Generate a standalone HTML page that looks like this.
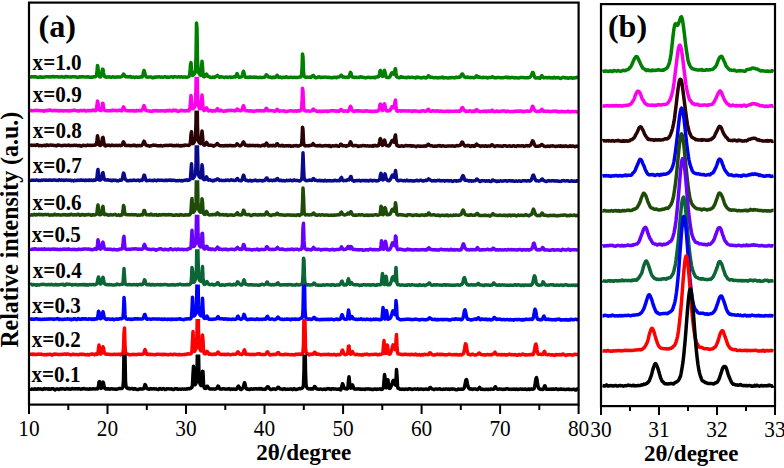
<!DOCTYPE html><html><head><meta charset="utf-8"><style>html,body{margin:0;padding:0;background:#fff;}svg{display:block;}text{font-family:"Liberation Serif",serif;}</style></head><body>
<svg width="784" height="468" viewBox="0 0 784 468">
<rect width="784" height="468" fill="#fff"/>
<defs>
<clipPath id="ca0"><rect x="29.0" y="2.6" width="549.6" height="402.0"/></clipPath>
<clipPath id="ca1"><rect x="29.0" y="76.8" width="549.6" height="327.8"/></clipPath>
<clipPath id="ca2"><rect x="29.0" y="110.5" width="549.6" height="294.1"/></clipPath>
<clipPath id="ca3"><rect x="29.0" y="145.3" width="549.6" height="259.2"/></clipPath>
<clipPath id="ca4"><rect x="29.0" y="180.2" width="549.6" height="224.4"/></clipPath>
<clipPath id="ca5"><rect x="29.0" y="214.7" width="549.6" height="189.9"/></clipPath>
<clipPath id="ca6"><rect x="29.0" y="249.2" width="549.6" height="155.4"/></clipPath>
<clipPath id="ca7"><rect x="29.0" y="284.6" width="549.6" height="120.0"/></clipPath>
<clipPath id="ca8"><rect x="29.0" y="319.1" width="549.6" height="85.5"/></clipPath>
<clipPath id="ca9"><rect x="29.0" y="354.4" width="549.6" height="50.2"/></clipPath>
<clipPath id="cb"><rect x="601.0" y="4.1" width="174.0" height="402.0"/></clipPath>
</defs>
<path clip-path="url(#ca0)" d="M30.0 77.0L30.5 77.1L31.0 77.0L31.5 76.7L32.0 76.7L32.5 76.8L33.0 76.9L33.5 76.8L34.0 76.7L34.5 76.9L35.0 76.9L35.5 76.8L36.0 76.9L36.5 77.0L37.0 77.3L37.5 77.3L38.0 77.5L38.5 77.3L39.0 77.3L39.5 77.0L40.0 76.9L40.5 76.8L41.0 77.2L41.5 77.3L42.0 77.2L42.5 76.9L43.0 77.0L43.5 77.1L44.0 77.2L44.5 77.1L45.0 76.9L45.5 76.9L46.0 76.8L46.5 76.8L47.0 76.8L47.5 76.8L48.0 76.9L48.5 76.8L49.0 77.0L49.5 77.0L50.0 76.8L50.5 76.9L51.0 76.7L51.5 76.9L52.0 76.8L52.5 76.6L53.0 76.6L53.5 76.6L54.0 76.9L54.5 76.9L55.0 76.8L55.5 76.7L56.0 76.8L56.5 76.7L57.0 76.6L57.5 76.7L58.0 76.7L58.5 77.0L59.0 76.9L59.5 77.1L60.0 77.1L60.5 77.1L61.0 76.8L61.5 76.6L62.0 76.8L62.5 77.0L63.0 77.1L63.5 77.1L64.0 77.1L64.5 77.2L65.0 76.8L65.5 76.6L66.0 76.6L66.5 76.9L67.0 77.0L67.5 76.7L68.0 76.8L68.5 76.8L69.0 76.9L69.5 76.9L70.0 76.9L70.5 77.1L71.0 77.0L71.5 77.1L72.0 76.8L72.5 76.7L73.0 76.6L73.5 76.7L74.0 76.8L74.5 76.7L75.0 76.8L75.5 76.7L76.0 77.0L76.5 76.9L77.0 77.2L77.5 77.3L78.0 77.4L78.5 77.3L79.0 77.0L79.5 76.7L80.0 76.7L80.5 76.8L81.0 77.1L81.5 76.9L82.0 76.8L82.5 76.9L83.0 76.8L83.5 76.8L84.0 76.9L84.5 77.0L85.0 77.0L85.5 77.0L86.0 77.0L86.5 77.1L87.0 76.8L87.5 76.9L88.0 76.7L88.5 76.9L89.0 77.0L89.5 77.3L90.0 77.3L90.5 77.3L91.0 77.3L91.5 77.0L92.0 77.3L92.5 76.9L93.0 77.1L93.5 76.8L94.0 76.8L94.5 76.9L95.0 76.8L95.5 76.6L96.0 76.2L96.5 75.2L97.0 70.9L97.5 65.4L98.0 67.6L98.5 73.7L99.0 76.1L99.5 76.8L100.0 76.9L100.5 77.0L101.0 76.3L101.5 74.8L102.0 71.7L102.5 69.2L103.0 69.4L103.5 72.5L104.0 75.2L104.5 76.4L105.0 76.8L105.5 76.9L106.0 77.1L106.5 77.2L107.0 77.0L107.5 76.9L108.0 76.9L108.5 77.1L109.0 76.8L109.5 76.9L110.0 77.0L110.5 77.2L111.0 77.3L111.5 77.2L112.0 77.1L112.5 76.8L113.0 77.0L113.5 77.0L114.0 77.1L114.5 77.0L115.0 77.2L115.5 77.3L116.0 77.1L116.5 77.0L117.0 76.8L117.5 77.0L118.0 77.0L118.5 77.1L119.0 77.0L119.5 77.0L120.0 76.9L120.5 77.0L121.0 76.8L121.5 76.6L122.0 76.3L122.5 75.8L123.0 74.9L123.5 74.1L124.0 74.5L124.5 75.5L125.0 76.3L125.5 76.7L126.0 76.6L126.5 76.6L127.0 76.8L127.5 76.7L128.0 77.0L128.5 76.8L129.0 76.9L129.5 76.7L130.0 76.5L130.5 76.4L131.0 76.7L131.5 77.2L132.0 77.2L132.5 77.2L133.0 77.0L133.5 77.0L134.0 77.1L134.5 77.4L135.0 77.4L135.5 77.2L136.0 77.0L136.5 77.0L137.0 77.1L137.5 77.3L138.0 77.3L138.5 77.3L139.0 77.3L139.5 77.2L140.0 77.1L140.5 76.8L141.0 77.0L141.5 77.0L142.0 77.1L142.5 76.5L143.0 74.7L143.5 72.2L144.0 70.5L144.5 71.8L145.0 73.9L145.5 75.9L146.0 76.5L146.5 77.0L147.0 76.8L147.5 77.2L148.0 77.2L148.5 77.1L149.0 77.0L149.5 76.9L150.0 77.0L150.5 76.9L151.0 76.9L151.5 77.1L152.0 77.4L152.5 77.7L153.0 77.8L153.5 77.8L154.0 77.3L154.5 76.9L155.0 77.0L155.5 77.3L156.0 77.1L156.5 77.0L157.0 76.8L157.5 77.0L158.0 77.0L158.5 76.9L159.0 76.8L159.5 76.8L160.0 77.1L160.5 77.1L161.0 77.2L161.5 76.9L162.0 77.1L162.5 77.1L163.0 77.2L163.5 77.2L164.0 77.0L164.5 76.8L165.0 76.7L165.5 76.8L166.0 76.9L166.5 77.2L167.0 77.3L167.5 77.4L168.0 77.0L168.5 77.2L169.0 77.2L169.5 77.2L170.0 76.9L170.5 76.9L171.0 76.8L171.5 76.8L172.0 76.9L172.5 77.0L173.0 77.4L173.5 77.1L174.0 76.9L174.5 76.6L175.0 76.7L175.5 76.8L176.0 76.9L176.5 77.0L177.0 77.1L177.5 77.1L178.0 76.9L178.5 76.8L179.0 76.8L179.5 77.0L180.0 77.2L180.5 77.0L181.0 76.8L181.5 76.7L182.0 77.0L182.5 77.2L183.0 77.2L183.5 77.0L184.0 76.9L184.5 77.0L185.0 77.1L185.5 77.0L186.0 77.2L186.5 77.2L187.0 77.3L187.5 76.9L188.0 76.9L188.5 76.7L189.0 76.5L189.5 75.6L190.0 72.0L190.5 64.4L191.0 62.6L191.5 69.9L192.0 74.7L192.5 75.4L193.0 75.1L193.5 74.7L194.0 74.5L194.5 73.6L195.0 72.6L195.5 70.0L196.0 56.7L196.5 22.9L197.0 28.4L197.5 60.3L198.0 70.1L198.5 72.3L199.0 73.2L199.5 74.1L200.0 74.8L200.5 75.4L201.0 73.8L201.5 67.4L202.0 61.2L202.5 66.1L203.0 73.6L203.5 76.5L204.0 76.8L204.5 76.7L205.0 76.3L205.5 75.6L206.0 74.4L206.5 74.0L207.0 74.8L207.5 75.9L208.0 76.6L208.5 76.6L209.0 76.6L209.5 76.7L210.0 77.2L210.5 77.2L211.0 77.5L211.5 77.5L212.0 77.4L212.5 77.0L213.0 76.9L213.5 77.2L214.0 77.4L214.5 77.4L215.0 77.1L215.5 76.7L216.0 76.4L216.5 76.0L217.0 75.7L217.5 75.4L218.0 75.8L218.5 76.6L219.0 77.0L219.5 77.3L220.0 77.1L220.5 77.0L221.0 76.7L221.5 76.9L222.0 77.0L222.5 77.1L223.0 77.1L223.5 77.2L224.0 77.4L224.5 77.5L225.0 77.4L225.5 77.2L226.0 77.0L226.5 77.0L227.0 77.2L227.5 77.3L228.0 77.5L228.5 77.2L229.0 77.1L229.5 77.0L230.0 77.0L230.5 77.1L231.0 77.4L231.5 77.3L232.0 77.1L232.5 77.2L233.0 77.1L233.5 77.1L234.0 76.7L234.5 76.9L235.0 77.0L235.5 77.0L236.0 75.9L236.5 74.8L237.0 73.6L237.5 74.6L238.0 75.7L238.5 76.9L239.0 77.2L239.5 77.2L240.0 77.2L240.5 77.0L241.0 77.0L241.5 76.8L242.0 76.3L242.5 74.7L243.0 72.3L243.5 71.3L244.0 73.0L244.5 75.3L245.0 76.8L245.5 77.3L246.0 77.4L246.5 77.2L247.0 77.2L247.5 77.2L248.0 77.4L248.5 77.4L249.0 77.3L249.5 77.3L250.0 76.9L250.5 77.2L251.0 77.0L251.5 77.3L252.0 77.3L252.5 77.2L253.0 77.2L253.5 77.1L254.0 77.1L254.5 77.3L255.0 77.4L255.5 77.3L256.0 77.1L256.5 77.2L257.0 77.2L257.5 77.6L258.0 77.4L258.5 77.5L259.0 77.5L259.5 77.6L260.0 77.3L260.5 77.3L261.0 77.4L261.5 77.6L262.0 77.6L262.5 77.4L263.0 77.4L263.5 77.3L264.0 77.3L264.5 77.2L265.0 76.8L265.5 76.2L266.0 75.1L266.5 74.8L267.0 75.0L267.5 76.1L268.0 76.6L268.5 77.1L269.0 77.1L269.5 77.2L270.0 76.9L270.5 77.1L271.0 77.3L271.5 77.7L272.0 77.7L272.5 77.4L273.0 77.2L273.5 77.1L274.0 77.4L274.5 77.6L275.0 77.2L275.5 77.3L276.0 76.7L276.5 76.3L277.0 75.2L277.5 75.7L278.0 76.3L278.5 77.3L279.0 77.5L279.5 77.3L280.0 77.1L280.5 77.0L281.0 77.3L281.5 77.7L282.0 77.7L282.5 77.6L283.0 77.3L283.5 77.3L284.0 77.4L284.5 77.4L285.0 77.4L285.5 77.1L286.0 76.8L286.5 76.9L287.0 77.1L287.5 77.4L288.0 77.4L288.5 77.4L289.0 77.4L289.5 77.5L290.0 77.3L290.5 77.3L291.0 77.2L291.5 77.3L292.0 77.3L292.5 77.5L293.0 77.5L293.5 77.5L294.0 77.3L294.5 77.3L295.0 77.4L295.5 77.4L296.0 77.6L296.5 77.5L297.0 77.5L297.5 77.6L298.0 77.5L298.5 77.4L299.0 77.1L299.5 77.1L300.0 77.1L300.5 77.1L301.0 76.7L301.5 75.7L302.0 69.5L302.5 54.0L303.0 56.9L303.5 71.6L304.0 75.8L304.5 76.7L305.0 76.9L305.5 77.2L306.0 77.2L306.5 77.3L307.0 77.0L307.5 77.1L308.0 77.2L308.5 77.3L309.0 77.3L309.5 77.1L310.0 77.1L310.5 77.4L311.0 77.3L311.5 77.1L312.0 76.4L312.5 75.7L313.0 75.4L313.5 75.5L314.0 76.3L314.5 77.1L315.0 77.5L315.5 77.7L316.0 77.6L316.5 77.7L317.0 77.4L317.5 77.3L318.0 77.1L318.5 77.1L319.0 76.8L319.5 76.9L320.0 77.1L320.5 77.5L321.0 77.6L321.5 77.5L322.0 77.3L322.5 77.2L323.0 77.1L323.5 77.3L324.0 77.3L324.5 77.3L325.0 77.2L325.5 77.0L326.0 77.1L326.5 77.2L327.0 77.3L327.5 77.5L328.0 77.6L328.5 77.6L329.0 77.5L329.5 77.2L330.0 77.5L330.5 77.6L331.0 77.7L331.5 77.6L332.0 77.8L332.5 77.8L333.0 77.6L333.5 77.2L334.0 77.3L334.5 77.4L335.0 77.3L335.5 77.6L336.0 77.6L336.5 77.7L337.0 77.2L337.5 76.9L338.0 76.9L338.5 76.9L339.0 77.0L339.5 76.9L340.0 76.6L340.5 75.9L341.0 75.3L341.5 75.3L342.0 76.1L342.5 76.8L343.0 77.2L343.5 77.1L344.0 77.1L344.5 77.0L345.0 77.3L345.5 77.3L346.0 77.5L346.5 77.3L347.0 77.1L347.5 77.3L348.0 77.5L348.5 77.4L349.0 76.9L349.5 75.7L350.0 73.7L350.5 72.4L351.0 73.1L351.5 75.3L352.0 76.5L352.5 77.1L353.0 77.0L353.5 77.3L354.0 77.4L354.5 77.6L355.0 77.5L355.5 77.3L356.0 77.3L356.5 77.4L357.0 77.5L357.5 77.5L358.0 77.3L358.5 77.4L359.0 77.4L359.5 77.4L360.0 77.0L360.5 76.7L361.0 76.8L361.5 77.1L362.0 77.2L362.5 77.2L363.0 77.3L363.5 77.5L364.0 77.5L364.5 77.4L365.0 77.7L365.5 77.9L366.0 77.7L366.5 77.6L367.0 77.4L367.5 77.5L368.0 77.3L368.5 77.3L369.0 77.3L369.5 77.5L370.0 77.5L370.5 77.7L371.0 77.4L371.5 77.4L372.0 77.4L372.5 77.5L373.0 77.6L373.5 77.4L374.0 77.5L374.5 77.6L375.0 77.8L375.5 77.2L376.0 77.0L376.5 76.9L377.0 77.1L377.5 77.0L378.0 76.9L378.5 76.8L379.0 75.9L379.5 73.6L380.0 70.9L380.5 70.4L381.0 72.4L381.5 74.8L382.0 76.0L382.5 76.4L383.0 76.3L383.5 74.3L384.0 71.7L384.5 70.3L385.0 72.1L385.5 74.8L386.0 76.7L386.5 77.3L387.0 77.5L387.5 77.4L388.0 77.5L388.5 77.4L389.0 77.6L389.5 77.1L390.0 76.6L390.5 75.4L391.0 74.4L391.5 73.3L392.0 72.8L392.5 72.7L393.0 73.2L393.5 73.8L394.0 74.4L394.5 73.4L395.0 69.5L395.5 68.7L396.0 73.0L396.5 76.4L397.0 77.1L397.5 77.3L398.0 77.5L398.5 77.5L399.0 77.8L399.5 77.7L400.0 77.4L400.5 76.9L401.0 76.7L401.5 76.9L402.0 77.3L402.5 77.2L403.0 77.4L403.5 77.3L404.0 77.5L404.5 77.5L405.0 77.5L405.5 77.5L406.0 77.7L406.5 77.7L407.0 77.4L407.5 77.2L408.0 77.2L408.5 77.4L409.0 77.3L409.5 77.5L410.0 77.6L410.5 77.5L411.0 77.4L411.5 77.3L412.0 77.2L412.5 77.4L413.0 77.4L413.5 77.6L414.0 77.4L414.5 77.6L415.0 77.6L415.5 77.9L416.0 77.6L416.5 77.4L417.0 77.1L417.5 77.4L418.0 77.4L418.5 77.6L419.0 77.5L419.5 77.6L420.0 77.6L420.5 77.8L421.0 78.0L421.5 78.0L422.0 77.8L422.5 77.7L423.0 77.5L423.5 77.2L424.0 77.3L424.5 77.5L425.0 77.8L425.5 77.9L426.0 77.9L426.5 77.6L427.0 77.4L427.5 76.9L428.0 76.1L428.5 75.7L429.0 76.0L429.5 76.8L430.0 77.2L430.5 77.4L431.0 77.2L431.5 77.3L432.0 77.2L432.5 77.4L433.0 77.6L433.5 77.7L434.0 77.8L434.5 77.6L435.0 77.7L435.5 77.5L436.0 77.5L436.5 77.5L437.0 77.9L437.5 78.0L438.0 77.8L438.5 77.7L439.0 77.6L439.5 77.7L440.0 77.5L440.5 77.7L441.0 77.6L441.5 77.5L442.0 77.1L442.5 77.2L443.0 77.4L443.5 77.9L444.0 77.6L444.5 77.7L445.0 77.7L445.5 77.8L446.0 77.8L446.5 77.8L447.0 77.9L447.5 78.0L448.0 78.1L448.5 78.1L449.0 77.8L449.5 77.6L450.0 77.8L450.5 77.9L451.0 77.8L451.5 77.4L452.0 77.4L452.5 77.6L453.0 77.6L453.5 77.7L454.0 77.7L454.5 77.9L455.0 77.6L455.5 77.4L456.0 77.2L456.5 77.4L457.0 77.3L457.5 77.6L458.0 77.5L458.5 77.3L459.0 77.1L459.5 77.1L460.0 77.2L460.5 76.8L461.0 75.7L461.5 74.6L462.0 73.9L462.5 74.0L463.0 74.7L463.5 75.6L464.0 76.4L464.5 76.9L465.0 77.1L465.5 77.5L466.0 77.5L466.5 77.3L467.0 77.1L467.5 77.1L468.0 77.4L468.5 77.3L469.0 77.4L469.5 77.5L470.0 77.7L470.5 77.4L471.0 77.5L471.5 77.5L472.0 77.6L472.5 77.6L473.0 77.6L473.5 77.7L474.0 77.7L474.5 77.6L475.0 77.4L475.5 76.9L476.0 76.2L476.5 75.7L477.0 76.0L477.5 77.0L478.0 77.3L478.5 77.2L479.0 76.8L479.5 77.0L480.0 77.3L480.5 77.5L481.0 77.5L481.5 77.4L482.0 77.6L482.5 77.4L483.0 77.7L483.5 77.3L484.0 77.4L484.5 77.5L485.0 77.6L485.5 77.6L486.0 77.5L486.5 77.5L487.0 77.6L487.5 77.9L488.0 77.9L488.5 77.7L489.0 77.4L489.5 77.5L490.0 77.4L490.5 77.5L491.0 77.4L491.5 77.2L492.0 76.7L492.5 76.8L493.0 76.9L493.5 77.5L494.0 77.6L494.5 77.7L495.0 77.6L495.5 77.7L496.0 77.9L496.5 77.7L497.0 77.4L497.5 77.4L498.0 77.5L498.5 77.6L499.0 77.6L499.5 77.6L500.0 77.7L500.5 77.7L501.0 77.8L501.5 77.8L502.0 77.7L502.5 77.7L503.0 77.8L503.5 77.6L504.0 77.5L504.5 77.4L505.0 77.4L505.5 77.3L506.0 77.1L506.5 77.4L507.0 77.4L507.5 77.7L508.0 77.4L508.5 77.2L509.0 77.5L509.5 77.8L510.0 78.0L510.5 77.6L511.0 77.4L511.5 77.5L512.0 77.5L512.5 77.5L513.0 77.5L513.5 77.5L514.0 77.9L514.5 77.8L515.0 78.0L515.5 77.6L516.0 77.7L516.5 77.7L517.0 77.8L517.5 77.9L518.0 77.9L518.5 78.1L519.0 78.0L519.5 77.8L520.0 77.5L520.5 77.5L521.0 77.4L521.5 77.6L522.0 77.6L522.5 77.6L523.0 77.5L523.5 77.5L524.0 77.6L524.5 77.8L525.0 77.7L525.5 77.8L526.0 77.7L526.5 77.7L527.0 77.5L527.5 77.8L528.0 77.7L528.5 77.7L529.0 77.6L529.5 77.3L530.0 77.2L530.5 76.6L531.0 76.0L531.5 74.9L532.0 73.6L532.5 72.5L533.0 72.4L533.5 73.5L534.0 75.2L534.5 76.7L535.0 77.5L535.5 78.0L536.0 77.9L536.5 78.0L537.0 77.8L537.5 77.9L538.0 77.8L538.5 77.9L539.0 78.1L539.5 78.2L540.0 78.2L540.5 77.7L541.0 76.6L541.5 75.9L542.0 75.7L542.5 76.9L543.0 77.3L543.5 77.8L544.0 77.7L544.5 77.7L545.0 77.4L545.5 77.4L546.0 77.4L546.5 77.8L547.0 77.8L547.5 77.8L548.0 77.6L548.5 77.7L549.0 77.4L549.5 77.8L550.0 77.8L550.5 77.9L551.0 77.7L551.5 77.8L552.0 77.9L552.5 78.1L553.0 78.0L553.5 77.6L554.0 77.3L554.5 77.4L555.0 77.9L555.5 78.1L556.0 77.8L556.5 77.8L557.0 77.8L557.5 77.8L558.0 77.6L558.5 77.6L559.0 77.8L559.5 78.2L560.0 78.2L560.5 78.4L561.0 78.1L561.5 78.0L562.0 77.7L562.5 77.5L563.0 77.3L563.5 77.5L564.0 77.7L564.5 77.7L565.0 77.6L565.5 77.8L566.0 78.0L566.5 78.1L567.0 77.8L567.5 78.1L568.0 78.1L568.5 78.3L569.0 78.0L569.5 77.8L570.0 77.8L570.5 77.8L571.0 77.6L571.5 77.9L572.0 77.9L572.5 78.2L573.0 77.9L573.5 77.8L574.0 77.9L574.5 78.0L575.0 77.9L575.5 77.7L576.0 77.7L576.5 77.6L577.0 77.3L577.5 77.4L578.0 77.6" fill="none" stroke="#008000" stroke-width="3.5" stroke-linejoin="round"/>
<path clip-path="url(#ca1)" d="M30.0 110.7L30.5 110.6L31.0 110.6L31.5 110.6L32.0 110.8L32.5 110.8L33.0 110.8L33.5 110.7L34.0 110.6L34.5 110.4L35.0 110.3L35.5 110.4L36.0 110.4L36.5 110.5L37.0 110.6L37.5 110.5L38.0 110.6L38.5 110.4L39.0 110.5L39.5 110.5L40.0 110.7L40.5 110.8L41.0 110.7L41.5 110.7L42.0 110.5L42.5 110.6L43.0 110.8L43.5 111.1L44.0 111.2L44.5 110.9L45.0 110.7L45.5 110.4L46.0 110.5L46.5 110.8L47.0 110.6L47.5 110.4L48.0 110.3L48.5 110.4L49.0 110.1L49.5 109.9L50.0 110.1L50.5 110.3L51.0 110.4L51.5 110.5L52.0 110.7L52.5 110.8L53.0 110.8L53.5 110.7L54.0 110.7L54.5 110.3L55.0 110.4L55.5 110.4L56.0 110.7L56.5 110.6L57.0 110.4L57.5 110.5L58.0 110.6L58.5 111.0L59.0 111.1L59.5 110.9L60.0 110.6L60.5 110.7L61.0 110.8L61.5 110.8L62.0 110.6L62.5 110.6L63.0 110.7L63.5 111.0L64.0 111.0L64.5 110.8L65.0 110.8L65.5 110.7L66.0 110.9L66.5 110.7L67.0 110.7L67.5 110.8L68.0 110.7L68.5 110.6L69.0 110.9L69.5 110.9L70.0 111.0L70.5 110.8L71.0 110.8L71.5 110.6L72.0 110.4L72.5 110.5L73.0 110.4L73.5 110.4L74.0 110.2L74.5 110.1L75.0 110.3L75.5 110.5L76.0 110.6L76.5 110.7L77.0 110.7L77.5 110.9L78.0 110.7L78.5 111.0L79.0 111.0L79.5 111.0L80.0 110.6L80.5 110.4L81.0 110.4L81.5 110.5L82.0 110.8L82.5 110.7L83.0 110.7L83.5 110.5L84.0 110.4L84.5 110.3L85.0 110.6L85.5 111.0L86.0 111.1L86.5 111.1L87.0 110.8L87.5 110.6L88.0 110.6L88.5 110.7L89.0 110.6L89.5 110.4L90.0 110.6L90.5 110.8L91.0 110.7L91.5 110.6L92.0 110.4L92.5 110.2L93.0 110.1L93.5 110.1L94.0 110.2L94.5 110.5L95.0 110.7L95.5 110.7L96.0 110.4L96.5 109.2L97.0 105.6L97.5 101.0L98.0 102.9L98.5 107.8L99.0 109.8L99.5 110.2L100.0 110.2L100.5 110.2L101.0 110.6L101.5 110.2L102.0 107.7L102.5 103.2L103.0 103.4L103.5 107.6L104.0 109.9L104.5 110.5L105.0 110.5L105.5 110.5L106.0 110.6L106.5 110.8L107.0 110.7L107.5 110.7L108.0 110.6L108.5 110.7L109.0 110.7L109.5 110.8L110.0 110.7L110.5 110.6L111.0 110.6L111.5 110.7L112.0 110.3L112.5 110.4L113.0 110.2L113.5 110.6L114.0 110.5L114.5 110.6L115.0 110.5L115.5 110.3L116.0 110.4L116.5 110.6L117.0 110.8L117.5 110.8L118.0 110.6L118.5 110.3L119.0 110.4L119.5 110.3L120.0 110.3L120.5 110.3L121.0 110.6L121.5 110.9L122.0 110.8L122.5 109.5L123.0 108.1L123.5 106.9L124.0 107.7L124.5 108.8L125.0 109.7L125.5 110.2L126.0 110.5L126.5 110.7L127.0 110.7L127.5 110.7L128.0 110.7L128.5 110.6L129.0 110.7L129.5 110.7L130.0 111.0L130.5 110.8L131.0 110.7L131.5 110.6L132.0 110.5L132.5 110.8L133.0 110.7L133.5 110.9L134.0 110.6L134.5 110.7L135.0 111.0L135.5 111.1L136.0 111.1L136.5 110.6L137.0 110.4L137.5 110.4L138.0 110.8L138.5 110.7L139.0 110.5L139.5 110.3L140.0 110.5L140.5 110.9L141.0 110.8L141.5 110.4L142.0 110.0L142.5 109.4L143.0 108.5L143.5 106.8L144.0 105.6L144.5 106.8L145.0 108.7L145.5 110.1L146.0 110.4L146.5 110.4L147.0 110.5L147.5 110.7L148.0 110.9L148.5 111.0L149.0 111.0L149.5 111.0L150.0 111.2L150.5 111.1L151.0 111.2L151.5 111.2L152.0 111.4L152.5 111.1L153.0 110.9L153.5 110.4L154.0 110.6L154.5 110.8L155.0 110.9L155.5 110.7L156.0 110.7L156.5 110.6L157.0 110.6L157.5 110.7L158.0 111.1L158.5 111.0L159.0 110.8L159.5 110.9L160.0 111.0L160.5 111.0L161.0 110.7L161.5 110.7L162.0 110.7L162.5 110.7L163.0 110.8L163.5 111.0L164.0 111.0L164.5 110.8L165.0 111.1L165.5 111.2L166.0 111.0L166.5 110.5L167.0 110.7L167.5 110.5L168.0 110.9L168.5 110.4L169.0 110.6L169.5 110.3L170.0 110.5L170.5 110.8L171.0 110.8L171.5 110.9L172.0 111.1L172.5 110.8L173.0 110.6L173.5 110.1L174.0 110.6L174.5 110.5L175.0 110.5L175.5 110.2L176.0 110.3L176.5 110.7L177.0 111.0L177.5 111.2L178.0 111.3L178.5 111.3L179.0 111.1L179.5 110.9L180.0 110.9L180.5 110.5L181.0 110.3L181.5 110.3L182.0 110.4L182.5 110.7L183.0 110.7L183.5 110.8L184.0 110.8L184.5 110.8L185.0 111.1L185.5 110.9L186.0 110.6L186.5 110.5L187.0 110.5L187.5 110.8L188.0 110.8L188.5 111.0L189.0 110.5L189.5 109.7L190.0 107.6L190.5 101.5L191.0 95.4L191.5 99.7L192.0 106.4L192.5 108.8L193.0 108.8L193.5 108.3L194.0 107.8L194.5 107.0L195.0 106.0L195.5 103.0L196.0 87.0L196.5 45.4L197.0 52.5L197.5 91.5L198.0 103.6L198.5 106.1L199.0 107.4L199.5 108.4L200.0 108.7L200.5 108.6L201.0 106.8L201.5 100.8L202.0 95.0L202.5 100.1L203.0 107.0L203.5 110.0L204.0 110.6L204.5 110.5L205.0 109.9L205.5 108.9L206.0 108.1L206.5 107.8L207.0 108.5L207.5 109.9L208.0 110.6L208.5 110.9L209.0 110.7L209.5 110.5L210.0 110.5L210.5 110.3L211.0 110.5L211.5 110.5L212.0 111.1L212.5 111.2L213.0 111.0L213.5 110.9L214.0 110.7L214.5 110.9L215.0 110.9L215.5 110.9L216.0 110.7L216.5 110.1L217.0 109.2L217.5 108.7L218.0 109.3L218.5 110.2L219.0 110.8L219.5 110.9L220.0 110.6L220.5 110.3L221.0 110.2L221.5 110.4L222.0 110.8L222.5 111.0L223.0 111.1L223.5 111.2L224.0 111.2L224.5 111.1L225.0 110.9L225.5 110.9L226.0 110.8L226.5 111.1L227.0 110.8L227.5 110.7L228.0 110.3L228.5 110.5L229.0 110.3L229.5 110.6L230.0 110.6L230.5 110.4L231.0 110.6L231.5 110.5L232.0 110.6L232.5 110.4L233.0 110.5L233.5 110.5L234.0 110.7L234.5 110.7L235.0 111.0L235.5 110.8L236.0 110.5L236.5 109.6L237.0 109.0L237.5 109.2L238.0 110.1L238.5 110.4L239.0 110.5L239.5 110.3L240.0 110.6L240.5 110.8L241.0 110.8L241.5 110.5L242.0 110.1L242.5 108.7L243.0 106.4L243.5 105.7L244.0 107.0L244.5 109.2L245.0 110.1L245.5 110.5L246.0 110.8L246.5 110.8L247.0 110.8L247.5 110.7L248.0 110.8L248.5 111.0L249.0 111.0L249.5 110.7L250.0 110.9L250.5 110.7L251.0 111.1L251.5 110.9L252.0 111.0L252.5 111.2L253.0 111.3L253.5 111.4L254.0 111.1L254.5 110.9L255.0 110.9L255.5 111.0L256.0 111.0L256.5 110.9L257.0 110.5L257.5 110.7L258.0 110.8L258.5 111.0L259.0 110.9L259.5 110.6L260.0 110.6L260.5 110.8L261.0 110.9L261.5 111.0L262.0 110.8L262.5 110.7L263.0 110.8L263.5 111.1L264.0 111.0L264.5 110.7L265.0 110.4L265.5 109.8L266.0 108.7L266.5 108.3L267.0 109.0L267.5 110.0L268.0 110.6L268.5 110.7L269.0 110.7L269.5 110.6L270.0 110.7L270.5 110.5L271.0 110.5L271.5 110.6L272.0 110.8L272.5 110.8L273.0 110.9L273.5 111.0L274.0 111.1L274.5 111.2L275.0 111.2L275.5 111.1L276.0 110.4L276.5 109.9L277.0 109.3L277.5 109.5L278.0 110.0L278.5 110.7L279.0 110.9L279.5 111.2L280.0 111.1L280.5 111.0L281.0 110.9L281.5 110.9L282.0 111.0L282.5 110.9L283.0 110.9L283.5 111.0L284.0 110.8L284.5 111.1L285.0 111.2L285.5 111.5L286.0 111.4L286.5 111.4L287.0 111.4L287.5 111.2L288.0 111.2L288.5 111.0L289.0 111.0L289.5 111.0L290.0 111.0L290.5 110.8L291.0 110.7L291.5 110.8L292.0 111.0L292.5 111.2L293.0 111.1L293.5 110.9L294.0 110.9L294.5 111.0L295.0 110.9L295.5 110.9L296.0 110.8L296.5 111.1L297.0 111.2L297.5 111.2L298.0 110.8L298.5 110.7L299.0 110.7L299.5 111.0L300.0 110.9L300.5 110.6L301.0 110.2L301.5 108.9L302.0 103.2L302.5 88.3L303.0 91.4L303.5 105.2L304.0 109.7L304.5 110.5L305.0 110.8L305.5 110.8L306.0 111.1L306.5 111.1L307.0 111.1L307.5 110.9L308.0 111.1L308.5 111.1L309.0 111.0L309.5 111.1L310.0 111.2L310.5 111.2L311.0 111.0L311.5 110.8L312.0 110.6L312.5 110.0L313.0 109.3L313.5 109.1L314.0 109.9L314.5 110.3L315.0 110.7L315.5 110.7L316.0 110.8L316.5 111.2L317.0 111.3L317.5 111.6L318.0 111.5L318.5 111.3L319.0 111.2L319.5 111.1L320.0 111.4L320.5 111.2L321.0 111.4L321.5 111.2L322.0 111.4L322.5 111.3L323.0 111.4L323.5 111.5L324.0 111.4L324.5 111.1L325.0 110.9L325.5 111.0L326.0 111.2L326.5 111.4L327.0 111.2L327.5 111.4L328.0 111.1L328.5 111.2L329.0 111.1L329.5 111.2L330.0 111.0L330.5 110.8L331.0 110.7L331.5 110.8L332.0 110.7L332.5 110.7L333.0 110.7L333.5 110.7L334.0 110.9L334.5 110.8L335.0 111.1L335.5 111.2L336.0 111.1L336.5 111.2L337.0 111.0L337.5 111.1L338.0 110.9L338.5 111.2L339.0 111.3L339.5 111.1L340.0 110.4L340.5 109.6L341.0 109.5L341.5 109.6L342.0 110.4L342.5 110.6L343.0 111.2L343.5 111.1L344.0 111.2L344.5 110.9L345.0 111.1L345.5 111.1L346.0 111.0L346.5 110.9L347.0 110.9L347.5 111.3L348.0 111.3L348.5 110.9L349.0 110.1L349.5 108.8L350.0 107.3L350.5 106.3L351.0 107.0L351.5 108.6L352.0 109.9L352.5 110.7L353.0 111.0L353.5 111.4L354.0 111.4L354.5 111.3L355.0 111.2L355.5 110.7L356.0 110.9L356.5 110.9L357.0 111.1L357.5 110.8L358.0 110.7L358.5 110.9L359.0 111.1L359.5 111.0L360.0 110.9L360.5 111.1L361.0 111.1L361.5 111.0L362.0 111.1L362.5 111.3L363.0 111.4L363.5 111.2L364.0 111.2L364.5 110.9L365.0 110.8L365.5 111.1L366.0 111.2L366.5 111.1L367.0 110.9L367.5 110.8L368.0 111.0L368.5 111.2L369.0 111.2L369.5 111.3L370.0 111.4L370.5 111.4L371.0 111.4L371.5 111.1L372.0 111.4L372.5 111.5L373.0 111.6L373.5 111.5L374.0 111.3L374.5 111.4L375.0 111.2L375.5 111.4L376.0 111.3L376.5 111.3L377.0 111.1L377.5 111.1L378.0 110.9L378.5 110.7L379.0 109.5L379.5 107.6L380.0 104.6L380.5 104.1L381.0 106.1L381.5 108.9L382.0 110.1L382.5 110.6L383.0 109.9L383.5 107.8L384.0 105.0L384.5 103.8L385.0 105.6L385.5 108.2L386.0 110.0L386.5 110.8L387.0 111.1L387.5 110.9L388.0 110.8L388.5 110.7L389.0 110.8L389.5 110.8L390.0 110.2L390.5 109.6L391.0 108.6L391.5 107.7L392.0 106.7L392.5 106.5L393.0 106.5L393.5 107.2L394.0 107.9L394.5 106.3L395.0 101.5L395.5 100.1L396.0 106.0L396.5 110.2L397.0 111.1L397.5 111.2L398.0 111.1L398.5 111.0L399.0 110.8L399.5 110.6L400.0 110.8L400.5 111.1L401.0 111.2L401.5 111.1L402.0 110.8L402.5 111.0L403.0 110.8L403.5 110.9L404.0 110.8L404.5 110.9L405.0 110.9L405.5 111.0L406.0 111.1L406.5 111.0L407.0 111.1L407.5 110.9L408.0 111.0L408.5 110.8L409.0 111.1L409.5 111.1L410.0 111.0L410.5 111.0L411.0 111.1L411.5 111.5L412.0 111.5L412.5 111.0L413.0 110.9L413.5 110.8L414.0 111.2L414.5 111.2L415.0 111.2L415.5 110.8L416.0 111.0L416.5 111.0L417.0 111.2L417.5 111.2L418.0 111.3L418.5 111.4L419.0 111.5L419.5 111.5L420.0 111.4L420.5 111.1L421.0 111.4L421.5 111.2L422.0 111.1L422.5 110.8L423.0 110.8L423.5 110.9L424.0 111.0L424.5 111.2L425.0 111.1L425.5 111.2L426.0 111.2L426.5 111.0L427.0 110.7L427.5 110.1L428.0 109.6L428.5 109.3L429.0 109.9L429.5 110.7L430.0 111.2L430.5 111.3L431.0 111.3L431.5 111.4L432.0 111.0L432.5 110.9L433.0 110.7L433.5 111.0L434.0 110.9L434.5 110.9L435.0 110.9L435.5 111.2L436.0 111.2L436.5 111.0L437.0 111.0L437.5 110.8L438.0 111.1L438.5 111.0L439.0 111.4L439.5 111.0L440.0 111.2L440.5 111.1L441.0 111.2L441.5 111.0L442.0 111.1L442.5 111.3L443.0 111.6L443.5 111.5L444.0 111.4L444.5 111.3L445.0 111.4L445.5 111.4L446.0 111.5L446.5 111.3L447.0 111.1L447.5 111.2L448.0 111.3L448.5 111.6L449.0 111.3L449.5 111.4L450.0 111.3L450.5 111.5L451.0 111.3L451.5 111.3L452.0 111.2L452.5 111.2L453.0 111.3L453.5 111.4L454.0 111.4L454.5 111.3L455.0 111.2L455.5 111.1L456.0 111.0L456.5 111.1L457.0 111.3L457.5 111.3L458.0 110.9L458.5 110.9L459.0 111.3L459.5 111.5L460.0 111.2L460.5 110.8L461.0 109.9L461.5 108.8L462.0 107.8L462.5 107.6L463.0 108.3L463.5 109.3L464.0 110.3L464.5 110.6L465.0 110.9L465.5 111.1L466.0 111.4L466.5 111.1L467.0 111.0L467.5 111.1L468.0 111.3L468.5 111.3L469.0 111.1L469.5 110.9L470.0 110.8L470.5 110.9L471.0 111.2L471.5 111.5L472.0 111.4L472.5 111.4L473.0 110.9L473.5 110.9L474.0 111.2L474.5 111.6L475.0 111.4L475.5 110.8L476.0 110.0L476.5 109.6L477.0 109.8L477.5 110.5L478.0 111.1L478.5 111.2L479.0 111.4L479.5 111.3L480.0 111.6L480.5 111.7L481.0 111.5L481.5 111.5L482.0 111.4L482.5 111.4L483.0 111.3L483.5 111.2L484.0 111.5L484.5 111.3L485.0 111.1L485.5 111.0L486.0 111.4L486.5 111.7L487.0 111.6L487.5 111.1L488.0 110.9L488.5 110.9L489.0 111.2L489.5 111.3L490.0 111.4L490.5 111.2L491.0 111.2L491.5 110.7L492.0 110.3L492.5 110.2L493.0 110.9L493.5 111.4L494.0 111.5L494.5 111.7L495.0 111.6L495.5 111.5L496.0 111.3L496.5 111.1L497.0 111.1L497.5 111.1L498.0 111.4L498.5 111.6L499.0 111.6L499.5 111.5L500.0 111.5L500.5 111.4L501.0 111.3L501.5 111.1L502.0 110.9L502.5 111.1L503.0 111.1L503.5 111.0L504.0 111.1L504.5 110.9L505.0 111.2L505.5 111.3L506.0 111.7L506.5 111.6L507.0 111.5L507.5 111.1L508.0 111.2L508.5 111.3L509.0 111.5L509.5 111.5L510.0 111.7L510.5 111.6L511.0 111.7L511.5 111.6L512.0 111.6L512.5 111.4L513.0 111.6L513.5 111.8L514.0 111.4L514.5 111.5L515.0 111.1L515.5 111.3L516.0 111.1L516.5 111.5L517.0 111.4L517.5 111.2L518.0 111.1L518.5 111.3L519.0 111.4L519.5 111.2L520.0 110.9L520.5 111.1L521.0 111.1L521.5 111.5L522.0 111.2L522.5 111.4L523.0 111.5L523.5 111.8L524.0 111.7L524.5 111.2L525.0 111.2L525.5 111.2L526.0 111.3L526.5 111.1L527.0 111.1L527.5 111.0L528.0 111.1L528.5 111.2L529.0 111.3L529.5 111.3L530.0 111.3L530.5 110.9L531.0 110.4L531.5 109.0L532.0 107.6L532.5 106.3L533.0 106.6L533.5 107.8L534.0 109.2L534.5 110.1L535.0 110.7L535.5 110.9L536.0 111.2L536.5 111.2L537.0 111.6L537.5 111.4L538.0 111.4L538.5 111.3L539.0 111.2L539.5 111.1L540.0 111.3L540.5 111.1L541.0 110.7L541.5 109.5L542.0 109.3L542.5 109.9L543.0 110.7L543.5 111.4L544.0 111.3L544.5 111.3L545.0 111.1L545.5 111.3L546.0 111.2L546.5 111.5L547.0 111.3L547.5 111.3L548.0 111.1L548.5 111.3L549.0 111.5L549.5 111.7L550.0 111.6L550.5 111.3L551.0 111.5L551.5 111.4L552.0 111.5L552.5 111.2L553.0 111.2L553.5 111.1L554.0 111.1L554.5 111.1L555.0 111.2L555.5 111.0L556.0 111.4L556.5 111.3L557.0 111.6L557.5 111.3L558.0 111.6L558.5 111.9L559.0 111.9L559.5 111.8L560.0 111.5L560.5 111.7L561.0 111.4L561.5 111.4L562.0 111.3L562.5 111.5L563.0 111.7L563.5 111.8L564.0 111.8L564.5 111.7L565.0 111.6L565.5 111.7L566.0 111.7L566.5 111.8L567.0 111.6L567.5 111.3L568.0 111.1L568.5 111.2L569.0 111.6L569.5 111.9L570.0 112.1L570.5 111.8L571.0 111.7L571.5 111.5L572.0 111.6L572.5 111.5L573.0 111.4L573.5 111.4L574.0 111.4L574.5 111.7L575.0 111.5L575.5 111.6L576.0 111.6L576.5 111.9L577.0 112.0L577.5 111.8L578.0 111.3" fill="none" stroke="#ff00ee" stroke-width="3.5" stroke-linejoin="round"/>
<path clip-path="url(#ca2)" d="M30.0 145.5L30.5 145.2L31.0 145.4L31.5 145.3L32.0 145.5L32.5 145.3L33.0 145.4L33.5 145.3L34.0 145.2L34.5 145.2L35.0 145.2L35.5 145.5L36.0 145.3L36.5 145.1L37.0 144.7L37.5 144.8L38.0 145.3L38.5 145.4L39.0 145.7L39.5 145.6L40.0 145.4L40.5 145.4L41.0 145.4L41.5 145.7L42.0 145.7L42.5 145.6L43.0 145.5L43.5 145.5L44.0 145.3L44.5 145.4L45.0 145.4L45.5 145.8L46.0 145.5L46.5 145.0L47.0 144.9L47.5 145.1L48.0 145.5L48.5 145.4L49.0 145.4L49.5 145.2L50.0 145.1L50.5 145.0L51.0 145.1L51.5 145.2L52.0 145.0L52.5 145.2L53.0 145.2L53.5 145.4L54.0 145.4L54.5 145.5L55.0 145.5L55.5 145.5L56.0 145.8L56.5 145.9L57.0 145.5L57.5 145.1L58.0 144.9L58.5 144.9L59.0 145.2L59.5 145.3L60.0 145.4L60.5 145.5L61.0 145.6L61.5 145.7L62.0 145.6L62.5 145.6L63.0 145.5L63.5 145.5L64.0 145.2L64.5 145.3L65.0 145.3L65.5 145.4L66.0 145.5L66.5 145.5L67.0 145.6L67.5 145.5L68.0 145.3L68.5 145.1L69.0 145.4L69.5 145.5L70.0 145.7L70.5 145.5L71.0 145.5L71.5 145.5L72.0 145.4L72.5 145.4L73.0 145.4L73.5 145.4L74.0 145.3L74.5 145.2L75.0 145.3L75.5 145.5L76.0 145.3L76.5 145.4L77.0 145.4L77.5 145.6L78.0 145.7L78.5 145.5L79.0 145.5L79.5 145.4L80.0 145.5L80.5 146.0L81.0 146.0L81.5 146.2L82.0 145.6L82.5 145.5L83.0 145.2L83.5 145.3L84.0 145.5L84.5 145.5L85.0 145.5L85.5 145.6L86.0 145.7L86.5 145.5L87.0 145.4L87.5 145.1L88.0 145.3L88.5 145.3L89.0 145.5L89.5 145.4L90.0 145.3L90.5 145.2L91.0 145.4L91.5 145.6L92.0 145.4L92.5 145.3L93.0 145.3L93.5 145.3L94.0 145.1L94.5 145.0L95.0 145.2L95.5 145.0L96.0 144.8L96.5 143.7L97.0 140.3L97.5 135.8L98.0 138.1L98.5 143.0L99.0 144.9L99.5 145.1L100.0 145.4L100.5 145.5L101.0 145.1L101.5 143.8L102.0 140.7L102.5 137.7L103.0 137.4L103.5 140.2L104.0 143.2L104.5 144.9L105.0 145.9L105.5 146.0L106.0 145.9L106.5 145.4L107.0 145.2L107.5 145.1L108.0 145.2L108.5 145.2L109.0 145.1L109.5 145.3L110.0 145.5L110.5 145.8L111.0 145.5L111.5 145.3L112.0 145.0L112.5 145.3L113.0 145.5L113.5 145.6L114.0 145.5L114.5 145.5L115.0 145.4L115.5 145.5L116.0 145.3L116.5 145.4L117.0 145.4L117.5 145.5L118.0 145.6L118.5 145.4L119.0 145.4L119.5 145.3L120.0 145.5L120.5 145.7L121.0 145.5L121.5 145.5L122.0 144.9L122.5 144.0L123.0 142.5L123.5 141.8L124.0 142.7L124.5 144.1L125.0 145.2L125.5 145.5L126.0 145.5L126.5 145.3L127.0 145.5L127.5 145.4L128.0 145.6L128.5 145.5L129.0 145.5L129.5 145.4L130.0 145.5L130.5 145.7L131.0 145.7L131.5 145.6L132.0 145.5L132.5 145.6L133.0 145.6L133.5 145.2L134.0 145.1L134.5 145.2L135.0 145.4L135.5 145.7L136.0 145.8L136.5 145.9L137.0 145.4L137.5 145.4L138.0 145.5L138.5 145.7L139.0 145.6L139.5 145.6L140.0 145.5L140.5 145.7L141.0 145.7L141.5 145.6L142.0 145.0L142.5 144.5L143.0 143.6L143.5 142.2L144.0 141.2L144.5 141.8L145.0 143.4L145.5 144.6L146.0 145.2L146.5 145.4L147.0 145.4L147.5 145.4L148.0 145.5L148.5 145.9L149.0 146.0L149.5 146.2L150.0 145.9L150.5 145.8L151.0 145.7L151.5 145.7L152.0 145.5L152.5 145.3L153.0 145.2L153.5 145.0L154.0 145.2L154.5 145.3L155.0 145.5L155.5 145.3L156.0 145.3L156.5 145.5L157.0 145.6L157.5 145.8L158.0 145.8L158.5 145.8L159.0 145.8L159.5 145.9L160.0 145.8L160.5 145.6L161.0 145.4L161.5 145.8L162.0 145.9L162.5 146.0L163.0 145.7L163.5 145.7L164.0 145.5L164.5 145.5L165.0 145.4L165.5 145.6L166.0 145.5L166.5 145.5L167.0 145.4L167.5 145.4L168.0 145.3L168.5 145.5L169.0 145.5L169.5 145.3L170.0 145.2L170.5 145.2L171.0 145.3L171.5 145.4L172.0 145.3L172.5 145.4L173.0 145.7L173.5 145.7L174.0 145.6L174.5 145.5L175.0 145.7L175.5 145.8L176.0 145.4L176.5 145.3L177.0 145.4L177.5 145.6L178.0 145.7L178.5 145.3L179.0 145.5L179.5 145.7L180.0 146.0L180.5 145.9L181.0 145.6L181.5 145.9L182.0 145.8L182.5 145.5L183.0 145.5L183.5 145.4L184.0 145.7L184.5 145.1L185.0 145.2L185.5 145.1L186.0 145.3L186.5 145.3L187.0 145.3L187.5 145.3L188.0 145.4L188.5 145.5L189.0 145.3L189.5 145.1L190.0 144.4L190.5 141.4L191.0 134.4L191.5 131.7L192.0 138.2L192.5 143.0L193.0 143.7L193.5 143.1L194.0 142.5L194.5 141.6L195.0 140.4L195.5 137.4L196.0 121.3L196.5 80.1L197.0 86.9L197.5 126.0L198.0 138.1L198.5 140.8L199.0 142.1L199.5 143.0L200.0 143.3L200.5 143.6L201.0 142.2L201.5 136.5L202.0 130.9L202.5 135.3L203.0 142.0L203.5 144.7L204.0 145.1L204.5 145.2L205.0 145.0L205.5 144.2L206.0 143.1L206.5 142.4L207.0 142.9L207.5 144.1L208.0 144.8L208.5 145.2L209.0 145.2L209.5 145.3L210.0 145.3L210.5 145.1L211.0 145.2L211.5 145.4L212.0 145.5L212.5 145.6L213.0 145.5L213.5 146.1L214.0 145.9L214.5 145.7L215.0 145.2L215.5 145.2L216.0 144.8L216.5 144.4L217.0 143.6L217.5 143.6L218.0 144.2L218.5 144.9L219.0 145.2L219.5 145.5L220.0 145.7L220.5 145.8L221.0 145.7L221.5 145.7L222.0 145.7L222.5 145.8L223.0 146.0L223.5 145.7L224.0 145.7L224.5 145.6L225.0 145.7L225.5 145.4L226.0 145.6L226.5 145.8L227.0 145.8L227.5 145.6L228.0 145.6L228.5 145.8L229.0 145.7L229.5 145.5L230.0 145.3L230.5 145.5L231.0 145.6L231.5 145.7L232.0 145.5L232.5 145.7L233.0 145.7L233.5 145.8L234.0 145.8L234.5 145.8L235.0 145.7L235.5 145.4L236.0 144.9L236.5 144.4L237.0 143.8L237.5 144.1L238.0 144.7L238.5 145.1L239.0 145.5L239.5 145.8L240.0 145.9L240.5 145.7L241.0 145.2L241.5 145.0L242.0 144.7L242.5 143.8L243.0 142.4L243.5 141.9L244.0 142.7L244.5 144.1L245.0 144.7L245.5 145.3L246.0 145.2L246.5 145.3L247.0 145.2L247.5 145.6L248.0 145.8L248.5 145.8L249.0 145.5L249.5 145.2L250.0 145.4L250.5 145.6L251.0 145.7L251.5 145.5L252.0 145.5L252.5 145.3L253.0 145.5L253.5 145.4L254.0 145.4L254.5 145.4L255.0 145.7L255.5 145.7L256.0 145.5L256.5 145.4L257.0 145.5L257.5 145.7L258.0 145.5L258.5 145.4L259.0 145.7L259.5 145.8L260.0 146.0L260.5 145.9L261.0 145.9L261.5 145.8L262.0 145.5L262.5 145.2L263.0 145.1L263.5 145.1L264.0 145.6L264.5 145.7L265.0 145.6L265.5 144.8L266.0 143.7L266.5 143.0L267.0 143.6L267.5 144.8L268.0 145.6L268.5 146.1L269.0 146.0L269.5 145.8L270.0 145.5L270.5 145.4L271.0 145.5L271.5 145.5L272.0 145.9L272.5 145.5L273.0 145.4L273.5 145.3L274.0 145.7L274.5 145.8L275.0 146.0L275.5 145.8L276.0 145.3L276.5 144.3L277.0 143.7L277.5 143.9L278.0 144.9L278.5 145.3L279.0 145.8L279.5 145.8L280.0 145.8L280.5 145.9L281.0 145.5L281.5 145.7L282.0 145.3L282.5 145.7L283.0 145.5L283.5 146.0L284.0 146.0L284.5 146.1L285.0 145.8L285.5 145.8L286.0 145.7L286.5 145.9L287.0 145.7L287.5 145.8L288.0 145.6L288.5 145.9L289.0 145.7L289.5 145.7L290.0 145.5L290.5 145.9L291.0 146.2L291.5 146.3L292.0 146.1L292.5 145.9L293.0 145.9L293.5 146.0L294.0 145.7L294.5 145.6L295.0 145.6L295.5 145.7L296.0 145.6L296.5 145.5L297.0 145.7L297.5 146.0L298.0 146.1L298.5 146.1L299.0 145.9L299.5 145.6L300.0 145.4L300.5 145.2L301.0 145.0L301.5 144.4L302.0 139.8L302.5 127.2L303.0 129.6L303.5 141.3L304.0 144.9L304.5 145.5L305.0 145.8L305.5 145.9L306.0 145.7L306.5 145.7L307.0 145.7L307.5 145.7L308.0 145.8L308.5 145.9L309.0 145.6L309.5 145.6L310.0 145.4L310.5 145.5L311.0 145.2L311.5 145.3L312.0 144.9L312.5 144.4L313.0 143.6L313.5 144.0L314.0 144.6L314.5 145.3L315.0 145.6L315.5 145.6L316.0 145.7L316.5 145.8L317.0 145.9L317.5 145.7L318.0 145.4L318.5 145.7L319.0 145.6L319.5 145.7L320.0 145.3L320.5 145.7L321.0 145.7L321.5 146.0L322.0 146.0L322.5 146.1L323.0 146.0L323.5 145.8L324.0 145.8L324.5 145.8L325.0 145.7L325.5 145.4L326.0 145.6L326.5 145.8L327.0 145.8L327.5 145.8L328.0 145.9L328.5 145.9L329.0 145.6L329.5 145.6L330.0 146.1L330.5 146.5L331.0 146.5L331.5 146.2L332.0 145.9L332.5 145.8L333.0 145.8L333.5 145.9L334.0 146.0L334.5 145.9L335.0 146.0L335.5 145.6L336.0 145.4L336.5 145.5L337.0 145.9L337.5 146.1L338.0 146.2L338.5 146.2L339.0 146.2L339.5 145.7L340.0 145.2L340.5 144.4L341.0 144.2L341.5 144.6L342.0 145.2L342.5 145.7L343.0 145.6L343.5 145.7L344.0 145.6L344.5 145.7L345.0 145.6L345.5 146.0L346.0 146.3L346.5 146.1L347.0 145.7L347.5 145.5L348.0 145.5L348.5 145.6L349.0 145.3L349.5 144.5L350.0 142.8L350.5 141.8L351.0 142.5L351.5 144.2L352.0 145.3L352.5 145.6L353.0 145.8L353.5 145.6L354.0 145.7L354.5 145.6L355.0 145.6L355.5 145.5L356.0 145.5L356.5 145.6L357.0 145.9L357.5 146.0L358.0 146.4L358.5 146.1L359.0 146.2L359.5 145.9L360.0 146.1L360.5 146.0L361.0 146.1L361.5 146.0L362.0 145.8L362.5 145.5L363.0 145.5L363.5 145.5L364.0 145.8L364.5 145.7L365.0 145.8L365.5 145.8L366.0 145.9L366.5 145.9L367.0 145.9L367.5 145.8L368.0 145.9L368.5 146.0L369.0 145.9L369.5 146.1L370.0 146.1L370.5 146.0L371.0 146.1L371.5 146.1L372.0 146.2L372.5 146.1L373.0 145.6L373.5 146.1L374.0 145.7L374.5 145.8L375.0 145.3L375.5 145.5L376.0 145.7L376.5 145.9L377.0 145.8L377.5 145.9L378.0 145.8L378.5 145.4L379.0 144.4L379.5 142.0L380.0 139.3L380.5 138.6L381.0 140.7L381.5 143.5L382.0 145.0L382.5 145.5L383.0 145.1L383.5 143.3L384.0 141.0L384.5 140.0L385.0 141.4L385.5 143.8L386.0 144.9L386.5 145.6L387.0 145.5L387.5 145.7L388.0 145.8L388.5 146.0L389.0 145.7L389.5 145.3L390.0 144.4L390.5 143.5L391.0 142.5L391.5 141.6L392.0 140.7L392.5 140.3L393.0 140.4L393.5 141.2L394.0 142.1L394.5 141.0L395.0 136.3L395.5 135.0L396.0 140.3L396.5 144.3L397.0 145.5L397.5 145.6L398.0 145.9L398.5 146.2L399.0 146.0L399.5 146.2L400.0 146.0L400.5 146.2L401.0 146.0L401.5 145.9L402.0 145.8L402.5 146.1L403.0 146.1L403.5 146.3L404.0 146.1L404.5 146.0L405.0 145.8L405.5 145.6L406.0 145.6L406.5 145.5L407.0 145.8L407.5 145.9L408.0 145.8L408.5 145.7L409.0 145.8L409.5 145.8L410.0 145.9L410.5 145.6L411.0 145.7L411.5 145.9L412.0 146.2L412.5 146.0L413.0 145.8L413.5 145.9L414.0 146.1L414.5 146.1L415.0 146.2L415.5 146.5L416.0 146.7L416.5 146.4L417.0 146.1L417.5 146.0L418.0 146.0L418.5 145.9L419.0 146.1L419.5 146.2L420.0 146.4L420.5 146.3L421.0 146.3L421.5 146.2L422.0 146.1L422.5 146.2L423.0 146.2L423.5 145.9L424.0 145.9L424.5 146.0L425.0 146.3L425.5 146.0L426.0 145.7L426.5 145.9L427.0 145.6L427.5 145.1L428.0 144.4L428.5 144.3L429.0 144.8L429.5 145.3L430.0 145.6L430.5 145.7L431.0 145.7L431.5 145.8L432.0 145.7L432.5 146.0L433.0 146.2L433.5 146.3L434.0 146.3L434.5 146.1L435.0 146.2L435.5 146.1L436.0 146.1L436.5 145.9L437.0 146.2L437.5 146.0L438.0 145.9L438.5 145.6L439.0 145.7L439.5 145.9L440.0 145.6L440.5 145.8L441.0 145.9L441.5 146.2L442.0 145.9L442.5 145.9L443.0 145.8L443.5 145.9L444.0 146.0L444.5 146.1L445.0 146.2L445.5 146.2L446.0 146.1L446.5 146.2L447.0 146.0L447.5 146.0L448.0 146.0L448.5 146.1L449.0 146.1L449.5 145.9L450.0 146.0L450.5 145.9L451.0 145.9L451.5 146.0L452.0 146.1L452.5 145.8L453.0 146.0L453.5 146.0L454.0 146.2L454.5 146.1L455.0 146.3L455.5 146.0L456.0 145.9L456.5 145.5L457.0 145.7L457.5 145.6L458.0 145.8L458.5 145.8L459.0 145.6L459.5 145.6L460.0 145.4L460.5 145.1L461.0 144.1L461.5 142.9L462.0 142.1L462.5 142.2L463.0 143.1L463.5 144.2L464.0 145.1L464.5 145.8L465.0 146.1L465.5 146.0L466.0 145.8L466.5 145.8L467.0 145.6L467.5 145.7L468.0 145.3L468.5 145.5L469.0 145.4L469.5 145.9L470.0 146.4L470.5 146.5L471.0 146.4L471.5 145.8L472.0 145.9L472.5 145.7L473.0 146.0L473.5 145.7L474.0 146.3L474.5 146.2L475.0 146.1L475.5 145.2L476.0 144.5L476.5 144.1L477.0 144.4L477.5 145.1L478.0 145.4L478.5 145.6L479.0 145.6L479.5 145.7L480.0 146.1L480.5 146.4L481.0 146.2L481.5 146.0L482.0 145.8L482.5 146.0L483.0 146.1L483.5 146.1L484.0 146.1L484.5 146.2L485.0 145.9L485.5 145.8L486.0 145.8L486.5 146.3L487.0 146.4L487.5 146.2L488.0 146.0L488.5 145.9L489.0 146.0L489.5 146.1L490.0 146.2L490.5 146.0L491.0 145.7L491.5 144.9L492.0 144.8L492.5 144.9L493.0 145.5L493.5 145.8L494.0 146.1L494.5 146.4L495.0 146.4L495.5 146.1L496.0 146.0L496.5 145.9L497.0 145.8L497.5 145.8L498.0 145.9L498.5 146.1L499.0 146.0L499.5 145.9L500.0 145.9L500.5 145.9L501.0 146.1L501.5 146.3L502.0 146.5L502.5 146.3L503.0 146.1L503.5 145.7L504.0 145.8L504.5 145.8L505.0 145.8L505.5 145.7L506.0 145.9L506.5 146.1L507.0 146.2L507.5 146.2L508.0 146.1L508.5 146.0L509.0 146.0L509.5 145.8L510.0 145.9L510.5 145.9L511.0 146.2L511.5 146.3L512.0 146.2L512.5 146.1L513.0 145.8L513.5 145.8L514.0 145.7L514.5 146.0L515.0 146.3L515.5 146.3L516.0 146.4L516.5 146.1L517.0 146.1L517.5 145.8L518.0 145.8L518.5 145.7L519.0 145.9L519.5 145.9L520.0 146.0L520.5 145.9L521.0 146.0L521.5 146.0L522.0 145.8L522.5 145.7L523.0 145.8L523.5 146.2L524.0 146.4L524.5 146.2L525.0 146.1L525.5 145.9L526.0 145.8L526.5 145.5L527.0 145.6L527.5 145.7L528.0 146.0L528.5 145.8L529.0 145.9L529.5 145.9L530.0 145.6L530.5 145.3L531.0 144.6L531.5 143.5L532.0 142.1L532.5 140.9L533.0 141.1L533.5 142.1L534.0 143.5L534.5 144.7L535.0 145.7L535.5 146.1L536.0 146.3L536.5 146.2L537.0 146.2L537.5 146.3L538.0 146.3L538.5 146.3L539.0 146.0L539.5 146.1L540.0 145.9L540.5 145.6L541.0 145.0L541.5 144.6L542.0 144.6L542.5 145.1L543.0 145.4L543.5 145.7L544.0 146.1L544.5 146.3L545.0 146.5L545.5 146.4L546.0 146.5L546.5 146.4L547.0 146.3L547.5 146.1L548.0 146.0L548.5 146.2L549.0 146.4L549.5 146.6L550.0 146.3L550.5 146.0L551.0 145.9L551.5 145.9L552.0 146.1L552.5 145.8L553.0 145.9L553.5 146.0L554.0 146.1L554.5 146.2L555.0 146.3L555.5 146.6L556.0 146.5L556.5 146.3L557.0 146.2L557.5 146.2L558.0 146.0L558.5 146.1L559.0 146.1L559.5 146.2L560.0 145.9L560.5 145.8L561.0 146.2L561.5 146.4L562.0 146.4L562.5 146.2L563.0 145.9L563.5 146.2L564.0 146.1L564.5 146.4L565.0 146.0L565.5 146.1L566.0 145.9L566.5 146.1L567.0 146.3L567.5 146.6L568.0 146.6L568.5 146.6L569.0 146.3L569.5 146.0L570.0 145.8L570.5 146.1L571.0 146.3L571.5 146.4L572.0 146.1L572.5 146.1L573.0 145.9L573.5 146.1L574.0 146.5L574.5 146.6L575.0 146.7L575.5 146.4L576.0 146.3L576.5 146.3L577.0 146.4L577.5 146.2L578.0 146.2" fill="none" stroke="#2a0404" stroke-width="3.5" stroke-linejoin="round"/>
<path clip-path="url(#ca3)" d="M30.0 180.1L30.5 180.2L31.0 180.4L31.5 180.2L32.0 180.2L32.5 180.3L33.0 180.1L33.5 180.2L34.0 180.2L34.5 180.3L35.0 180.2L35.5 180.2L36.0 180.1L36.5 180.1L37.0 180.1L37.5 180.2L38.0 180.3L38.5 180.5L39.0 180.6L39.5 180.4L40.0 180.4L40.5 180.4L41.0 180.4L41.5 180.3L42.0 180.4L42.5 180.2L43.0 180.2L43.5 180.0L44.0 180.1L44.5 180.1L45.0 180.2L45.5 180.0L46.0 180.2L46.5 180.1L47.0 180.3L47.5 180.3L48.0 180.3L48.5 180.3L49.0 179.9L49.5 180.0L50.0 180.0L50.5 180.3L51.0 180.1L51.5 180.3L52.0 180.3L52.5 180.3L53.0 180.1L53.5 180.0L54.0 179.9L54.5 179.9L55.0 180.0L55.5 180.3L56.0 180.4L56.5 180.4L57.0 180.3L57.5 180.3L58.0 180.4L58.5 180.1L59.0 179.9L59.5 179.8L60.0 180.0L60.5 180.3L61.0 180.1L61.5 180.0L62.0 180.0L62.5 180.2L63.0 180.2L63.5 180.4L64.0 180.3L64.5 180.4L65.0 180.2L65.5 180.3L66.0 180.0L66.5 180.1L67.0 180.0L67.5 180.2L68.0 180.2L68.5 180.3L69.0 180.2L69.5 180.2L70.0 180.1L70.5 180.4L71.0 180.4L71.5 180.7L72.0 180.3L72.5 180.6L73.0 180.5L73.5 180.9L74.0 180.4L74.5 180.4L75.0 180.2L75.5 180.5L76.0 180.6L76.5 180.6L77.0 180.5L77.5 180.2L78.0 180.1L78.5 180.2L79.0 180.2L79.5 180.4L80.0 180.3L80.5 180.0L81.0 179.9L81.5 179.9L82.0 180.3L82.5 180.4L83.0 180.3L83.5 180.3L84.0 180.3L84.5 180.6L85.0 180.5L85.5 180.1L86.0 180.4L86.5 180.3L87.0 180.4L87.5 180.3L88.0 180.4L88.5 180.4L89.0 180.1L89.5 180.1L90.0 180.4L90.5 180.5L91.0 180.1L91.5 180.0L92.0 180.4L92.5 180.4L93.0 180.4L93.5 179.9L94.0 180.1L94.5 180.1L95.0 180.3L95.5 180.1L96.0 179.8L96.5 179.5L97.0 177.4L97.5 171.8L98.0 169.5L98.5 174.8L99.0 179.1L99.5 180.1L100.0 180.1L100.5 180.1L101.0 179.8L101.5 178.6L102.0 175.8L102.5 173.0L103.0 172.7L103.5 175.5L104.0 178.0L104.5 179.4L105.0 179.9L105.5 180.1L106.0 180.1L106.5 180.0L107.0 180.0L107.5 179.8L108.0 179.8L108.5 179.9L109.0 180.2L109.5 180.2L110.0 180.2L110.5 180.1L111.0 180.4L111.5 180.7L112.0 180.7L112.5 180.4L113.0 180.0L113.5 180.3L114.0 180.2L114.5 180.4L115.0 180.2L115.5 180.3L116.0 180.3L116.5 180.4L117.0 180.8L117.5 180.8L118.0 180.9L118.5 180.6L119.0 180.5L119.5 180.1L120.0 180.1L120.5 180.2L121.0 180.2L121.5 180.2L122.0 179.5L122.5 178.1L123.0 175.4L123.5 173.1L124.0 173.7L124.5 176.4L125.0 178.7L125.5 179.5L126.0 179.9L126.5 180.1L127.0 180.7L127.5 180.6L128.0 180.7L128.5 180.7L129.0 180.6L129.5 180.5L130.0 180.3L130.5 180.4L131.0 180.6L131.5 180.4L132.0 180.6L132.5 180.5L133.0 180.3L133.5 180.1L134.0 180.0L134.5 180.3L135.0 180.4L135.5 180.5L136.0 180.4L136.5 180.4L137.0 180.4L137.5 180.3L138.0 180.0L138.5 180.2L139.0 180.5L139.5 180.9L140.0 180.5L140.5 180.3L141.0 180.0L141.5 180.2L142.0 180.4L142.5 180.1L143.0 179.0L143.5 177.0L144.0 175.2L144.5 175.3L145.0 177.2L145.5 179.2L146.0 180.4L146.5 180.7L147.0 180.6L147.5 180.4L148.0 180.4L148.5 180.5L149.0 180.4L149.5 180.3L150.0 180.2L150.5 180.5L151.0 180.5L151.5 180.5L152.0 180.6L152.5 180.6L153.0 180.7L153.5 180.4L154.0 180.2L154.5 180.0L155.0 180.2L155.5 180.2L156.0 180.6L156.5 180.7L157.0 180.4L157.5 180.2L158.0 180.0L158.5 180.1L159.0 180.2L159.5 180.3L160.0 180.4L160.5 180.3L161.0 180.2L161.5 180.2L162.0 180.2L162.5 180.4L163.0 180.5L163.5 180.6L164.0 180.4L164.5 180.6L165.0 180.6L165.5 180.4L166.0 180.1L166.5 180.3L167.0 180.6L167.5 180.4L168.0 180.2L168.5 180.1L169.0 180.3L169.5 180.3L170.0 180.0L170.5 180.0L171.0 180.0L171.5 180.5L172.0 180.5L172.5 180.3L173.0 180.2L173.5 180.2L174.0 180.4L174.5 180.5L175.0 180.5L175.5 180.4L176.0 180.7L176.5 180.7L177.0 180.7L177.5 180.5L178.0 180.7L178.5 180.6L179.0 180.5L179.5 180.5L180.0 180.6L180.5 180.7L181.0 180.4L181.5 180.7L182.0 180.6L182.5 180.9L183.0 180.7L183.5 180.5L184.0 180.4L184.5 180.3L185.0 180.5L185.5 180.1L186.0 180.0L186.5 179.7L187.0 180.1L187.5 180.4L188.0 180.3L188.5 180.1L189.0 179.9L189.5 179.9L190.0 179.6L190.5 177.9L191.0 170.7L191.5 163.8L192.0 172.4L192.5 177.6L193.0 178.4L193.5 177.8L194.0 177.2L194.5 176.2L195.0 175.1L195.5 173.2L196.0 165.0L196.5 130.7L197.0 108.4L197.5 148.5L198.0 170.3L198.5 174.7L199.0 176.2L199.5 177.1L200.0 177.4L200.5 177.8L201.0 177.8L201.5 173.9L202.0 164.8L202.5 168.2L203.0 176.8L203.5 179.1L204.0 179.7L204.5 179.6L205.0 179.6L205.5 178.8L206.0 178.0L206.5 176.9L207.0 177.7L207.5 179.0L208.0 180.0L208.5 180.2L209.0 179.8L209.5 179.7L210.0 179.7L210.5 180.1L211.0 180.4L211.5 180.5L212.0 180.6L212.5 180.6L213.0 180.9L213.5 180.7L214.0 180.7L214.5 180.0L215.0 179.9L215.5 180.0L216.0 180.1L216.5 179.8L217.0 179.1L217.5 178.9L218.0 178.9L218.5 179.5L219.0 180.0L219.5 180.4L220.0 180.4L220.5 180.2L221.0 180.2L221.5 180.4L222.0 180.6L222.5 180.6L223.0 180.4L223.5 180.4L224.0 180.6L224.5 180.6L225.0 180.6L225.5 180.3L226.0 180.4L226.5 180.2L227.0 180.1L227.5 180.0L228.0 180.0L228.5 180.4L229.0 180.6L229.5 180.6L230.0 180.3L230.5 180.0L231.0 179.8L231.5 179.9L232.0 180.1L232.5 180.3L233.0 180.3L233.5 180.3L234.0 180.6L234.5 180.5L235.0 180.6L235.5 180.3L236.0 180.2L236.5 179.3L237.0 178.8L237.5 178.5L238.0 179.5L238.5 180.1L239.0 180.4L239.5 180.4L240.0 180.4L240.5 180.6L241.0 180.8L241.5 180.6L242.0 180.1L242.5 178.7L243.0 176.5L243.5 175.2L244.0 176.0L244.5 178.2L245.0 179.8L245.5 180.0L246.0 180.4L246.5 180.2L247.0 180.4L247.5 180.5L248.0 180.8L248.5 180.9L249.0 180.7L249.5 180.4L250.0 180.4L250.5 180.3L251.0 180.5L251.5 181.1L252.0 181.0L252.5 181.0L253.0 180.6L253.5 180.6L254.0 180.6L254.5 180.4L255.0 180.3L255.5 180.0L256.0 180.4L256.5 180.6L257.0 180.8L257.5 180.7L258.0 180.8L258.5 180.7L259.0 180.6L259.5 180.4L260.0 180.5L260.5 180.4L261.0 180.4L261.5 180.7L262.0 180.9L262.5 181.0L263.0 180.5L263.5 180.4L264.0 180.4L264.5 180.6L265.0 180.3L265.5 179.7L266.0 178.7L266.5 177.9L267.0 177.9L267.5 179.0L268.0 180.1L268.5 180.5L269.0 180.7L269.5 180.5L270.0 180.5L270.5 180.3L271.0 180.2L271.5 180.3L272.0 180.5L272.5 180.8L273.0 180.5L273.5 180.4L274.0 180.1L274.5 180.3L275.0 180.6L275.5 180.5L276.0 180.1L276.5 179.2L277.0 178.7L277.5 178.5L278.0 179.2L278.5 180.1L279.0 180.4L279.5 180.6L280.0 180.5L280.5 180.4L281.0 180.2L281.5 180.2L282.0 180.7L282.5 180.8L283.0 180.7L283.5 180.5L284.0 180.7L284.5 180.8L285.0 181.0L285.5 180.8L286.0 180.6L286.5 180.3L287.0 180.4L287.5 180.5L288.0 180.5L288.5 180.5L289.0 180.6L289.5 180.4L290.0 180.3L290.5 180.1L291.0 180.5L291.5 180.5L292.0 180.8L292.5 180.8L293.0 180.6L293.5 180.1L294.0 179.9L294.5 180.0L295.0 180.3L295.5 180.5L296.0 180.6L296.5 180.5L297.0 180.6L297.5 180.4L298.0 180.6L298.5 180.7L299.0 180.9L299.5 181.0L300.0 180.9L300.5 180.5L301.0 180.1L301.5 179.4L302.0 177.3L302.5 166.4L303.0 152.8L303.5 166.0L304.0 177.1L304.5 179.3L305.0 179.9L305.5 180.3L306.0 180.6L306.5 180.7L307.0 180.5L307.5 180.5L308.0 180.5L308.5 180.4L309.0 180.2L309.5 180.1L310.0 180.1L310.5 180.3L311.0 180.4L311.5 180.5L312.0 180.3L312.5 179.8L313.0 178.8L313.5 178.5L314.0 179.0L314.5 179.9L315.0 180.2L315.5 180.2L316.0 180.1L316.5 180.5L317.0 180.5L317.5 180.8L318.0 180.8L318.5 180.5L319.0 180.5L319.5 180.3L320.0 180.7L320.5 180.5L321.0 180.7L321.5 180.4L322.0 180.4L322.5 180.7L323.0 180.7L323.5 180.9L324.0 180.4L324.5 180.4L325.0 180.3L325.5 180.8L326.0 180.8L326.5 181.0L327.0 180.7L327.5 180.7L328.0 180.4L328.5 180.7L329.0 180.7L329.5 180.6L330.0 180.6L330.5 180.8L331.0 180.9L331.5 181.0L332.0 180.8L332.5 180.7L333.0 180.7L333.5 180.5L334.0 180.7L334.5 180.4L335.0 180.3L335.5 180.3L336.0 180.5L336.5 180.8L337.0 180.7L337.5 180.5L338.0 180.6L338.5 180.5L339.0 180.8L339.5 180.6L340.0 180.5L340.5 179.1L341.0 177.9L341.5 177.4L342.0 178.7L342.5 179.7L343.0 180.6L343.5 180.7L344.0 180.6L344.5 180.4L345.0 180.4L345.5 180.6L346.0 180.6L346.5 180.5L347.0 180.2L347.5 179.7L348.0 179.4L348.5 179.7L349.0 179.9L349.5 179.6L350.0 178.2L350.5 176.7L351.0 176.5L351.5 178.4L352.0 179.8L352.5 180.4L353.0 180.5L353.5 180.9L354.0 181.2L354.5 180.9L355.0 180.8L355.5 180.7L356.0 180.8L356.5 180.5L357.0 180.5L357.5 180.5L358.0 180.7L358.5 180.5L359.0 180.4L359.5 180.3L360.0 180.7L360.5 181.0L361.0 180.9L361.5 180.8L362.0 180.6L362.5 180.6L363.0 180.5L363.5 180.5L364.0 180.5L364.5 180.6L365.0 180.8L365.5 180.5L366.0 180.6L366.5 180.6L367.0 180.8L367.5 180.6L368.0 180.7L368.5 181.0L369.0 180.9L369.5 180.6L370.0 180.3L370.5 180.3L371.0 180.3L371.5 180.7L372.0 180.6L372.5 180.9L373.0 180.7L373.5 180.6L374.0 180.4L374.5 180.5L375.0 180.5L375.5 180.7L376.0 180.7L376.5 180.9L377.0 181.0L377.5 180.8L378.0 180.7L378.5 180.5L379.0 180.2L379.5 179.6L380.0 177.6L380.5 174.9L381.0 173.3L381.5 175.1L382.0 177.8L382.5 179.7L383.0 180.0L383.5 179.6L384.0 177.8L384.5 175.2L385.0 173.8L385.5 175.4L386.0 177.9L386.5 179.4L387.0 180.0L387.5 180.3L388.0 180.6L388.5 180.8L389.0 180.7L389.5 180.3L390.0 179.8L390.5 179.0L391.0 178.1L391.5 176.8L392.0 175.7L392.5 175.0L393.0 175.2L393.5 176.1L394.0 177.3L394.5 177.1L395.0 173.8L395.5 170.5L396.0 173.9L396.5 178.3L397.0 180.0L397.5 180.3L398.0 180.7L398.5 180.8L399.0 180.7L399.5 180.5L400.0 180.3L400.5 180.2L401.0 180.4L401.5 180.5L402.0 180.5L402.5 180.6L403.0 180.7L403.5 180.8L404.0 180.6L404.5 180.5L405.0 180.5L405.5 180.9L406.0 180.7L406.5 180.5L407.0 180.1L407.5 180.3L408.0 180.7L408.5 180.8L409.0 180.9L409.5 180.7L410.0 180.8L410.5 180.6L411.0 180.5L411.5 180.7L412.0 180.8L412.5 181.1L413.0 181.0L413.5 181.1L414.0 181.0L414.5 180.7L415.0 180.8L415.5 180.7L416.0 180.5L416.5 180.3L417.0 180.3L417.5 180.6L418.0 180.8L418.5 180.8L419.0 180.8L419.5 180.5L420.0 180.3L420.5 180.2L421.0 180.3L421.5 180.4L422.0 180.7L422.5 180.9L423.0 181.1L423.5 181.0L424.0 180.8L424.5 180.8L425.0 180.5L425.5 180.4L426.0 180.2L426.5 180.5L427.0 180.4L427.5 180.1L428.0 179.4L428.5 178.8L429.0 179.0L429.5 179.5L430.0 180.0L430.5 180.2L431.0 180.5L431.5 180.7L432.0 181.0L432.5 180.8L433.0 180.9L433.5 180.7L434.0 180.7L434.5 180.5L435.0 180.6L435.5 180.9L436.0 180.8L436.5 180.8L437.0 180.4L437.5 180.6L438.0 180.5L438.5 180.4L439.0 180.4L439.5 180.3L440.0 180.8L440.5 180.7L441.0 180.9L441.5 180.7L442.0 180.8L442.5 180.8L443.0 180.5L443.5 180.8L444.0 180.8L444.5 181.1L445.0 180.7L445.5 180.8L446.0 180.6L446.5 180.8L447.0 180.7L447.5 180.6L448.0 180.6L448.5 180.7L449.0 181.0L449.5 180.9L450.0 180.8L450.5 180.7L451.0 180.6L451.5 181.0L452.0 181.2L452.5 181.5L453.0 181.3L453.5 181.0L454.0 180.9L454.5 180.8L455.0 180.7L455.5 180.8L456.0 180.9L456.5 181.2L457.0 180.8L457.5 181.0L458.0 180.8L458.5 180.9L459.0 180.5L459.5 180.6L460.0 180.7L460.5 180.4L461.0 179.7L461.5 178.8L462.0 177.4L462.5 176.3L463.0 175.6L463.5 176.3L464.0 177.8L464.5 179.4L465.0 180.3L465.5 180.4L466.0 180.3L466.5 180.4L467.0 180.3L467.5 180.6L468.0 180.5L468.5 180.9L469.0 180.7L469.5 180.9L470.0 180.6L470.5 180.7L471.0 180.8L471.5 181.2L472.0 181.0L472.5 181.0L473.0 180.8L473.5 181.0L474.0 180.9L474.5 180.8L475.0 180.7L475.5 180.4L476.0 179.9L476.5 179.2L477.0 179.0L477.5 179.4L478.0 180.1L478.5 180.3L479.0 180.9L479.5 181.2L480.0 181.6L480.5 181.4L481.0 181.1L481.5 180.7L482.0 180.6L482.5 180.8L483.0 180.7L483.5 180.8L484.0 180.7L484.5 180.8L485.0 181.1L485.5 181.2L486.0 181.0L486.5 180.8L487.0 180.7L487.5 181.0L488.0 181.0L488.5 180.8L489.0 180.8L489.5 180.9L490.0 181.4L490.5 181.5L491.0 181.5L491.5 181.2L492.0 180.6L492.5 179.9L493.0 180.0L493.5 180.4L494.0 180.7L494.5 180.7L495.0 180.8L495.5 181.1L496.0 181.1L496.5 181.4L497.0 181.4L497.5 181.1L498.0 181.1L498.5 181.1L499.0 181.3L499.5 181.1L500.0 181.0L500.5 180.8L501.0 180.9L501.5 181.0L502.0 181.2L502.5 181.1L503.0 181.1L503.5 181.0L504.0 180.7L504.5 180.7L505.0 180.7L505.5 180.8L506.0 180.8L506.5 180.9L507.0 181.2L507.5 181.1L508.0 180.9L508.5 180.8L509.0 180.8L509.5 180.7L510.0 180.6L510.5 180.8L511.0 181.0L511.5 181.1L512.0 180.8L512.5 180.8L513.0 180.9L513.5 181.1L514.0 181.3L514.5 181.2L515.0 181.2L515.5 180.9L516.0 181.1L516.5 181.0L517.0 181.2L517.5 181.2L518.0 181.1L518.5 181.0L519.0 180.8L519.5 181.1L520.0 181.0L520.5 181.3L521.0 181.2L521.5 181.3L522.0 181.0L522.5 180.9L523.0 180.8L523.5 180.8L524.0 180.8L524.5 180.7L525.0 180.7L525.5 180.7L526.0 180.9L526.5 180.9L527.0 181.0L527.5 180.9L528.0 180.7L528.5 180.6L529.0 180.7L529.5 181.0L530.0 181.0L530.5 180.9L531.0 180.3L531.5 179.6L532.0 178.2L532.5 176.6L533.0 175.2L533.5 175.1L534.0 176.2L534.5 177.6L535.0 179.0L535.5 180.0L536.0 180.7L536.5 180.8L537.0 180.9L537.5 180.8L538.0 180.9L538.5 180.9L539.0 181.0L539.5 180.9L540.0 180.6L540.5 180.4L541.0 180.2L541.5 179.6L542.0 179.1L542.5 179.1L543.0 179.9L543.5 180.4L544.0 180.7L544.5 180.9L545.0 181.1L545.5 181.2L546.0 181.4L546.5 181.4L547.0 181.1L547.5 181.1L548.0 180.8L548.5 180.8L549.0 180.6L549.5 180.8L550.0 181.1L550.5 181.1L551.0 181.0L551.5 180.9L552.0 180.7L552.5 180.7L553.0 180.6L553.5 180.7L554.0 180.9L554.5 180.9L555.0 181.1L555.5 181.0L556.0 181.0L556.5 181.0L557.0 180.8L557.5 180.9L558.0 180.9L558.5 181.2L559.0 181.3L559.5 181.3L560.0 181.5L560.5 181.4L561.0 181.3L561.5 181.1L562.0 180.8L562.5 180.7L563.0 180.6L563.5 180.6L564.0 180.8L564.5 180.8L565.0 181.0L565.5 181.0L566.0 180.9L566.5 180.8L567.0 180.7L567.5 180.8L568.0 180.7L568.5 181.0L569.0 181.1L569.5 181.3L570.0 181.2L570.5 181.2L571.0 180.9L571.5 180.8L572.0 180.9L572.5 181.0L573.0 181.3L573.5 181.2L574.0 181.1L574.5 180.9L575.0 181.2L575.5 181.3L576.0 181.2L576.5 180.9L577.0 180.7L577.5 181.0L578.0 181.0" fill="none" stroke="#0a0a8c" stroke-width="3.5" stroke-linejoin="round"/>
<path clip-path="url(#ca4)" d="M30.0 214.9L30.5 215.0L31.0 215.0L31.5 214.8L32.0 214.9L32.5 215.1L33.0 215.1L33.5 214.6L34.0 214.4L34.5 214.3L35.0 214.7L35.5 214.9L36.0 214.9L36.5 214.6L37.0 214.6L37.5 214.7L38.0 214.5L38.5 214.3L39.0 214.3L39.5 214.7L40.0 214.6L40.5 214.7L41.0 214.4L41.5 214.4L42.0 214.5L42.5 214.6L43.0 214.9L43.5 214.7L44.0 214.7L44.5 214.4L45.0 214.4L45.5 214.4L46.0 214.5L46.5 214.6L47.0 214.7L47.5 214.5L48.0 214.6L48.5 214.6L49.0 214.9L49.5 214.9L50.0 215.2L50.5 215.0L51.0 215.0L51.5 214.8L52.0 215.0L52.5 215.0L53.0 215.1L53.5 215.0L54.0 214.6L54.5 214.3L55.0 214.2L55.5 214.8L56.0 214.9L56.5 215.1L57.0 214.8L57.5 214.8L58.0 214.7L58.5 214.8L59.0 214.8L59.5 215.1L60.0 215.0L60.5 215.1L61.0 215.0L61.5 215.1L62.0 215.1L62.5 214.9L63.0 214.7L63.5 214.6L64.0 214.6L64.5 214.7L65.0 214.6L65.5 214.9L66.0 214.9L66.5 215.1L67.0 215.0L67.5 215.1L68.0 215.0L68.5 214.7L69.0 214.6L69.5 214.9L70.0 214.9L70.5 214.8L71.0 214.4L71.5 214.2L72.0 214.5L72.5 214.8L73.0 215.1L73.5 215.0L74.0 214.7L74.5 214.7L75.0 214.8L75.5 214.9L76.0 215.0L76.5 215.0L77.0 214.8L77.5 214.3L78.0 214.3L78.5 214.3L79.0 214.6L79.5 214.7L80.0 215.3L80.5 215.1L81.0 215.0L81.5 214.4L82.0 214.5L82.5 214.4L83.0 215.0L83.5 214.8L84.0 214.9L84.5 214.7L85.0 215.2L85.5 215.0L86.0 214.8L86.5 214.6L87.0 214.7L87.5 214.8L88.0 214.6L88.5 214.6L89.0 214.4L89.5 214.6L90.0 214.7L90.5 215.0L91.0 215.3L91.5 215.3L92.0 215.1L92.5 214.7L93.0 214.7L93.5 214.8L94.0 215.1L94.5 215.0L95.0 215.0L95.5 214.6L96.0 214.6L96.5 214.3L97.0 212.4L97.5 207.9L98.0 205.0L98.5 209.4L99.0 213.6L99.5 214.8L100.0 214.8L100.5 214.5L101.0 214.6L101.5 214.2L102.0 211.9L102.5 207.1L103.0 206.4L103.5 211.1L104.0 214.0L104.5 214.6L105.0 214.4L105.5 214.5L106.0 214.3L106.5 214.4L107.0 214.4L107.5 215.0L108.0 215.1L108.5 215.2L109.0 215.0L109.5 214.9L110.0 214.9L110.5 214.6L111.0 214.8L111.5 214.8L112.0 215.0L112.5 215.0L113.0 214.9L113.5 214.8L114.0 214.7L114.5 214.5L115.0 214.6L115.5 214.5L116.0 214.9L116.5 215.1L117.0 215.3L117.5 215.2L118.0 215.0L118.5 214.8L119.0 215.1L119.5 215.2L120.0 215.5L120.5 215.0L121.0 214.9L121.5 214.7L122.0 214.9L122.5 214.0L123.0 210.8L123.5 205.6L124.0 206.5L124.5 211.4L125.0 214.1L125.5 214.4L126.0 214.4L126.5 214.6L127.0 214.7L127.5 214.8L128.0 214.7L128.5 214.7L129.0 214.8L129.5 214.9L130.0 214.8L130.5 214.7L131.0 214.6L131.5 214.5L132.0 214.8L132.5 214.8L133.0 214.8L133.5 214.7L134.0 214.9L134.5 214.9L135.0 214.8L135.5 214.7L136.0 214.8L136.5 215.0L137.0 215.1L137.5 215.2L138.0 215.1L138.5 215.1L139.0 215.1L139.5 215.2L140.0 215.0L140.5 215.0L141.0 214.7L141.5 214.8L142.0 214.9L142.5 214.9L143.0 214.2L143.5 212.2L144.0 210.4L144.5 210.4L145.0 212.0L145.5 213.8L146.0 214.4L146.5 214.8L147.0 214.6L147.5 214.7L148.0 214.7L148.5 214.8L149.0 215.0L149.5 215.0L150.0 214.9L150.5 214.2L151.0 214.1L151.5 214.2L152.0 214.9L152.5 214.8L153.0 215.1L153.5 215.1L154.0 215.1L154.5 215.1L155.0 214.8L155.5 214.7L156.0 214.6L156.5 214.9L157.0 215.2L157.5 215.3L158.0 215.2L158.5 214.9L159.0 214.7L159.5 214.7L160.0 214.9L160.5 214.9L161.0 215.1L161.5 215.0L162.0 214.9L162.5 214.5L163.0 214.6L163.5 214.8L164.0 214.8L164.5 214.5L165.0 214.7L165.5 214.9L166.0 215.1L166.5 214.7L167.0 214.8L167.5 214.7L168.0 214.9L168.5 214.5L169.0 214.5L169.5 214.5L170.0 214.9L170.5 214.8L171.0 214.7L171.5 214.8L172.0 214.9L172.5 215.2L173.0 215.1L173.5 215.3L174.0 215.3L174.5 215.3L175.0 215.3L175.5 215.0L176.0 214.8L176.5 214.7L177.0 214.9L177.5 214.9L178.0 215.2L178.5 215.3L179.0 215.3L179.5 214.9L180.0 214.5L180.5 214.7L181.0 214.9L181.5 215.1L182.0 215.0L182.5 214.9L183.0 215.0L183.5 215.2L184.0 215.3L184.5 215.0L185.0 214.8L185.5 214.8L186.0 215.0L186.5 215.1L187.0 214.9L187.5 214.9L188.0 214.8L188.5 215.1L189.0 215.0L189.5 214.8L190.0 214.2L190.5 213.7L191.0 211.3L191.5 202.2L192.0 198.4L192.5 208.1L193.0 212.2L193.5 212.3L194.0 211.6L194.5 210.8L195.0 209.9L195.5 208.3L196.0 201.4L196.5 171.0L197.0 141.0L197.5 178.3L198.0 203.7L198.5 208.6L199.0 210.3L199.5 211.1L200.0 211.9L200.5 212.3L201.0 212.0L201.5 208.4L202.0 198.7L202.5 201.6L203.0 210.7L203.5 213.3L204.0 213.9L204.5 214.4L205.0 214.5L205.5 213.8L206.0 212.6L206.5 211.4L207.0 212.1L207.5 213.2L208.0 214.3L208.5 214.6L209.0 214.8L209.5 215.0L210.0 214.9L210.5 214.8L211.0 214.9L211.5 214.8L212.0 214.9L212.5 214.5L213.0 214.7L213.5 214.5L214.0 214.6L214.5 214.5L215.0 214.6L215.5 214.8L216.0 214.7L216.5 214.2L217.0 213.0L217.5 212.8L218.0 213.2L218.5 214.1L219.0 214.6L219.5 214.9L220.0 214.8L220.5 214.5L221.0 214.6L221.5 214.7L222.0 214.7L222.5 214.5L223.0 214.6L223.5 214.7L224.0 215.0L224.5 215.1L225.0 215.0L225.5 214.9L226.0 214.6L226.5 214.7L227.0 215.1L227.5 215.4L228.0 215.3L228.5 214.9L229.0 214.9L229.5 215.0L230.0 214.9L230.5 215.0L231.0 214.7L231.5 215.0L232.0 215.1L232.5 215.0L233.0 215.3L233.5 215.2L234.0 215.3L234.5 215.0L235.0 214.8L235.5 214.8L236.0 214.5L236.5 213.6L237.0 212.9L237.5 212.8L238.0 213.9L238.5 214.7L239.0 214.9L239.5 214.8L240.0 214.7L240.5 214.9L241.0 214.9L241.5 215.0L242.0 214.6L242.5 213.7L243.0 211.8L243.5 210.2L244.0 210.7L244.5 212.6L245.0 214.0L245.5 214.4L246.0 214.4L246.5 214.6L247.0 214.6L247.5 214.7L248.0 214.6L248.5 214.4L249.0 214.5L249.5 214.6L250.0 215.0L250.5 215.4L251.0 215.6L251.5 215.6L252.0 215.1L252.5 215.0L253.0 214.8L253.5 214.7L254.0 214.7L254.5 214.7L255.0 214.6L255.5 214.5L256.0 214.8L256.5 214.9L257.0 214.9L257.5 214.9L258.0 215.0L258.5 215.1L259.0 214.9L259.5 214.8L260.0 214.6L260.5 214.6L261.0 214.9L261.5 215.0L262.0 215.0L262.5 214.9L263.0 214.5L263.5 214.7L264.0 214.7L264.5 214.9L265.0 214.6L265.5 214.0L266.0 213.1L266.5 212.1L267.0 212.1L267.5 213.0L268.0 214.1L268.5 214.7L269.0 214.8L269.5 214.7L270.0 215.2L270.5 215.4L271.0 215.6L271.5 215.2L272.0 215.1L272.5 214.9L273.0 214.8L273.5 214.8L274.0 214.9L274.5 214.8L275.0 214.8L275.5 214.7L276.0 214.4L276.5 213.7L277.0 213.2L277.5 213.2L278.0 214.0L278.5 214.4L279.0 214.7L279.5 214.8L280.0 214.8L280.5 214.9L281.0 214.9L281.5 214.8L282.0 214.9L282.5 214.9L283.0 215.0L283.5 215.1L284.0 215.1L284.5 215.2L285.0 215.3L285.5 215.1L286.0 215.0L286.5 214.9L287.0 215.1L287.5 215.0L288.0 215.0L288.5 215.0L289.0 215.1L289.5 215.0L290.0 215.1L290.5 214.9L291.0 215.2L291.5 215.3L292.0 215.3L292.5 215.0L293.0 215.0L293.5 215.1L294.0 215.2L294.5 215.1L295.0 215.4L295.5 215.3L296.0 215.4L296.5 215.1L297.0 214.9L297.5 214.9L298.0 214.7L298.5 214.9L299.0 215.0L299.5 215.5L300.0 215.2L300.5 214.8L301.0 214.4L301.5 214.3L302.0 213.0L302.5 204.3L303.0 188.0L303.5 196.4L304.0 210.2L304.5 213.9L305.0 214.6L305.5 214.9L306.0 214.7L306.5 214.7L307.0 214.7L307.5 214.6L308.0 214.8L308.5 214.9L309.0 215.0L309.5 215.1L310.0 214.8L310.5 214.8L311.0 214.7L311.5 214.7L312.0 214.6L312.5 214.2L313.0 213.4L313.5 213.0L314.0 213.3L314.5 214.3L315.0 214.8L315.5 215.0L316.0 215.1L316.5 215.1L317.0 215.3L317.5 215.1L318.0 215.1L318.5 215.0L319.0 214.9L319.5 214.8L320.0 215.0L320.5 215.2L321.0 215.1L321.5 214.9L322.0 214.8L322.5 214.9L323.0 214.8L323.5 215.0L324.0 215.1L324.5 215.2L325.0 215.2L325.5 215.0L326.0 214.9L326.5 215.0L327.0 215.1L327.5 215.1L328.0 215.2L328.5 215.3L329.0 215.5L329.5 215.3L330.0 215.2L330.5 215.2L331.0 215.3L331.5 215.1L332.0 215.1L332.5 215.2L333.0 215.3L333.5 215.4L334.0 215.0L334.5 215.1L335.0 215.0L335.5 215.2L336.0 215.1L336.5 215.1L337.0 214.9L337.5 214.8L338.0 214.7L338.5 214.8L339.0 214.9L339.5 214.7L340.0 214.4L340.5 213.2L341.0 212.4L341.5 212.0L342.0 212.9L342.5 214.0L343.0 214.5L343.5 214.7L344.0 214.7L344.5 215.0L345.0 214.9L345.5 214.7L346.0 214.7L346.5 214.5L347.0 214.0L347.5 213.5L348.0 213.1L348.5 213.6L349.0 214.1L349.5 214.0L350.0 213.1L350.5 211.9L351.0 211.7L351.5 212.6L352.0 213.9L352.5 214.6L353.0 215.0L353.5 215.3L354.0 215.2L354.5 215.2L355.0 214.9L355.5 215.1L356.0 215.3L356.5 215.4L357.0 215.2L357.5 215.1L358.0 215.0L358.5 214.8L359.0 214.7L359.5 214.8L360.0 215.1L360.5 215.1L361.0 215.0L361.5 214.7L362.0 214.8L362.5 214.8L363.0 215.0L363.5 215.2L364.0 215.3L364.5 215.4L365.0 215.4L365.5 215.2L366.0 215.1L366.5 215.1L367.0 215.3L367.5 215.4L368.0 215.2L368.5 215.4L369.0 215.3L369.5 215.4L370.0 215.3L370.5 215.2L371.0 215.1L371.5 215.0L372.0 215.0L372.5 215.4L373.0 215.2L373.5 215.2L374.0 215.0L374.5 214.9L375.0 214.8L375.5 214.7L376.0 214.8L376.5 215.0L377.0 215.1L377.5 215.1L378.0 215.2L378.5 215.0L379.0 215.0L379.5 214.6L380.0 214.2L380.5 211.1L381.0 206.3L381.5 207.0L382.0 211.9L382.5 214.6L383.0 214.7L383.5 214.4L384.0 212.6L384.5 209.9L385.0 207.7L385.5 208.4L386.0 211.5L386.5 213.7L387.0 214.8L387.5 214.7L388.0 214.7L388.5 214.3L389.0 214.6L389.5 214.4L390.0 214.3L390.5 213.3L391.0 212.1L391.5 210.8L392.0 209.7L392.5 209.2L393.0 209.3L393.5 210.1L394.0 211.3L394.5 211.3L395.0 207.6L395.5 202.7L396.0 205.9L396.5 212.1L397.0 214.6L397.5 215.0L398.0 215.1L398.5 215.0L399.0 214.9L399.5 214.8L400.0 214.9L400.5 214.8L401.0 214.6L401.5 214.7L402.0 215.0L402.5 215.1L403.0 215.1L403.5 215.0L404.0 215.2L404.5 215.2L405.0 215.3L405.5 215.5L406.0 215.5L406.5 215.7L407.0 215.2L407.5 214.9L408.0 214.5L408.5 214.8L409.0 214.8L409.5 214.8L410.0 214.7L410.5 214.8L411.0 215.0L411.5 215.1L412.0 215.3L412.5 215.4L413.0 215.6L413.5 215.4L414.0 215.1L414.5 215.2L415.0 215.0L415.5 214.9L416.0 214.8L416.5 215.1L417.0 215.3L417.5 215.1L418.0 215.1L418.5 215.3L419.0 215.4L419.5 215.6L420.0 215.4L420.5 215.3L421.0 215.0L421.5 214.9L422.0 215.0L422.5 214.9L423.0 215.0L423.5 215.2L424.0 215.3L424.5 215.4L425.0 215.1L425.5 214.8L426.0 214.7L426.5 215.0L427.0 215.2L427.5 215.0L428.0 214.0L428.5 213.1L429.0 213.1L429.5 214.1L430.0 214.7L430.5 215.0L431.0 215.0L431.5 215.1L432.0 215.0L432.5 215.0L433.0 214.8L433.5 214.8L434.0 214.8L434.5 214.9L435.0 215.1L435.5 215.2L436.0 215.4L436.5 215.5L437.0 215.3L437.5 215.3L438.0 215.1L438.5 215.0L439.0 215.5L439.5 215.5L440.0 215.8L440.5 215.4L441.0 215.6L441.5 215.3L442.0 215.2L442.5 215.3L443.0 215.3L443.5 215.4L444.0 215.5L444.5 215.4L445.0 215.4L445.5 215.2L446.0 215.4L446.5 215.0L447.0 215.0L447.5 215.1L448.0 215.7L448.5 215.7L449.0 215.5L449.5 215.4L450.0 215.4L450.5 215.3L451.0 215.4L451.5 215.4L452.0 215.6L452.5 215.6L453.0 215.3L453.5 215.1L454.0 215.1L454.5 215.2L455.0 215.3L455.5 214.9L456.0 215.0L456.5 215.0L457.0 215.2L457.5 215.2L458.0 215.2L458.5 215.3L459.0 215.2L459.5 215.1L460.0 215.0L460.5 214.6L461.0 214.4L461.5 213.7L462.0 212.3L462.5 211.0L463.0 210.1L463.5 210.6L464.0 211.7L464.5 213.1L465.0 214.2L465.5 214.7L466.0 214.8L466.5 214.9L467.0 215.0L467.5 215.2L468.0 215.3L468.5 215.3L469.0 215.4L469.5 215.3L470.0 215.1L470.5 214.7L471.0 214.6L471.5 215.0L472.0 215.0L472.5 215.3L473.0 215.2L473.5 215.1L474.0 215.2L474.5 215.0L475.0 215.2L475.5 215.0L476.0 214.8L476.5 214.0L477.0 213.5L477.5 213.4L478.0 214.0L478.5 214.8L479.0 215.2L479.5 215.5L480.0 215.5L480.5 215.6L481.0 215.6L481.5 215.4L482.0 215.5L482.5 215.6L483.0 215.5L483.5 215.4L484.0 215.5L484.5 215.4L485.0 215.0L485.5 215.1L486.0 215.5L486.5 215.6L487.0 215.6L487.5 215.4L488.0 215.5L488.5 215.3L489.0 215.6L489.5 215.8L490.0 216.1L490.5 215.6L491.0 215.3L491.5 215.1L492.0 214.7L492.5 214.1L493.0 213.7L493.5 214.3L494.0 214.9L494.5 215.0L495.0 215.0L495.5 215.0L496.0 215.2L496.5 215.3L497.0 215.5L497.5 215.4L498.0 215.4L498.5 215.3L499.0 215.3L499.5 215.2L500.0 215.0L500.5 215.3L501.0 215.3L501.5 215.5L502.0 215.4L502.5 215.6L503.0 215.4L503.5 215.2L504.0 215.1L504.5 215.5L505.0 215.6L505.5 215.5L506.0 215.2L506.5 215.4L507.0 215.5L507.5 215.8L508.0 215.6L508.5 215.3L509.0 215.2L509.5 214.9L510.0 215.0L510.5 215.2L511.0 215.7L511.5 215.6L512.0 215.4L512.5 215.2L513.0 215.1L513.5 215.2L514.0 215.0L514.5 215.1L515.0 215.2L515.5 215.5L516.0 215.8L516.5 215.9L517.0 215.7L517.5 215.4L518.0 214.9L518.5 215.0L519.0 215.1L519.5 215.5L520.0 215.4L520.5 215.3L521.0 215.2L521.5 215.3L522.0 215.2L522.5 215.4L523.0 215.4L523.5 215.5L524.0 215.3L524.5 215.4L525.0 215.2L525.5 214.9L526.0 214.6L526.5 215.0L527.0 215.3L527.5 215.4L528.0 215.4L528.5 215.4L529.0 215.8L529.5 215.4L530.0 215.1L530.5 214.7L531.0 214.7L531.5 214.3L532.0 213.4L532.5 211.7L533.0 210.1L533.5 209.2L534.0 210.2L534.5 211.9L535.0 213.4L535.5 214.4L536.0 214.8L536.5 215.2L537.0 215.5L537.5 215.6L538.0 215.7L538.5 215.3L539.0 215.5L539.5 215.6L540.0 215.7L540.5 215.3L541.0 214.7L541.5 214.1L542.0 213.1L542.5 213.2L543.0 213.9L543.5 215.0L544.0 215.3L544.5 215.3L545.0 215.3L545.5 215.2L546.0 215.3L546.5 215.4L547.0 215.6L547.5 215.8L548.0 215.7L548.5 215.5L549.0 215.7L549.5 215.5L550.0 215.4L550.5 215.2L551.0 215.5L551.5 215.6L552.0 215.6L552.5 215.4L553.0 215.4L553.5 215.2L554.0 215.4L554.5 215.2L555.0 215.6L555.5 215.6L556.0 215.8L556.5 215.7L557.0 215.4L557.5 215.7L558.0 215.4L558.5 215.7L559.0 215.6L559.5 215.5L560.0 215.4L560.5 215.4L561.0 215.2L561.5 215.2L562.0 215.2L562.5 215.4L563.0 215.3L563.5 215.0L564.0 214.9L564.5 215.1L565.0 215.1L565.5 215.2L566.0 215.1L566.5 215.2L567.0 215.8L567.5 215.8L568.0 215.6L568.5 215.5L569.0 215.5L569.5 215.7L570.0 215.4L570.5 215.1L571.0 215.3L571.5 215.4L572.0 215.5L572.5 215.5L573.0 215.5L573.5 215.3L574.0 215.0L574.5 214.9L575.0 215.5L575.5 215.7L576.0 215.7L576.5 215.4L577.0 215.4L577.5 215.1L578.0 215.0" fill="none" stroke="#1f4b08" stroke-width="3.5" stroke-linejoin="round"/>
<path clip-path="url(#ca5)" d="M30.0 249.1L30.5 249.3L31.0 249.4L31.5 249.4L32.0 249.3L32.5 249.1L33.0 249.1L33.5 249.1L34.0 249.2L34.5 249.1L35.0 248.7L35.5 248.8L36.0 248.9L36.5 249.2L37.0 249.4L37.5 249.5L38.0 249.3L38.5 249.1L39.0 249.2L39.5 249.2L40.0 249.3L40.5 249.2L41.0 249.2L41.5 249.1L42.0 249.1L42.5 249.4L43.0 249.5L43.5 249.4L44.0 248.9L44.5 248.8L45.0 249.0L45.5 249.4L46.0 249.4L46.5 249.3L47.0 249.3L47.5 249.3L48.0 249.3L48.5 249.1L49.0 249.3L49.5 249.3L50.0 249.6L50.5 249.2L51.0 249.3L51.5 249.2L52.0 249.2L52.5 249.1L53.0 249.0L53.5 248.9L54.0 249.2L54.5 249.1L55.0 249.2L55.5 249.4L56.0 249.3L56.5 249.5L57.0 249.2L57.5 249.4L58.0 249.4L58.5 249.5L59.0 249.5L59.5 249.6L60.0 249.6L60.5 249.3L61.0 249.4L61.5 249.4L62.0 249.6L62.5 249.4L63.0 249.2L63.5 249.1L64.0 249.1L64.5 249.3L65.0 249.4L65.5 249.2L66.0 249.1L66.5 249.2L67.0 249.5L67.5 249.4L68.0 249.2L68.5 248.8L69.0 249.1L69.5 249.3L70.0 249.5L70.5 249.5L71.0 249.5L71.5 249.5L72.0 249.6L72.5 249.6L73.0 249.5L73.5 249.3L74.0 249.3L74.5 249.6L75.0 249.6L75.5 249.6L76.0 249.5L76.5 249.7L77.0 249.6L77.5 249.6L78.0 249.3L78.5 249.4L79.0 249.2L79.5 249.3L80.0 249.5L80.5 249.6L81.0 249.6L81.5 249.3L82.0 249.3L82.5 249.3L83.0 249.3L83.5 249.1L84.0 248.9L84.5 248.9L85.0 249.0L85.5 249.0L86.0 249.0L86.5 249.0L87.0 249.1L87.5 249.2L88.0 249.0L88.5 249.0L89.0 249.0L89.5 249.4L90.0 249.4L90.5 249.3L91.0 249.4L91.5 249.7L92.0 249.7L92.5 249.7L93.0 249.4L93.5 249.4L94.0 249.1L94.5 248.9L95.0 248.8L95.5 249.0L96.0 249.4L96.5 249.4L97.0 248.2L97.5 244.5L98.0 239.8L98.5 241.9L99.0 246.5L99.5 248.7L100.0 249.0L100.5 249.2L101.0 249.0L101.5 248.3L102.0 246.0L102.5 243.1L103.0 242.2L103.5 244.4L104.0 247.3L104.5 248.5L105.0 249.1L105.5 249.0L106.0 249.2L106.5 249.3L107.0 249.3L107.5 249.3L108.0 249.1L108.5 249.2L109.0 249.2L109.5 249.3L110.0 249.3L110.5 249.4L111.0 249.3L111.5 249.5L112.0 249.6L112.5 249.7L113.0 249.7L113.5 249.5L114.0 249.2L114.5 249.4L115.0 249.4L115.5 249.8L116.0 249.7L116.5 249.8L117.0 249.8L117.5 249.9L118.0 249.9L118.5 249.5L119.0 249.3L119.5 249.4L120.0 249.1L120.5 249.1L121.0 249.1L121.5 249.1L122.0 248.9L122.5 248.2L123.0 244.8L123.5 238.0L124.0 236.4L124.5 243.3L125.0 248.0L125.5 249.0L126.0 249.2L126.5 249.2L127.0 249.5L127.5 249.4L128.0 249.3L128.5 249.2L129.0 249.3L129.5 249.2L130.0 249.4L130.5 249.4L131.0 249.3L131.5 249.0L132.0 248.9L132.5 249.0L133.0 249.0L133.5 249.0L134.0 249.1L134.5 249.0L135.0 248.9L135.5 248.8L136.0 248.8L136.5 248.9L137.0 249.1L137.5 249.2L138.0 249.3L138.5 249.1L139.0 249.2L139.5 249.1L140.0 249.1L140.5 249.2L141.0 249.3L141.5 249.2L142.0 249.2L142.5 249.1L143.0 248.6L143.5 247.1L144.0 245.1L144.5 244.4L145.0 245.5L145.5 247.2L146.0 248.3L146.5 248.8L147.0 248.8L147.5 249.0L148.0 249.1L148.5 249.3L149.0 249.2L149.5 249.4L150.0 249.5L150.5 249.5L151.0 249.6L151.5 249.5L152.0 249.5L152.5 249.3L153.0 249.3L153.5 249.2L154.0 249.3L154.5 249.4L155.0 249.7L155.5 249.9L156.0 250.2L156.5 249.7L157.0 249.7L157.5 249.4L158.0 249.4L158.5 249.2L159.0 249.0L159.5 249.0L160.0 248.8L160.5 248.7L161.0 248.9L161.5 249.1L162.0 249.3L162.5 249.5L163.0 249.6L163.5 249.8L164.0 249.4L164.5 249.3L165.0 249.2L165.5 249.6L166.0 249.5L166.5 249.5L167.0 249.5L167.5 249.6L168.0 249.8L168.5 249.8L169.0 249.6L169.5 249.2L170.0 248.9L170.5 248.7L171.0 248.9L171.5 249.1L172.0 249.5L172.5 249.6L173.0 249.8L173.5 249.7L174.0 249.5L174.5 249.2L175.0 249.0L175.5 249.2L176.0 249.5L176.5 249.7L177.0 249.7L177.5 249.3L178.0 249.0L178.5 249.0L179.0 249.3L179.5 249.5L180.0 249.5L180.5 249.6L181.0 249.6L181.5 249.5L182.0 249.2L182.5 249.4L183.0 249.5L183.5 249.7L184.0 249.4L184.5 249.6L185.0 249.4L185.5 249.5L186.0 249.4L186.5 249.5L187.0 249.7L187.5 249.4L188.0 249.1L188.5 248.8L189.0 248.7L189.5 248.6L190.0 248.4L190.5 248.3L191.0 246.6L191.5 239.3L192.0 230.3L192.5 239.1L193.0 245.7L193.5 246.5L194.0 246.3L194.5 245.7L195.0 244.9L195.5 243.1L196.0 238.7L196.5 215.7L197.0 176.1L197.5 201.1L198.0 234.2L198.5 242.4L199.0 244.4L199.5 245.8L200.0 246.5L200.5 247.0L201.0 246.8L201.5 243.7L202.0 233.7L202.5 233.3L203.0 243.9L203.5 247.7L204.0 248.8L204.5 249.1L205.0 248.9L205.5 248.4L206.0 247.4L206.5 246.3L207.0 246.4L207.5 247.5L208.0 248.7L208.5 249.2L209.0 249.1L209.5 249.1L210.0 248.9L210.5 249.5L211.0 249.6L211.5 249.6L212.0 248.9L212.5 249.0L213.0 249.3L213.5 249.5L214.0 249.6L214.5 249.6L215.0 249.8L215.5 249.5L216.0 249.0L216.5 248.4L217.0 248.0L217.5 247.2L218.0 247.6L218.5 248.2L219.0 249.4L219.5 249.3L220.0 249.3L220.5 249.0L221.0 249.2L221.5 249.3L222.0 249.4L222.5 249.7L223.0 249.5L223.5 249.4L224.0 249.2L224.5 249.4L225.0 249.5L225.5 249.2L226.0 249.1L226.5 249.2L227.0 249.4L227.5 249.7L228.0 249.8L228.5 249.7L229.0 249.5L229.5 249.5L230.0 249.4L230.5 249.3L231.0 249.3L231.5 249.3L232.0 249.3L232.5 249.3L233.0 249.4L233.5 249.6L234.0 249.4L234.5 249.7L235.0 249.3L235.5 249.4L236.0 248.8L236.5 248.4L237.0 247.7L237.5 247.4L238.0 248.0L238.5 248.6L239.0 249.2L239.5 249.2L240.0 249.1L240.5 249.1L241.0 249.4L241.5 249.6L242.0 249.3L242.5 248.0L243.0 246.2L243.5 244.5L244.0 244.6L244.5 246.4L245.0 248.1L245.5 249.1L246.0 249.5L246.5 249.5L247.0 249.4L247.5 249.3L248.0 249.6L248.5 249.6L249.0 249.4L249.5 249.3L250.0 249.5L250.5 249.6L251.0 249.8L251.5 249.9L252.0 250.0L252.5 249.9L253.0 249.7L253.5 249.7L254.0 249.5L254.5 249.5L255.0 249.5L255.5 249.7L256.0 249.5L256.5 249.3L257.0 249.1L257.5 249.1L258.0 249.7L258.5 250.0L259.0 250.1L259.5 249.6L260.0 249.7L260.5 249.5L261.0 249.5L261.5 249.3L262.0 249.5L262.5 249.6L263.0 249.6L263.5 249.5L264.0 249.6L264.5 249.6L265.0 249.6L265.5 249.2L266.0 248.2L266.5 246.8L267.0 246.7L267.5 247.2L268.0 248.4L268.5 249.0L269.0 249.4L269.5 249.4L270.0 249.3L270.5 249.5L271.0 249.6L271.5 249.4L272.0 249.4L272.5 249.3L273.0 249.6L273.5 249.4L274.0 249.5L274.5 249.6L275.0 249.4L275.5 249.2L276.0 249.1L276.5 248.5L277.0 248.0L277.5 247.4L278.0 248.1L278.5 248.5L279.0 249.0L279.5 249.1L280.0 249.3L280.5 249.2L281.0 249.3L281.5 249.0L282.0 249.3L282.5 249.1L283.0 249.4L283.5 249.3L284.0 249.5L284.5 249.5L285.0 249.7L285.5 249.8L286.0 249.8L286.5 249.8L287.0 249.4L287.5 249.6L288.0 249.3L288.5 249.5L289.0 249.4L289.5 249.5L290.0 249.5L290.5 249.6L291.0 249.4L291.5 249.2L292.0 249.0L292.5 249.1L293.0 249.3L293.5 249.7L294.0 249.7L294.5 249.5L295.0 249.3L295.5 249.3L296.0 249.3L296.5 249.2L297.0 249.1L297.5 249.3L298.0 249.5L298.5 249.7L299.0 249.7L299.5 249.4L300.0 249.4L300.5 249.3L301.0 249.4L301.5 249.0L302.0 248.1L302.5 243.3L303.0 227.4L303.5 223.2L304.0 240.4L304.5 247.4L305.0 248.6L305.5 248.8L306.0 249.3L306.5 249.4L307.0 249.7L307.5 249.2L308.0 249.4L308.5 249.4L309.0 249.4L309.5 249.4L310.0 249.7L310.5 249.8L311.0 249.9L311.5 249.6L312.0 249.5L312.5 248.8L313.0 248.1L313.5 247.4L314.0 247.9L314.5 248.8L315.0 249.3L315.5 249.3L316.0 249.3L316.5 249.2L317.0 249.6L317.5 249.5L318.0 249.3L318.5 249.4L319.0 249.3L319.5 249.4L320.0 249.5L320.5 249.8L321.0 250.1L321.5 249.7L322.0 249.6L322.5 249.5L323.0 249.5L323.5 249.5L324.0 249.4L324.5 249.6L325.0 249.4L325.5 249.6L326.0 249.3L326.5 249.5L327.0 249.5L327.5 249.6L328.0 249.5L328.5 249.7L329.0 249.7L329.5 250.0L330.0 249.8L330.5 249.8L331.0 249.7L331.5 249.5L332.0 249.7L332.5 249.3L333.0 249.4L333.5 249.5L334.0 249.9L334.5 250.0L335.0 249.8L335.5 249.7L336.0 249.4L336.5 249.4L337.0 249.4L337.5 249.5L338.0 249.5L338.5 249.5L339.0 249.4L339.5 249.2L340.0 249.1L340.5 248.7L341.0 247.8L341.5 246.9L342.0 247.5L342.5 248.6L343.0 249.4L343.5 249.5L344.0 249.7L344.5 249.5L345.0 249.3L345.5 249.1L346.0 249.2L346.5 249.0L347.0 248.6L347.5 247.4L348.0 246.6L348.5 246.6L349.0 248.1L349.5 248.7L350.0 248.7L350.5 247.6L351.0 246.6L351.5 246.8L352.0 248.0L352.5 248.8L353.0 249.4L353.5 249.3L354.0 249.6L354.5 249.5L355.0 249.6L355.5 249.5L356.0 249.6L356.5 249.7L357.0 249.8L357.5 249.7L358.0 249.6L358.5 249.7L359.0 249.9L359.5 249.9L360.0 249.8L360.5 249.7L361.0 249.6L361.5 249.7L362.0 249.7L362.5 249.9L363.0 250.2L363.5 250.2L364.0 250.2L364.5 250.0L365.0 250.1L365.5 249.8L366.0 249.9L366.5 249.7L367.0 249.8L367.5 249.8L368.0 250.1L368.5 249.9L369.0 249.7L369.5 249.4L370.0 249.2L370.5 249.2L371.0 249.3L371.5 249.6L372.0 249.6L372.5 249.7L373.0 249.8L373.5 249.5L374.0 249.7L374.5 249.6L375.0 249.8L375.5 249.5L376.0 249.7L376.5 249.7L377.0 249.8L377.5 249.8L378.0 249.8L378.5 249.8L379.0 249.7L379.5 249.5L380.0 249.5L380.5 248.4L381.0 245.2L381.5 240.8L382.0 242.6L382.5 247.0L383.0 249.1L383.5 249.3L384.0 248.5L384.5 246.1L385.0 242.8L385.5 241.4L386.0 243.6L386.5 246.7L387.0 248.9L387.5 249.8L388.0 250.0L388.5 249.9L389.0 249.7L389.5 249.7L390.0 249.1L390.5 248.2L391.0 247.1L391.5 245.5L392.0 244.0L392.5 242.9L393.0 243.1L393.5 244.0L394.0 245.0L394.5 245.6L395.0 242.3L395.5 236.0L396.0 236.9L396.5 244.2L397.0 248.5L397.5 249.4L398.0 249.7L398.5 249.5L399.0 249.3L399.5 249.3L400.0 249.1L400.5 249.3L401.0 249.4L401.5 249.6L402.0 249.6L402.5 249.6L403.0 249.8L403.5 249.9L404.0 250.0L404.5 250.0L405.0 250.1L405.5 249.9L406.0 250.1L406.5 249.6L407.0 249.4L407.5 249.0L408.0 249.3L408.5 249.7L409.0 249.6L409.5 249.6L410.0 249.4L410.5 249.7L411.0 249.6L411.5 249.8L412.0 249.7L412.5 250.0L413.0 250.0L413.5 250.0L414.0 249.8L414.5 249.8L415.0 249.7L415.5 249.7L416.0 249.5L416.5 249.9L417.0 249.8L417.5 249.9L418.0 249.8L418.5 250.0L419.0 250.0L419.5 249.9L420.0 249.8L420.5 249.9L421.0 249.8L421.5 249.6L422.0 249.8L422.5 249.7L423.0 249.7L423.5 249.5L424.0 249.8L424.5 249.9L425.0 249.9L425.5 249.7L426.0 249.6L426.5 249.9L427.0 249.4L427.5 249.5L428.0 248.5L428.5 248.0L429.0 247.7L429.5 248.4L430.0 249.1L430.5 249.4L431.0 249.4L431.5 249.6L432.0 249.6L432.5 249.7L433.0 249.6L433.5 249.8L434.0 250.0L434.5 249.9L435.0 249.7L435.5 249.6L436.0 249.9L436.5 249.9L437.0 250.0L437.5 249.8L438.0 250.0L438.5 250.1L439.0 250.1L439.5 250.0L440.0 249.6L440.5 249.3L441.0 249.3L441.5 249.3L442.0 249.5L442.5 249.5L443.0 249.8L443.5 249.7L444.0 249.7L444.5 249.6L445.0 249.8L445.5 249.8L446.0 249.9L446.5 249.8L447.0 249.6L447.5 249.5L448.0 249.8L448.5 250.0L449.0 250.1L449.5 250.0L450.0 249.9L450.5 249.4L451.0 249.2L451.5 249.5L452.0 249.7L452.5 250.1L453.0 250.0L453.5 249.9L454.0 249.5L454.5 249.6L455.0 250.1L455.5 250.0L456.0 249.9L456.5 249.7L457.0 249.8L457.5 249.8L458.0 250.0L458.5 250.0L459.0 250.0L459.5 249.8L460.0 250.1L460.5 249.9L461.0 249.7L461.5 248.9L462.0 247.9L462.5 246.1L463.0 244.5L463.5 243.8L464.0 244.9L464.5 246.6L465.0 248.0L465.5 248.5L466.0 249.0L466.5 249.5L467.0 249.9L467.5 249.7L468.0 249.7L468.5 249.8L469.0 250.0L469.5 250.0L470.0 249.9L470.5 249.5L471.0 249.5L471.5 249.6L472.0 249.8L472.5 249.6L473.0 249.5L473.5 249.7L474.0 249.8L474.5 249.7L475.0 249.7L475.5 249.8L476.0 249.7L476.5 249.0L477.0 247.9L477.5 247.6L478.0 248.2L478.5 249.2L479.0 249.8L479.5 250.0L480.0 250.1L480.5 250.0L481.0 249.8L481.5 249.9L482.0 249.8L482.5 250.0L483.0 249.7L483.5 249.6L484.0 249.6L484.5 249.7L485.0 249.7L485.5 249.7L486.0 249.7L486.5 249.6L487.0 249.3L487.5 249.3L488.0 249.3L488.5 249.5L489.0 249.8L489.5 249.8L490.0 249.8L490.5 249.6L491.0 249.7L491.5 249.7L492.0 249.6L492.5 249.0L493.0 248.2L493.5 248.2L494.0 248.8L494.5 249.3L495.0 249.6L495.5 249.8L496.0 250.1L496.5 249.8L497.0 249.8L497.5 249.7L498.0 250.1L498.5 250.1L499.0 249.9L499.5 249.7L500.0 249.8L500.5 249.8L501.0 250.0L501.5 249.9L502.0 249.9L502.5 249.8L503.0 250.0L503.5 250.0L504.0 249.9L504.5 249.8L505.0 249.8L505.5 249.8L506.0 249.9L506.5 250.0L507.0 250.0L507.5 249.7L508.0 249.4L508.5 249.6L509.0 249.6L509.5 249.7L510.0 249.6L510.5 249.7L511.0 249.7L511.5 249.4L512.0 249.6L512.5 249.7L513.0 249.9L513.5 249.8L514.0 249.7L514.5 249.6L515.0 249.7L515.5 249.9L516.0 250.0L516.5 250.0L517.0 249.9L517.5 249.9L518.0 249.7L518.5 249.8L519.0 249.5L519.5 249.5L520.0 249.6L520.5 249.6L521.0 249.7L521.5 249.7L522.0 250.2L522.5 249.9L523.0 249.8L523.5 249.6L524.0 249.7L524.5 249.8L525.0 249.9L525.5 250.1L526.0 250.0L526.5 249.9L527.0 249.5L527.5 249.7L528.0 249.8L528.5 250.1L529.0 249.8L529.5 249.9L530.0 249.6L530.5 249.6L531.0 249.3L531.5 249.0L532.0 248.6L532.5 247.2L533.0 245.5L533.5 243.5L534.0 243.2L534.5 244.4L535.0 246.3L535.5 248.0L536.0 248.9L536.5 249.6L537.0 250.0L537.5 250.0L538.0 249.7L538.5 249.6L539.0 249.5L539.5 249.9L540.0 249.7L540.5 249.7L541.0 249.4L541.5 249.3L542.0 248.5L542.5 247.5L543.0 247.6L543.5 248.4L544.0 249.4L544.5 249.9L545.0 250.1L545.5 250.0L546.0 249.8L546.5 249.9L547.0 249.9L547.5 249.9L548.0 249.9L548.5 249.9L549.0 250.2L549.5 250.2L550.0 250.3L550.5 250.1L551.0 250.0L551.5 250.0L552.0 249.8L552.5 249.7L553.0 249.6L553.5 249.9L554.0 250.2L554.5 250.1L555.0 249.9L555.5 249.9L556.0 250.0L556.5 249.9L557.0 249.8L557.5 249.7L558.0 249.9L558.5 249.9L559.0 250.1L559.5 250.0L560.0 250.2L560.5 250.2L561.0 250.4L561.5 249.9L562.0 249.7L562.5 249.3L563.0 249.4L563.5 249.6L564.0 249.7L564.5 249.9L565.0 249.7L565.5 250.0L566.0 250.0L566.5 250.0L567.0 249.7L567.5 249.6L568.0 249.4L568.5 249.2L569.0 249.4L569.5 249.7L570.0 250.2L570.5 250.0L571.0 250.1L571.5 250.0L572.0 249.8L572.5 249.7L573.0 249.6L573.5 249.7L574.0 249.8L574.5 249.9L575.0 249.8L575.5 249.8L576.0 249.8L576.5 250.0L577.0 249.9L577.5 249.7L578.0 249.5" fill="none" stroke="#6a00ff" stroke-width="3.5" stroke-linejoin="round"/>
<path clip-path="url(#ca6)" d="M30.0 284.5L30.5 284.3L31.0 284.3L31.5 284.3L32.0 284.8L32.5 285.0L33.0 285.0L33.5 284.6L34.0 284.6L34.5 284.7L35.0 284.8L35.5 284.9L36.0 285.1L36.5 285.2L37.0 284.9L37.5 284.7L38.0 284.9L38.5 285.0L39.0 285.1L39.5 284.7L40.0 284.7L40.5 284.5L41.0 284.5L41.5 284.6L42.0 284.5L42.5 284.4L43.0 284.3L43.5 284.2L44.0 284.5L44.5 284.4L45.0 284.5L45.5 284.6L46.0 284.7L46.5 284.8L47.0 284.8L47.5 284.8L48.0 284.5L48.5 284.5L49.0 284.5L49.5 284.8L50.0 284.8L50.5 284.7L51.0 284.4L51.5 284.3L52.0 284.5L52.5 284.8L53.0 284.8L53.5 284.9L54.0 285.0L54.5 284.8L55.0 284.8L55.5 284.4L56.0 284.7L56.5 284.5L57.0 284.9L57.5 284.7L58.0 284.9L58.5 284.7L59.0 284.8L59.5 284.7L60.0 284.6L60.5 284.4L61.0 284.4L61.5 284.4L62.0 284.6L62.5 284.5L63.0 284.3L63.5 284.6L64.0 284.7L64.5 285.3L65.0 285.0L65.5 285.0L66.0 284.2L66.5 284.1L67.0 283.9L67.5 284.2L68.0 284.3L68.5 284.5L69.0 284.4L69.5 284.3L70.0 284.4L70.5 284.5L71.0 284.7L71.5 284.9L72.0 284.9L72.5 284.6L73.0 284.7L73.5 284.7L74.0 284.8L74.5 284.7L75.0 284.6L75.5 284.6L76.0 284.5L76.5 284.8L77.0 285.0L77.5 284.9L78.0 285.0L78.5 284.8L79.0 284.9L79.5 284.8L80.0 284.8L80.5 284.8L81.0 284.8L81.5 284.9L82.0 284.8L82.5 284.4L83.0 284.6L83.5 284.6L84.0 285.0L84.5 284.6L85.0 284.6L85.5 284.9L86.0 284.9L86.5 285.0L87.0 284.6L87.5 285.0L88.0 285.0L88.5 285.0L89.0 284.8L89.5 284.5L90.0 284.5L90.5 284.6L91.0 284.7L91.5 284.6L92.0 284.7L92.5 284.5L93.0 284.6L93.5 284.6L94.0 284.7L94.5 284.6L95.0 284.7L95.5 284.4L96.0 284.4L96.5 284.0L97.0 283.4L97.5 281.1L98.0 278.6L98.5 277.0L99.0 279.1L99.5 281.8L100.0 283.8L100.5 284.1L101.0 283.8L101.5 283.1L102.0 281.4L102.5 278.4L103.0 277.3L103.5 279.2L104.0 282.3L104.5 283.6L105.0 284.2L105.5 284.1L106.0 284.5L106.5 284.6L107.0 284.7L107.5 284.5L108.0 284.7L108.5 284.7L109.0 284.7L109.5 284.6L110.0 284.6L110.5 284.7L111.0 284.7L111.5 284.8L112.0 284.9L112.5 284.9L113.0 285.0L113.5 284.9L114.0 285.1L114.5 284.9L115.0 284.9L115.5 284.8L116.0 284.7L116.5 284.4L117.0 284.1L117.5 284.4L118.0 284.5L118.5 284.6L119.0 284.5L119.5 284.7L120.0 284.7L120.5 284.5L121.0 284.3L121.5 284.3L122.0 284.4L122.5 284.3L123.0 282.9L123.5 276.3L124.0 268.5L124.5 276.4L125.0 283.0L125.5 284.2L126.0 284.5L126.5 284.5L127.0 284.6L127.5 284.8L128.0 284.8L128.5 284.6L129.0 284.4L129.5 284.6L130.0 284.7L130.5 284.7L131.0 284.7L131.5 284.8L132.0 284.9L132.5 284.7L133.0 284.7L133.5 284.6L134.0 284.6L134.5 284.6L135.0 284.7L135.5 284.8L136.0 284.6L136.5 284.5L137.0 284.7L137.5 285.0L138.0 284.9L138.5 284.7L139.0 284.5L139.5 284.6L140.0 284.4L140.5 284.6L141.0 284.5L141.5 284.8L142.0 284.5L142.5 284.4L143.0 284.1L143.5 283.0L144.0 281.4L144.5 279.8L145.0 280.5L145.5 282.5L146.0 284.1L146.5 284.6L147.0 284.5L147.5 284.5L148.0 284.8L148.5 284.7L149.0 284.4L149.5 284.2L150.0 284.7L150.5 284.9L151.0 284.9L151.5 284.9L152.0 284.6L152.5 284.6L153.0 284.4L153.5 284.8L154.0 284.9L154.5 285.1L155.0 284.9L155.5 284.8L156.0 284.8L156.5 284.8L157.0 284.7L157.5 284.5L158.0 284.5L158.5 284.7L159.0 284.9L159.5 284.7L160.0 284.6L160.5 284.6L161.0 284.9L161.5 284.7L162.0 284.7L162.5 284.8L163.0 284.8L163.5 284.8L164.0 284.5L164.5 284.4L165.0 284.4L165.5 284.5L166.0 284.7L166.5 284.7L167.0 284.8L167.5 284.8L168.0 285.1L168.5 285.0L169.0 285.1L169.5 285.0L170.0 284.9L170.5 284.9L171.0 284.8L171.5 284.9L172.0 284.9L172.5 284.7L173.0 284.7L173.5 284.6L174.0 284.9L174.5 284.9L175.0 285.0L175.5 284.9L176.0 284.9L176.5 284.8L177.0 284.6L177.5 284.5L178.0 284.6L178.5 284.8L179.0 284.5L179.5 284.2L180.0 284.1L180.5 284.3L181.0 284.6L181.5 284.7L182.0 284.8L182.5 284.7L183.0 284.8L183.5 284.9L184.0 284.8L184.5 284.7L185.0 284.8L185.5 284.9L186.0 284.7L186.5 284.5L187.0 284.5L187.5 284.8L188.0 284.6L188.5 284.7L189.0 284.6L189.5 284.7L190.0 284.1L190.5 283.7L191.0 282.9L191.5 278.3L192.0 267.4L192.5 270.7L193.0 280.0L193.5 282.3L194.0 282.3L194.5 281.5L195.0 280.4L195.5 279.0L196.0 276.9L196.5 266.3L197.0 229.1L197.5 215.2L198.0 256.6L198.5 275.0L199.0 278.8L199.5 280.1L200.0 280.9L200.5 281.1L201.0 281.5L201.5 279.9L202.0 272.1L202.5 266.6L203.0 277.4L203.5 283.0L204.0 284.1L204.5 284.4L205.0 284.3L205.5 284.0L206.0 282.9L206.5 281.8L207.0 281.6L207.5 282.5L208.0 283.5L208.5 284.1L209.0 284.5L209.5 284.6L210.0 284.6L210.5 284.7L211.0 284.6L211.5 284.4L212.0 284.2L212.5 284.4L213.0 284.8L213.5 285.1L214.0 285.0L214.5 284.7L215.0 284.6L215.5 284.7L216.0 284.5L216.5 284.3L217.0 283.5L217.5 282.8L218.0 282.7L218.5 283.5L219.0 284.4L219.5 284.7L220.0 285.2L220.5 285.3L221.0 285.2L221.5 285.0L222.0 284.7L222.5 284.9L223.0 284.9L223.5 285.0L224.0 285.1L224.5 285.2L225.0 285.1L225.5 284.9L226.0 284.8L226.5 284.9L227.0 284.8L227.5 284.5L228.0 284.6L228.5 284.6L229.0 284.6L229.5 284.4L230.0 284.3L230.5 284.9L231.0 284.8L231.5 284.9L232.0 284.9L232.5 284.9L233.0 284.8L233.5 284.4L234.0 284.3L234.5 284.5L235.0 284.7L235.5 284.9L236.0 284.7L236.5 283.9L237.0 282.8L237.5 281.9L238.0 282.1L238.5 283.1L239.0 283.7L239.5 284.0L240.0 284.3L240.5 284.7L241.0 285.1L241.5 285.1L242.0 284.8L242.5 284.3L243.0 282.9L243.5 281.1L244.0 279.9L244.5 281.0L245.0 282.9L245.5 284.1L246.0 284.5L246.5 284.5L247.0 284.5L247.5 284.7L248.0 284.8L248.5 285.0L249.0 284.7L249.5 284.7L250.0 284.7L250.5 284.7L251.0 284.9L251.5 284.7L252.0 284.8L252.5 284.8L253.0 285.1L253.5 285.1L254.0 285.0L254.5 285.0L255.0 284.9L255.5 285.0L256.0 284.9L256.5 285.0L257.0 285.1L257.5 285.0L258.0 285.2L258.5 285.3L259.0 285.4L259.5 285.3L260.0 284.8L260.5 284.8L261.0 284.6L261.5 284.5L262.0 284.3L262.5 284.3L263.0 284.5L263.5 284.7L264.0 284.8L264.5 284.7L265.0 284.5L265.5 284.4L266.0 284.0L266.5 282.9L267.0 282.0L267.5 282.3L268.0 283.6L268.5 284.4L269.0 284.6L269.5 284.6L270.0 284.6L270.5 284.8L271.0 285.0L271.5 285.0L272.0 284.7L272.5 284.5L273.0 284.8L273.5 284.9L274.0 285.0L274.5 284.6L275.0 284.4L275.5 284.5L276.0 284.6L276.5 284.6L277.0 283.7L277.5 283.1L278.0 282.9L278.5 283.7L279.0 284.1L279.5 284.8L280.0 285.1L280.5 285.1L281.0 285.0L281.5 285.0L282.0 285.1L282.5 284.8L283.0 284.7L283.5 284.7L284.0 284.8L284.5 284.9L285.0 284.9L285.5 284.8L286.0 284.8L286.5 284.7L287.0 285.0L287.5 284.8L288.0 285.0L288.5 284.6L289.0 284.7L289.5 284.6L290.0 284.5L290.5 284.6L291.0 284.7L291.5 284.9L292.0 284.8L292.5 285.1L293.0 285.1L293.5 285.1L294.0 285.0L294.5 285.0L295.0 285.2L295.5 284.9L296.0 284.8L296.5 284.3L297.0 284.6L297.5 284.8L298.0 285.0L298.5 285.1L299.0 284.9L299.5 285.0L300.0 284.8L300.5 284.7L301.0 284.5L301.5 284.1L302.0 283.7L302.5 282.7L303.0 276.2L303.5 258.3L304.0 260.2L304.5 278.0L305.0 283.4L305.5 284.2L306.0 284.4L306.5 284.5L307.0 284.9L307.5 284.9L308.0 284.7L308.5 284.8L309.0 284.9L309.5 285.1L310.0 285.1L310.5 285.0L311.0 284.9L311.5 284.7L312.0 284.7L312.5 284.8L313.0 284.4L313.5 283.6L314.0 283.1L314.5 283.2L315.0 283.8L315.5 284.4L316.0 284.9L316.5 284.9L317.0 285.1L317.5 285.1L318.0 285.2L318.5 285.1L319.0 285.2L319.5 285.1L320.0 285.2L320.5 285.2L321.0 285.3L321.5 285.1L322.0 285.2L322.5 284.9L323.0 285.0L323.5 284.8L324.0 285.0L324.5 285.1L325.0 285.2L325.5 285.0L326.0 284.9L326.5 284.8L327.0 284.8L327.5 284.9L328.0 284.8L328.5 284.9L329.0 285.0L329.5 284.9L330.0 285.1L330.5 284.9L331.0 285.2L331.5 284.9L332.0 284.8L332.5 284.6L333.0 284.8L333.5 284.9L334.0 285.1L334.5 285.1L335.0 285.3L335.5 285.2L336.0 285.0L336.5 285.1L337.0 285.1L337.5 285.1L338.0 284.8L338.5 285.0L339.0 284.9L339.5 285.0L340.0 284.6L340.5 284.1L341.0 283.0L341.5 281.5L342.0 281.2L342.5 282.1L343.0 283.7L343.5 284.6L344.0 285.1L344.5 285.1L345.0 285.0L345.5 284.8L346.0 284.9L346.5 284.9L347.0 284.1L347.5 282.3L348.0 279.9L348.5 278.9L349.0 280.7L349.5 283.2L350.0 284.3L350.5 283.8L351.0 282.8L351.5 282.5L352.0 283.2L352.5 283.9L353.0 284.3L353.5 284.5L354.0 284.7L354.5 284.7L355.0 284.8L355.5 284.9L356.0 284.8L356.5 284.8L357.0 284.6L357.5 284.8L358.0 284.8L358.5 285.0L359.0 284.9L359.5 285.4L360.0 285.4L360.5 285.3L361.0 285.1L361.5 284.9L362.0 285.2L362.5 285.0L363.0 284.9L363.5 284.7L364.0 284.8L364.5 284.9L365.0 284.7L365.5 284.7L366.0 285.0L366.5 285.2L367.0 285.0L367.5 284.8L368.0 284.8L368.5 284.9L369.0 284.9L369.5 284.8L370.0 285.1L370.5 285.2L371.0 285.2L371.5 285.0L372.0 284.9L372.5 284.7L373.0 284.7L373.5 284.7L374.0 285.1L374.5 285.1L375.0 285.1L375.5 285.3L376.0 285.4L376.5 285.3L377.0 285.1L377.5 284.6L378.0 284.8L378.5 284.8L379.0 284.8L379.5 284.7L380.0 284.8L380.5 284.7L381.0 284.6L381.5 282.6L382.0 277.3L382.5 273.6L383.0 277.7L383.5 282.8L384.0 284.2L384.5 284.5L385.0 283.4L385.5 280.0L386.0 276.2L386.5 278.5L387.0 283.0L387.5 284.7L388.0 284.9L388.5 284.8L389.0 284.8L389.5 284.8L390.0 284.3L390.5 283.4L391.0 282.0L391.5 280.4L392.0 278.4L392.5 277.1L393.0 276.9L393.5 277.8L394.0 279.2L394.5 280.4L395.0 280.6L395.5 274.5L396.0 267.4L396.5 276.3L397.0 283.2L397.5 284.4L398.0 284.7L398.5 284.5L399.0 284.7L399.5 284.9L400.0 285.1L400.5 285.2L401.0 285.0L401.5 285.1L402.0 285.1L402.5 285.1L403.0 285.0L403.5 285.1L404.0 285.2L404.5 285.2L405.0 285.2L405.5 285.1L406.0 285.1L406.5 285.3L407.0 285.3L407.5 285.1L408.0 284.8L408.5 284.7L409.0 284.8L409.5 284.9L410.0 285.2L410.5 285.1L411.0 285.0L411.5 284.7L412.0 284.8L412.5 284.8L413.0 284.9L413.5 284.9L414.0 285.0L414.5 285.0L415.0 285.1L415.5 285.2L416.0 285.2L416.5 285.1L417.0 285.3L417.5 285.4L418.0 285.6L418.5 285.1L419.0 285.0L419.5 284.6L420.0 284.9L420.5 285.2L421.0 285.3L421.5 285.2L422.0 285.2L422.5 285.1L423.0 285.0L423.5 284.9L424.0 285.0L424.5 285.4L425.0 285.4L425.5 285.4L426.0 285.1L426.5 284.8L427.0 284.5L427.5 284.5L428.0 284.2L428.5 283.6L429.0 282.9L429.5 282.9L430.0 283.6L430.5 284.4L431.0 284.8L431.5 285.2L432.0 285.2L432.5 285.2L433.0 285.0L433.5 285.1L434.0 284.8L434.5 284.7L435.0 284.9L435.5 284.9L436.0 285.1L436.5 284.8L437.0 284.9L437.5 284.8L438.0 284.9L438.5 285.0L439.0 285.0L439.5 285.0L440.0 285.0L440.5 285.0L441.0 285.2L441.5 285.1L442.0 285.3L442.5 285.1L443.0 285.1L443.5 284.8L444.0 285.0L444.5 284.7L445.0 284.8L445.5 284.7L446.0 285.2L446.5 285.0L447.0 285.0L447.5 284.8L448.0 285.1L448.5 285.0L449.0 285.2L449.5 284.9L450.0 285.0L450.5 285.1L451.0 285.1L451.5 285.3L452.0 285.3L452.5 285.2L453.0 285.3L453.5 285.1L454.0 285.2L454.5 285.1L455.0 285.2L455.5 285.1L456.0 285.0L456.5 285.1L457.0 285.0L457.5 284.9L458.0 284.8L458.5 285.0L459.0 285.2L459.5 285.3L460.0 285.1L460.5 284.9L461.0 284.7L461.5 284.5L462.0 284.2L462.5 283.4L463.0 282.0L463.5 279.6L464.0 277.9L464.5 277.6L465.0 279.2L465.5 281.2L466.0 282.8L466.5 283.8L467.0 284.2L467.5 284.8L468.0 284.9L468.5 285.1L469.0 285.0L469.5 285.0L470.0 285.1L470.5 285.0L471.0 284.8L471.5 284.6L472.0 284.7L472.5 285.1L473.0 285.1L473.5 285.0L474.0 284.8L474.5 285.0L475.0 285.0L475.5 285.1L476.0 284.9L476.5 285.0L477.0 284.6L477.5 283.9L478.0 283.4L478.5 283.5L479.0 284.2L479.5 284.8L480.0 284.9L480.5 285.1L481.0 284.9L481.5 285.0L482.0 285.0L482.5 285.2L483.0 285.4L483.5 285.4L484.0 285.5L484.5 285.0L485.0 284.8L485.5 284.9L486.0 285.0L486.5 285.1L487.0 285.0L487.5 285.0L488.0 285.0L488.5 285.0L489.0 285.1L489.5 285.2L490.0 285.2L490.5 285.1L491.0 285.2L491.5 285.1L492.0 285.1L492.5 284.8L493.0 284.0L493.5 283.1L494.0 283.1L494.5 283.8L495.0 284.5L495.5 284.7L496.0 284.8L496.5 285.0L497.0 285.1L497.5 285.3L498.0 285.3L498.5 285.0L499.0 284.8L499.5 284.9L500.0 285.1L500.5 285.3L501.0 285.0L501.5 285.0L502.0 285.0L502.5 285.1L503.0 285.1L503.5 285.0L504.0 285.1L504.5 285.1L505.0 285.1L505.5 285.2L506.0 285.2L506.5 285.3L507.0 285.2L507.5 285.1L508.0 285.2L508.5 285.2L509.0 285.4L509.5 285.2L510.0 285.2L510.5 285.1L511.0 285.1L511.5 285.2L512.0 285.2L512.5 285.3L513.0 285.2L513.5 285.2L514.0 285.1L514.5 284.9L515.0 284.7L515.5 284.8L516.0 284.9L516.5 285.2L517.0 285.1L517.5 284.9L518.0 284.8L518.5 284.9L519.0 285.1L519.5 285.1L520.0 285.0L520.5 285.2L521.0 285.5L521.5 285.6L522.0 285.4L522.5 285.0L523.0 285.2L523.5 285.4L524.0 285.6L524.5 285.1L525.0 285.1L525.5 285.0L526.0 285.1L526.5 285.2L527.0 285.0L527.5 285.1L528.0 285.2L528.5 285.1L529.0 285.3L529.5 285.0L530.0 285.0L530.5 285.0L531.0 285.3L531.5 285.0L532.0 284.4L532.5 283.6L533.0 282.0L533.5 279.7L534.0 276.9L534.5 275.8L535.0 276.7L535.5 279.0L536.0 281.6L536.5 283.6L537.0 284.4L537.5 284.7L538.0 284.7L538.5 285.1L539.0 285.3L539.5 285.2L540.0 285.1L540.5 285.0L541.0 285.0L541.5 285.0L542.0 284.5L542.5 283.4L543.0 281.9L543.5 282.1L544.0 283.0L544.5 284.3L545.0 284.9L545.5 285.0L546.0 285.0L546.5 285.0L547.0 285.2L547.5 285.1L548.0 285.2L548.5 285.0L549.0 285.0L549.5 284.9L550.0 284.9L550.5 284.8L551.0 284.7L551.5 284.8L552.0 284.8L552.5 284.7L553.0 284.8L553.5 285.1L554.0 285.3L554.5 285.3L555.0 285.4L555.5 285.3L556.0 285.2L556.5 285.0L557.0 285.0L557.5 285.0L558.0 285.1L558.5 285.2L559.0 285.2L559.5 285.2L560.0 285.1L560.5 285.1L561.0 284.9L561.5 285.1L562.0 285.1L562.5 285.4L563.0 285.3L563.5 285.4L564.0 285.1L564.5 285.0L565.0 284.8L565.5 284.8L566.0 284.7L566.5 284.7L567.0 285.0L567.5 285.3L568.0 285.4L568.5 285.4L569.0 285.3L569.5 285.3L570.0 285.5L570.5 285.2L571.0 285.3L571.5 285.2L572.0 285.3L572.5 285.4L573.0 285.2L573.5 285.1L574.0 285.0L574.5 285.2L575.0 285.4L575.5 285.6L576.0 285.3L576.5 285.2L577.0 285.1L577.5 285.4L578.0 285.3" fill="none" stroke="#0b6535" stroke-width="3.5" stroke-linejoin="round"/>
<path clip-path="url(#ca7)" d="M30.0 318.7L30.5 318.8L31.0 318.9L31.5 319.3L32.0 319.1L32.5 319.3L33.0 319.1L33.5 319.2L34.0 319.0L34.5 319.3L35.0 319.1L35.5 318.9L36.0 318.8L36.5 318.9L37.0 318.9L37.5 318.9L38.0 319.0L38.5 319.4L39.0 319.3L39.5 319.3L40.0 319.2L40.5 319.3L41.0 319.5L41.5 319.6L42.0 319.6L42.5 319.3L43.0 319.2L43.5 319.2L44.0 319.2L44.5 319.1L45.0 319.1L45.5 319.2L46.0 319.2L46.5 319.1L47.0 319.1L47.5 319.1L48.0 319.2L48.5 318.9L49.0 319.1L49.5 319.0L50.0 319.1L50.5 319.1L51.0 319.1L51.5 319.0L52.0 319.0L52.5 318.9L53.0 319.2L53.5 319.1L54.0 319.4L54.5 319.2L55.0 319.0L55.5 319.0L56.0 318.9L56.5 318.9L57.0 318.7L57.5 318.5L58.0 318.6L58.5 319.1L59.0 319.5L59.5 319.6L60.0 319.3L60.5 319.2L61.0 319.3L61.5 319.4L62.0 319.5L62.5 319.3L63.0 319.5L63.5 319.4L64.0 319.3L64.5 319.0L65.0 319.1L65.5 319.2L66.0 319.2L66.5 319.1L67.0 318.9L67.5 318.8L68.0 319.0L68.5 319.2L69.0 319.1L69.5 319.0L70.0 319.0L70.5 319.4L71.0 319.6L71.5 319.8L72.0 319.3L72.5 319.2L73.0 319.0L73.5 319.2L74.0 318.9L74.5 318.7L75.0 318.8L75.5 319.2L76.0 319.5L76.5 319.5L77.0 319.5L77.5 319.0L78.0 318.6L78.5 318.6L79.0 319.0L79.5 319.2L80.0 319.0L80.5 319.2L81.0 319.4L81.5 319.3L82.0 319.1L82.5 318.7L83.0 318.9L83.5 318.7L84.0 319.0L84.5 319.0L85.0 319.0L85.5 318.7L86.0 318.9L86.5 319.0L87.0 319.2L87.5 319.3L88.0 319.3L88.5 319.1L89.0 318.8L89.5 319.0L90.0 319.1L90.5 319.1L91.0 319.0L91.5 319.4L92.0 319.4L92.5 319.2L93.0 318.8L93.5 319.2L94.0 319.5L94.5 319.4L95.0 319.1L95.5 318.8L96.0 318.9L96.5 319.0L97.0 319.0L97.5 318.3L98.0 315.7L98.5 311.3L99.0 312.1L99.5 316.2L100.0 318.3L100.5 318.8L101.0 318.5L101.5 318.1L102.0 316.1L102.5 313.5L103.0 311.8L103.5 313.7L104.0 316.4L104.5 318.2L105.0 318.4L105.5 319.0L106.0 319.3L106.5 319.5L107.0 319.3L107.5 319.0L108.0 319.1L108.5 318.9L109.0 319.0L109.5 319.1L110.0 319.4L110.5 319.5L111.0 319.3L111.5 319.1L112.0 319.0L112.5 318.9L113.0 319.3L113.5 319.6L114.0 319.8L114.5 319.5L115.0 319.2L115.5 319.3L116.0 319.3L116.5 319.0L117.0 318.8L117.5 319.0L118.0 319.3L118.5 319.1L119.0 319.0L119.5 318.7L120.0 318.8L120.5 318.6L121.0 318.8L121.5 318.7L122.0 318.6L122.5 318.2L123.0 317.1L123.5 311.0L124.0 297.5L124.5 303.3L125.0 314.9L125.5 318.1L126.0 318.5L126.5 319.0L127.0 319.0L127.5 319.2L128.0 319.1L128.5 319.1L129.0 319.1L129.5 319.1L130.0 319.5L130.5 319.3L131.0 319.4L131.5 319.1L132.0 319.4L132.5 319.2L133.0 319.3L133.5 319.1L134.0 319.1L134.5 318.7L135.0 318.6L135.5 318.7L136.0 319.1L136.5 319.1L137.0 319.0L137.5 318.7L138.0 318.8L138.5 318.9L139.0 319.1L139.5 319.1L140.0 318.9L140.5 319.0L141.0 319.0L141.5 319.1L142.0 318.8L142.5 318.9L143.0 318.5L143.5 317.7L144.0 316.0L144.5 314.5L145.0 314.4L145.5 316.2L146.0 317.9L146.5 318.8L147.0 319.3L147.5 319.1L148.0 319.0L148.5 318.9L149.0 318.9L149.5 319.1L150.0 318.9L150.5 319.2L151.0 319.2L151.5 319.3L152.0 319.0L152.5 319.1L153.0 318.9L153.5 319.0L154.0 318.9L154.5 318.9L155.0 318.9L155.5 318.9L156.0 319.0L156.5 319.0L157.0 319.2L157.5 319.1L158.0 319.0L158.5 318.9L159.0 318.9L159.5 319.0L160.0 319.2L160.5 319.2L161.0 319.1L161.5 319.0L162.0 319.3L162.5 319.5L163.0 319.5L163.5 319.0L164.0 319.0L164.5 319.0L165.0 319.3L165.5 319.2L166.0 319.3L166.5 319.4L167.0 319.4L167.5 319.4L168.0 319.1L168.5 319.3L169.0 319.2L169.5 319.4L170.0 319.5L170.5 319.2L171.0 319.4L171.5 319.1L172.0 319.5L172.5 319.2L173.0 319.1L173.5 319.2L174.0 319.3L174.5 319.5L175.0 319.2L175.5 319.1L176.0 319.2L176.5 319.4L177.0 319.3L177.5 319.1L178.0 319.0L178.5 319.0L179.0 319.0L179.5 318.7L180.0 318.8L180.5 318.9L181.0 319.3L181.5 319.3L182.0 319.4L182.5 319.4L183.0 319.5L183.5 319.7L184.0 319.7L184.5 319.5L185.0 319.0L185.5 319.0L186.0 319.0L186.5 319.1L187.0 318.9L187.5 318.9L188.0 318.9L188.5 318.7L189.0 318.7L189.5 318.7L190.0 319.0L190.5 318.7L191.0 318.3L191.5 316.3L192.0 308.8L192.5 297.2L193.0 305.9L193.5 314.3L194.0 316.0L194.5 315.6L195.0 315.1L195.5 313.9L196.0 312.5L196.5 307.0L197.0 280.4L197.5 244.6L198.0 276.6L198.5 305.9L199.0 312.3L199.5 314.1L200.0 314.9L200.5 315.5L201.0 315.9L201.5 315.0L202.0 307.8L202.5 298.2L203.0 308.4L203.5 316.5L204.0 318.1L204.5 318.3L205.0 318.5L205.5 318.4L206.0 317.7L206.5 316.6L207.0 316.1L207.5 316.9L208.0 318.2L208.5 318.9L209.0 319.2L209.5 319.1L210.0 319.2L210.5 319.2L211.0 319.4L211.5 319.4L212.0 319.3L212.5 319.2L213.0 319.2L213.5 319.3L214.0 319.1L214.5 319.0L215.0 318.9L215.5 318.9L216.0 318.9L216.5 318.8L217.0 318.3L217.5 317.2L218.0 316.7L218.5 317.1L219.0 318.3L219.5 318.8L220.0 318.8L220.5 318.8L221.0 318.7L221.5 318.9L222.0 318.8L222.5 318.8L223.0 318.9L223.5 318.9L224.0 319.2L224.5 318.9L225.0 318.9L225.5 318.8L226.0 319.0L226.5 319.1L227.0 319.1L227.5 319.4L228.0 319.3L228.5 319.4L229.0 319.2L229.5 319.2L230.0 319.3L230.5 319.4L231.0 319.4L231.5 319.4L232.0 319.2L232.5 319.1L233.0 319.0L233.5 319.3L234.0 319.3L234.5 319.5L235.0 319.3L235.5 319.3L236.0 319.1L236.5 318.8L237.0 317.9L237.5 316.5L238.0 316.2L238.5 317.1L239.0 318.3L239.5 318.8L240.0 318.8L240.5 319.2L241.0 319.4L241.5 319.0L242.0 318.8L242.5 318.4L243.0 317.7L243.5 315.8L244.0 314.4L244.5 314.9L245.0 316.9L245.5 318.2L246.0 318.9L246.5 319.1L247.0 319.4L247.5 319.7L248.0 319.5L248.5 319.6L249.0 319.4L249.5 319.3L250.0 319.2L250.5 319.0L251.0 319.3L251.5 319.1L252.0 319.2L252.5 319.2L253.0 319.2L253.5 319.2L254.0 319.3L254.5 319.5L255.0 319.4L255.5 319.4L256.0 319.3L256.5 319.2L257.0 318.8L257.5 319.0L258.0 319.0L258.5 319.5L259.0 319.5L259.5 319.5L260.0 319.3L260.5 319.2L261.0 319.3L261.5 319.4L262.0 319.4L262.5 319.4L263.0 319.2L263.5 319.1L264.0 319.0L264.5 318.9L265.0 319.2L265.5 319.2L266.0 318.9L266.5 317.8L267.0 316.5L267.5 316.3L268.0 317.3L268.5 318.4L269.0 318.9L269.5 319.1L270.0 319.2L270.5 319.2L271.0 319.1L271.5 318.9L272.0 319.0L272.5 319.0L273.0 319.2L273.5 319.4L274.0 319.5L274.5 319.7L275.0 319.6L275.5 319.4L276.0 319.0L276.5 318.8L277.0 318.2L277.5 317.4L278.0 317.1L278.5 317.5L279.0 318.2L279.5 318.6L280.0 319.0L280.5 319.1L281.0 319.2L281.5 319.2L282.0 319.1L282.5 319.4L283.0 319.4L283.5 319.5L284.0 319.4L284.5 319.3L285.0 319.5L285.5 319.3L286.0 319.2L286.5 318.9L287.0 318.9L287.5 319.1L288.0 319.3L288.5 319.3L289.0 319.0L289.5 319.3L290.0 319.3L290.5 319.8L291.0 319.4L291.5 319.4L292.0 319.1L292.5 319.0L293.0 319.1L293.5 319.2L294.0 319.3L294.5 319.1L295.0 319.1L295.5 319.1L296.0 319.4L296.5 319.2L297.0 319.3L297.5 319.2L298.0 319.4L298.5 319.4L299.0 319.3L299.5 319.0L300.0 318.7L300.5 318.4L301.0 318.2L301.5 318.1L302.0 317.7L302.5 316.6L303.0 311.2L303.5 285.5L304.0 249.6L304.5 281.3L305.0 310.5L305.5 316.7L306.0 317.9L306.5 318.5L307.0 319.0L307.5 319.2L308.0 319.2L308.5 318.9L309.0 318.9L309.5 318.9L310.0 319.0L310.5 319.3L311.0 319.5L311.5 319.6L312.0 319.3L312.5 318.9L313.0 318.3L313.5 317.8L314.0 317.4L314.5 317.6L315.0 318.1L315.5 318.7L316.0 319.4L316.5 319.6L317.0 319.4L317.5 319.3L318.0 319.4L318.5 319.6L319.0 319.6L319.5 319.7L320.0 319.6L320.5 319.5L321.0 319.4L321.5 319.8L322.0 319.5L322.5 319.6L323.0 319.3L323.5 319.6L324.0 319.5L324.5 319.6L325.0 319.5L325.5 319.6L326.0 319.2L326.5 319.4L327.0 319.5L327.5 319.6L328.0 319.2L328.5 319.3L329.0 319.2L329.5 319.6L330.0 319.4L330.5 319.3L331.0 319.2L331.5 319.2L332.0 319.3L332.5 319.4L333.0 319.4L333.5 319.7L334.0 319.6L334.5 319.7L335.0 319.5L335.5 319.4L336.0 319.2L336.5 319.1L337.0 319.1L337.5 319.4L338.0 319.4L338.5 319.6L339.0 319.3L339.5 319.5L340.0 319.3L340.5 318.8L341.0 317.6L341.5 316.0L342.0 314.7L342.5 315.3L343.0 316.8L343.5 318.0L344.0 318.7L344.5 319.1L345.0 319.2L345.5 319.2L346.0 319.3L346.5 319.2L347.0 319.1L347.5 318.1L348.0 314.3L348.5 310.1L349.0 312.4L349.5 317.3L350.0 318.9L350.5 318.7L351.0 317.5L351.5 316.5L352.0 316.4L352.5 317.5L353.0 318.4L353.5 319.0L354.0 319.0L354.5 319.0L355.0 319.1L355.5 319.2L356.0 319.5L356.5 319.3L357.0 319.4L357.5 319.4L358.0 319.4L358.5 319.2L359.0 319.2L359.5 319.2L360.0 319.3L360.5 318.9L361.0 318.8L361.5 318.9L362.0 319.3L362.5 319.6L363.0 319.5L363.5 319.5L364.0 319.3L364.5 319.3L365.0 319.5L365.5 319.7L366.0 319.5L366.5 319.2L367.0 319.1L367.5 319.3L368.0 319.5L368.5 319.4L369.0 319.6L369.5 319.5L370.0 319.6L370.5 319.3L371.0 319.8L371.5 319.7L372.0 319.5L372.5 319.5L373.0 319.3L373.5 319.4L374.0 319.2L374.5 319.6L375.0 319.5L375.5 319.4L376.0 319.1L376.5 319.3L377.0 319.4L377.5 319.4L378.0 319.5L378.5 319.3L379.0 319.6L379.5 319.6L380.0 319.8L380.5 319.4L381.0 319.5L381.5 319.2L382.0 318.1L382.5 313.3L383.0 307.6L383.5 310.0L384.0 315.7L384.5 318.2L385.0 319.0L385.5 318.2L386.0 314.7L386.5 310.6L387.0 313.0L387.5 317.4L388.0 319.2L388.5 319.2L389.0 319.0L389.5 318.7L390.0 318.5L390.5 317.8L391.0 316.7L391.5 315.0L392.0 313.4L392.5 311.6L393.0 310.8L393.5 311.0L394.0 312.4L394.5 314.1L395.0 314.7L395.5 311.0L396.0 300.6L396.5 305.2L397.0 315.6L397.5 318.2L398.0 318.5L398.5 318.7L399.0 318.9L399.5 319.3L400.0 319.5L400.5 319.8L401.0 319.7L401.5 319.8L402.0 319.6L402.5 319.5L403.0 319.6L403.5 319.6L404.0 319.4L404.5 319.4L405.0 319.5L405.5 319.5L406.0 319.3L406.5 319.2L407.0 319.3L407.5 319.1L408.0 319.2L408.5 319.3L409.0 319.4L409.5 319.3L410.0 319.2L410.5 319.4L411.0 319.6L411.5 319.6L412.0 319.7L412.5 319.5L413.0 319.5L413.5 319.4L414.0 319.4L414.5 319.4L415.0 319.2L415.5 319.1L416.0 319.2L416.5 319.3L417.0 319.5L417.5 319.5L418.0 319.5L418.5 319.6L419.0 319.7L419.5 320.0L420.0 319.9L420.5 319.6L421.0 319.4L421.5 319.4L422.0 319.6L422.5 319.4L423.0 319.6L423.5 319.6L424.0 319.6L424.5 319.8L425.0 319.7L425.5 319.7L426.0 319.8L426.5 319.7L427.0 319.7L427.5 319.3L428.0 319.2L428.5 318.8L429.0 318.2L429.5 317.7L430.0 318.0L430.5 318.4L431.0 318.7L431.5 318.9L432.0 319.3L432.5 319.5L433.0 319.4L433.5 319.4L434.0 319.6L434.5 319.4L435.0 319.2L435.5 319.3L436.0 319.8L436.5 320.0L437.0 319.8L437.5 319.5L438.0 319.4L438.5 319.7L439.0 319.7L439.5 319.6L440.0 319.4L440.5 319.5L441.0 319.5L441.5 319.5L442.0 319.6L442.5 319.6L443.0 319.8L443.5 319.5L444.0 319.5L444.5 319.4L445.0 319.5L445.5 319.4L446.0 319.6L446.5 319.6L447.0 319.6L447.5 319.5L448.0 319.5L448.5 319.9L449.0 319.7L449.5 320.0L450.0 320.0L450.5 320.1L451.0 319.8L451.5 319.5L452.0 319.4L452.5 319.2L453.0 319.2L453.5 319.2L454.0 319.4L454.5 319.5L455.0 319.2L455.5 318.8L456.0 318.7L456.5 319.0L457.0 319.1L457.5 319.3L458.0 319.1L458.5 319.3L459.0 319.3L459.5 319.2L460.0 319.4L460.5 319.3L461.0 319.8L461.5 319.6L462.0 319.5L462.5 318.9L463.0 317.8L463.5 315.9L464.0 313.1L464.5 310.7L465.0 309.8L465.5 311.5L466.0 314.1L466.5 316.8L467.0 318.2L467.5 319.1L468.0 319.3L468.5 319.3L469.0 319.3L469.5 319.5L470.0 319.6L470.5 320.0L471.0 319.7L471.5 319.9L472.0 319.7L472.5 319.7L473.0 319.7L473.5 319.3L474.0 319.3L474.5 319.0L475.0 319.1L475.5 319.1L476.0 319.5L476.5 319.4L477.0 319.2L477.5 318.6L478.0 318.1L478.5 317.7L479.0 318.1L479.5 318.9L480.0 319.6L480.5 319.8L481.0 319.5L481.5 319.1L482.0 319.1L482.5 319.3L483.0 319.4L483.5 319.2L484.0 319.2L484.5 319.4L485.0 319.6L485.5 319.5L486.0 319.1L486.5 319.1L487.0 319.5L487.5 319.8L488.0 319.7L488.5 319.4L489.0 319.3L489.5 319.3L490.0 319.5L490.5 319.9L491.0 320.0L491.5 319.9L492.0 319.6L492.5 319.6L493.0 319.1L493.5 318.5L494.0 317.5L494.5 317.5L495.0 318.0L495.5 318.7L496.0 319.1L496.5 319.4L497.0 319.4L497.5 319.3L498.0 319.1L498.5 319.3L499.0 319.2L499.5 319.1L500.0 319.1L500.5 319.2L501.0 319.5L501.5 319.6L502.0 319.7L502.5 319.6L503.0 319.5L503.5 319.5L504.0 319.5L504.5 319.6L505.0 319.8L505.5 319.7L506.0 319.6L506.5 319.5L507.0 319.5L507.5 319.5L508.0 319.4L508.5 319.7L509.0 319.9L509.5 320.0L510.0 319.6L510.5 319.5L511.0 319.5L511.5 319.9L512.0 319.8L512.5 319.7L513.0 319.8L513.5 320.2L514.0 320.1L514.5 319.8L515.0 319.5L515.5 319.5L516.0 319.4L516.5 319.6L517.0 319.7L517.5 319.7L518.0 319.5L518.5 319.5L519.0 319.6L519.5 319.5L520.0 319.6L520.5 319.8L521.0 320.0L521.5 319.7L522.0 319.9L522.5 319.6L523.0 319.9L523.5 319.6L524.0 320.0L524.5 319.8L525.0 319.6L525.5 319.3L526.0 319.1L526.5 319.2L527.0 319.4L527.5 319.5L528.0 319.4L528.5 319.5L529.0 319.3L529.5 319.4L530.0 319.2L530.5 319.2L531.0 319.1L531.5 319.4L532.0 319.4L532.5 319.3L533.0 318.5L533.5 316.9L534.0 314.1L534.5 311.3L535.0 309.2L535.5 310.2L536.0 312.4L536.5 315.5L537.0 317.8L537.5 319.0L538.0 319.4L538.5 319.5L539.0 319.5L539.5 319.8L540.0 319.6L540.5 319.6L541.0 319.8L541.5 319.6L542.0 319.6L542.5 319.0L543.0 317.9L543.5 316.3L544.0 316.1L544.5 317.2L545.0 318.7L545.5 319.4L546.0 319.6L546.5 319.4L547.0 319.3L547.5 319.2L548.0 319.4L548.5 319.1L549.0 319.5L549.5 319.4L550.0 319.6L550.5 319.4L551.0 319.6L551.5 319.8L552.0 319.9L552.5 319.8L553.0 319.8L553.5 319.9L554.0 319.8L554.5 319.5L555.0 319.5L555.5 319.6L556.0 319.9L556.5 319.5L557.0 319.3L557.5 319.2L558.0 319.4L558.5 319.2L559.0 319.0L559.5 319.3L560.0 319.6L560.5 319.9L561.0 319.7L561.5 319.9L562.0 319.9L562.5 320.0L563.0 319.8L563.5 319.7L564.0 319.7L564.5 320.0L565.0 320.1L565.5 319.8L566.0 319.5L566.5 319.5L567.0 320.0L567.5 320.1L568.0 320.2L568.5 319.8L569.0 319.9L569.5 319.9L570.0 319.9L570.5 319.4L571.0 319.2L571.5 319.2L572.0 319.6L572.5 319.7L573.0 319.6L573.5 319.7L574.0 319.7L574.5 319.5L575.0 319.4L575.5 319.3L576.0 319.3L576.5 319.4L577.0 319.5L577.5 320.0L578.0 320.1" fill="none" stroke="#0000ff" stroke-width="3.5" stroke-linejoin="round"/>
<path clip-path="url(#ca8)" d="M30.0 354.2L30.5 354.2L31.0 354.2L31.5 354.2L32.0 354.1L32.5 354.1L33.0 354.6L33.5 354.5L34.0 354.4L34.5 354.1L35.0 354.3L35.5 354.6L36.0 354.6L36.5 354.6L37.0 354.3L37.5 354.4L38.0 354.2L38.5 354.3L39.0 354.0L39.5 354.3L40.0 354.3L40.5 354.3L41.0 354.1L41.5 354.4L42.0 354.6L42.5 354.5L43.0 354.5L43.5 354.7L44.0 354.7L44.5 354.7L45.0 354.4L45.5 354.6L46.0 354.7L46.5 354.9L47.0 354.5L47.5 354.4L48.0 354.3L48.5 354.5L49.0 354.5L49.5 354.3L50.0 354.3L50.5 354.2L51.0 354.5L51.5 354.8L52.0 355.2L52.5 355.0L53.0 354.8L53.5 354.3L54.0 354.1L54.5 354.1L55.0 354.3L55.5 354.4L56.0 354.2L56.5 354.2L57.0 354.2L57.5 354.4L58.0 354.4L58.5 354.4L59.0 354.4L59.5 354.5L60.0 354.5L60.5 354.4L61.0 354.3L61.5 354.4L62.0 354.4L62.5 354.4L63.0 354.3L63.5 354.3L64.0 354.0L64.5 354.0L65.0 353.9L65.5 354.1L66.0 354.3L66.5 354.5L67.0 354.1L67.5 354.1L68.0 354.0L68.5 354.2L69.0 354.3L69.5 354.5L70.0 354.7L70.5 354.7L71.0 354.7L71.5 354.8L72.0 354.5L72.5 354.2L73.0 354.1L73.5 354.3L74.0 354.6L74.5 354.5L75.0 354.5L75.5 354.4L76.0 354.5L76.5 354.5L77.0 354.5L77.5 354.6L78.0 354.7L78.5 354.7L79.0 354.6L79.5 354.4L80.0 354.2L80.5 354.3L81.0 354.4L81.5 354.2L82.0 354.4L82.5 354.2L83.0 354.4L83.5 354.2L84.0 354.4L84.5 354.5L85.0 354.7L85.5 354.8L86.0 354.8L86.5 354.8L87.0 354.5L87.5 354.4L88.0 354.6L88.5 354.9L89.0 355.0L89.5 354.5L90.0 354.3L90.5 354.3L91.0 354.2L91.5 354.1L92.0 353.9L92.5 354.0L93.0 354.0L93.5 354.5L94.0 354.5L94.5 354.8L95.0 354.4L95.5 354.0L96.0 353.8L96.5 354.1L97.0 354.4L97.5 354.2L98.0 352.8L98.5 348.7L99.0 345.1L99.5 348.4L100.0 352.5L100.5 354.1L101.0 353.9L101.5 353.3L102.0 351.4L102.5 348.5L103.0 346.8L103.5 348.1L104.0 350.9L104.5 352.8L105.0 353.7L105.5 354.1L106.0 354.2L106.5 354.2L107.0 354.0L107.5 354.2L108.0 354.1L108.5 354.3L109.0 354.3L109.5 354.4L110.0 354.5L110.5 354.6L111.0 354.6L111.5 354.5L112.0 354.4L112.5 354.4L113.0 354.4L113.5 354.5L114.0 354.2L114.5 354.2L115.0 354.2L115.5 354.5L116.0 354.4L116.5 354.4L117.0 354.3L117.5 354.4L118.0 354.4L118.5 354.3L119.0 354.2L119.5 354.4L120.0 354.6L120.5 355.0L121.0 354.6L121.5 354.2L122.0 353.5L122.5 353.4L123.0 352.6L123.5 348.5L124.0 333.1L124.5 328.0L125.0 345.3L125.5 352.7L126.0 353.6L126.5 353.6L127.0 353.8L127.5 354.0L128.0 354.2L128.5 354.3L129.0 354.6L129.5 354.8L130.0 354.9L130.5 354.7L131.0 354.6L131.5 354.5L132.0 354.5L132.5 354.4L133.0 354.5L133.5 354.3L134.0 354.6L134.5 354.5L135.0 354.6L135.5 354.5L136.0 354.7L136.5 354.6L137.0 354.6L137.5 354.3L138.0 354.3L138.5 354.2L139.0 354.3L139.5 354.3L140.0 354.2L140.5 354.3L141.0 354.5L141.5 354.4L142.0 354.3L142.5 354.2L143.0 354.2L143.5 353.8L144.0 352.7L144.5 350.9L145.0 349.6L145.5 350.5L146.0 352.3L146.5 353.9L147.0 354.4L147.5 354.6L148.0 354.1L148.5 354.3L149.0 354.3L149.5 354.6L150.0 354.3L150.5 354.4L151.0 354.5L151.5 354.6L152.0 354.4L152.5 354.4L153.0 354.6L153.5 354.6L154.0 354.7L154.5 354.7L155.0 354.7L155.5 354.4L156.0 354.4L156.5 354.3L157.0 354.5L157.5 354.4L158.0 354.2L158.5 354.3L159.0 354.3L159.5 354.4L160.0 354.4L160.5 354.4L161.0 354.5L161.5 354.3L162.0 354.3L162.5 354.4L163.0 354.7L163.5 354.5L164.0 354.4L164.5 354.2L165.0 354.5L165.5 354.5L166.0 354.6L166.5 354.5L167.0 354.5L167.5 354.7L168.0 354.7L168.5 354.7L169.0 354.6L169.5 354.6L170.0 354.4L170.5 354.3L171.0 354.2L171.5 354.5L172.0 354.5L172.5 354.7L173.0 354.7L173.5 354.4L174.0 354.2L174.5 354.3L175.0 354.3L175.5 354.4L176.0 354.4L176.5 354.5L177.0 354.6L177.5 354.7L178.0 354.6L178.5 354.7L179.0 354.4L179.5 354.8L180.0 354.6L180.5 354.7L181.0 354.5L181.5 354.8L182.0 354.8L182.5 354.7L183.0 354.5L183.5 354.5L184.0 354.4L184.5 354.4L185.0 354.3L185.5 354.6L186.0 354.4L186.5 354.3L187.0 353.9L187.5 353.8L188.0 353.8L188.5 353.9L189.0 354.1L189.5 353.9L190.0 354.1L190.5 353.9L191.0 353.7L191.5 353.0L192.0 350.4L192.5 340.7L193.0 331.6L193.5 343.6L194.0 350.4L194.5 351.4L195.0 350.7L195.5 349.7L196.0 348.3L196.5 345.9L197.0 332.9L197.5 292.7L198.0 288.6L198.5 329.7L199.0 345.1L199.5 348.1L200.0 349.4L200.5 350.3L201.0 350.9L201.5 350.6L202.0 346.2L202.5 335.1L203.0 340.2L203.5 350.3L204.0 353.1L204.5 353.7L205.0 353.9L205.5 353.7L206.0 353.2L206.5 352.2L207.0 351.4L207.5 351.7L208.0 352.7L208.5 353.7L209.0 354.3L209.5 354.4L210.0 354.3L210.5 354.1L211.0 354.1L211.5 354.3L212.0 354.6L212.5 354.6L213.0 354.5L213.5 354.2L214.0 354.0L214.5 354.0L215.0 354.0L215.5 354.4L216.0 354.2L216.5 354.1L217.0 353.3L217.5 352.7L218.0 352.1L218.5 352.4L219.0 353.3L219.5 353.9L220.0 354.2L220.5 354.3L221.0 354.6L221.5 354.6L222.0 354.5L222.5 354.3L223.0 354.3L223.5 354.4L224.0 354.4L224.5 354.4L225.0 354.3L225.5 354.4L226.0 354.7L226.5 354.6L227.0 354.3L227.5 354.3L228.0 354.3L228.5 354.4L229.0 354.3L229.5 354.5L230.0 354.7L230.5 354.8L231.0 354.7L231.5 354.5L232.0 354.4L232.5 354.3L233.0 354.3L233.5 354.5L234.0 354.4L234.5 354.3L235.0 354.2L235.5 354.1L236.0 354.2L236.5 353.8L237.0 353.1L237.5 352.3L238.0 351.8L238.5 352.4L239.0 353.3L239.5 354.0L240.0 354.3L240.5 354.3L241.0 354.3L241.5 354.6L242.0 354.5L242.5 353.9L243.0 353.4L243.5 352.0L244.0 350.4L244.5 349.8L245.0 351.4L245.5 353.4L246.0 354.3L246.5 354.4L247.0 354.2L247.5 354.1L248.0 354.2L248.5 354.2L249.0 354.2L249.5 354.5L250.0 354.6L250.5 354.6L251.0 354.5L251.5 354.5L252.0 354.5L252.5 354.2L253.0 354.2L253.5 354.5L254.0 354.6L254.5 354.5L255.0 354.5L255.5 354.5L256.0 354.4L256.5 354.3L257.0 354.0L257.5 353.9L258.0 353.8L258.5 354.1L259.0 353.9L259.5 353.8L260.0 354.1L260.5 354.4L261.0 354.5L261.5 354.5L262.0 354.5L262.5 354.5L263.0 354.4L263.5 354.5L264.0 354.4L264.5 354.6L265.0 354.4L265.5 354.5L266.0 353.9L266.5 353.6L267.0 352.2L267.5 351.8L268.0 352.3L268.5 353.6L269.0 354.2L269.5 354.4L270.0 354.9L270.5 354.9L271.0 354.8L271.5 354.4L272.0 354.4L272.5 354.4L273.0 354.4L273.5 354.5L274.0 354.6L274.5 354.4L275.0 354.4L275.5 354.2L276.0 354.4L276.5 353.9L277.0 353.7L277.5 352.9L278.0 352.5L278.5 352.7L279.0 353.5L279.5 354.2L280.0 354.5L280.5 354.6L281.0 354.5L281.5 354.5L282.0 354.6L282.5 354.7L283.0 354.7L283.5 354.7L284.0 354.5L284.5 354.4L285.0 354.2L285.5 354.4L286.0 354.6L286.5 354.5L287.0 354.6L287.5 354.5L288.0 354.6L288.5 354.5L289.0 354.5L289.5 354.7L290.0 354.6L290.5 354.8L291.0 354.8L291.5 354.6L292.0 354.6L292.5 354.7L293.0 354.7L293.5 354.7L294.0 354.9L294.5 355.0L295.0 354.8L295.5 354.3L296.0 354.1L296.5 354.2L297.0 354.1L297.5 354.5L298.0 354.4L298.5 354.3L299.0 354.0L299.5 354.0L300.0 354.4L300.5 354.4L301.0 354.5L301.5 353.9L302.0 353.7L302.5 352.9L303.0 351.8L303.5 344.3L304.0 313.0L304.5 285.3L305.0 323.8L305.5 347.3L306.0 351.9L306.5 353.1L307.0 353.5L307.5 353.6L308.0 354.1L308.5 354.3L309.0 354.8L309.5 354.3L310.0 354.4L310.5 354.2L311.0 354.4L311.5 354.3L312.0 354.4L312.5 354.3L313.0 354.2L313.5 353.8L314.0 353.1L314.5 352.3L315.0 352.3L315.5 353.2L316.0 354.1L316.5 354.3L317.0 354.2L317.5 354.0L318.0 353.9L318.5 354.3L319.0 354.3L319.5 354.4L320.0 354.5L320.5 354.8L321.0 355.0L321.5 354.8L322.0 354.6L322.5 354.5L323.0 354.5L323.5 354.6L324.0 354.6L324.5 354.5L325.0 354.4L325.5 354.4L326.0 354.5L326.5 354.6L327.0 354.5L327.5 354.6L328.0 354.3L328.5 354.4L329.0 354.3L329.5 354.6L330.0 354.7L330.5 354.7L331.0 354.6L331.5 354.6L332.0 354.8L332.5 354.8L333.0 354.7L333.5 354.5L334.0 354.3L334.5 354.4L335.0 354.7L335.5 354.9L336.0 355.1L336.5 355.0L337.0 354.8L337.5 354.5L338.0 354.4L338.5 354.6L339.0 354.7L339.5 354.8L340.0 354.6L340.5 354.5L341.0 353.5L341.5 352.5L342.0 350.6L342.5 350.2L343.0 351.1L343.5 353.0L344.0 353.9L344.5 354.5L345.0 354.5L345.5 354.7L346.0 354.5L346.5 354.3L347.0 354.0L347.5 353.4L348.0 351.2L348.5 346.3L349.0 346.0L349.5 350.7L350.0 353.7L350.5 354.2L351.0 353.9L351.5 352.9L352.0 351.8L352.5 351.6L353.0 352.7L353.5 353.6L354.0 354.0L354.5 354.2L355.0 354.4L355.5 354.7L356.0 354.6L356.5 354.5L357.0 354.2L357.5 354.2L358.0 354.5L358.5 354.8L359.0 354.9L359.5 354.8L360.0 354.6L360.5 354.7L361.0 355.0L361.5 355.0L362.0 354.9L362.5 354.6L363.0 354.9L363.5 354.6L364.0 354.5L364.5 354.3L365.0 354.3L365.5 354.4L366.0 354.4L366.5 354.3L367.0 354.1L367.5 354.3L368.0 354.6L368.5 354.8L369.0 354.7L369.5 354.6L370.0 354.7L370.5 354.6L371.0 354.6L371.5 354.4L372.0 354.5L372.5 354.4L373.0 354.6L373.5 354.4L374.0 354.5L374.5 354.3L375.0 354.4L375.5 354.3L376.0 354.2L376.5 354.3L377.0 354.4L377.5 354.8L378.0 354.8L378.5 354.8L379.0 354.6L379.5 354.3L380.0 354.5L380.5 354.4L381.0 354.5L381.5 354.1L382.0 353.9L382.5 353.8L383.0 351.6L383.5 345.1L384.0 340.6L384.5 345.9L385.0 351.9L385.5 353.5L386.0 353.3L386.5 350.2L387.0 344.9L387.5 345.3L388.0 350.6L388.5 353.7L389.0 354.1L389.5 354.2L390.0 354.1L390.5 353.4L391.0 352.0L391.5 350.2L392.0 348.3L392.5 346.5L393.0 344.9L393.5 345.2L394.0 346.2L394.5 348.4L395.0 349.7L395.5 349.4L396.0 341.1L396.5 334.6L397.0 345.9L397.5 352.4L398.0 353.8L398.5 354.0L399.0 353.9L399.5 353.9L400.0 354.2L400.5 354.4L401.0 354.5L401.5 354.3L402.0 354.5L402.5 354.5L403.0 354.8L403.5 354.5L404.0 354.2L404.5 354.2L405.0 354.3L405.5 354.3L406.0 354.3L406.5 354.5L407.0 354.6L407.5 354.5L408.0 354.4L408.5 354.4L409.0 354.4L409.5 354.6L410.0 354.8L410.5 354.8L411.0 354.3L411.5 354.4L412.0 354.4L412.5 354.6L413.0 354.5L413.5 354.7L414.0 354.7L414.5 354.8L415.0 354.4L415.5 354.1L416.0 354.2L416.5 354.6L417.0 355.0L417.5 354.9L418.0 354.9L418.5 354.8L419.0 354.6L419.5 354.6L420.0 354.8L420.5 355.2L421.0 354.9L421.5 354.5L422.0 354.5L422.5 354.9L423.0 355.0L423.5 354.7L424.0 354.3L424.5 354.3L425.0 354.4L425.5 354.4L426.0 354.5L426.5 354.4L427.0 354.4L427.5 354.5L428.0 354.7L428.5 354.7L429.0 354.0L429.5 353.0L430.0 352.7L430.5 353.0L431.0 353.7L431.5 353.9L432.0 354.4L432.5 354.8L433.0 354.9L433.5 354.9L434.0 355.0L434.5 355.0L435.0 354.8L435.5 354.6L436.0 354.7L436.5 354.5L437.0 354.4L437.5 354.1L438.0 354.5L438.5 354.4L439.0 354.5L439.5 354.2L440.0 354.3L440.5 354.4L441.0 354.7L441.5 354.6L442.0 354.3L442.5 354.3L443.0 354.5L443.5 354.6L444.0 354.7L444.5 354.7L445.0 354.9L445.5 354.8L446.0 354.7L446.5 354.8L447.0 354.6L447.5 354.7L448.0 354.4L448.5 354.4L449.0 354.2L449.5 354.3L450.0 354.3L450.5 354.5L451.0 354.5L451.5 354.7L452.0 354.7L452.5 354.7L453.0 354.6L453.5 354.5L454.0 354.7L454.5 354.5L455.0 354.7L455.5 354.5L456.0 354.7L456.5 354.4L457.0 354.6L457.5 354.7L458.0 355.1L458.5 355.0L459.0 355.1L459.5 354.7L460.0 354.5L460.5 354.6L461.0 354.8L461.5 355.0L462.0 354.5L462.5 354.2L463.0 353.9L463.5 353.4L464.0 351.8L464.5 349.1L465.0 345.9L465.5 343.8L466.0 344.2L466.5 346.8L467.0 349.9L467.5 352.3L468.0 353.8L468.5 354.4L469.0 354.5L469.5 354.6L470.0 354.6L470.5 354.9L471.0 354.8L471.5 354.4L472.0 354.3L472.5 354.1L473.0 354.3L473.5 354.6L474.0 354.8L474.5 355.0L475.0 354.9L475.5 355.1L476.0 354.7L476.5 354.7L477.0 354.6L477.5 354.6L478.0 353.9L478.5 353.4L479.0 352.9L479.5 353.1L480.0 353.7L480.5 354.2L481.0 354.5L481.5 354.6L482.0 354.6L482.5 354.7L483.0 354.8L483.5 354.9L484.0 354.8L484.5 354.8L485.0 355.1L485.5 354.9L486.0 354.9L486.5 354.6L487.0 354.5L487.5 354.4L488.0 354.6L488.5 354.7L489.0 354.7L489.5 354.8L490.0 354.7L490.5 354.7L491.0 354.4L491.5 354.7L492.0 354.6L492.5 354.4L493.0 354.1L493.5 354.1L494.0 353.6L494.5 352.7L495.0 352.2L495.5 352.9L496.0 353.8L496.5 354.4L497.0 354.6L497.5 354.8L498.0 354.7L498.5 354.6L499.0 354.6L499.5 354.5L500.0 354.8L500.5 354.8L501.0 354.9L501.5 354.6L502.0 354.6L502.5 354.5L503.0 354.8L503.5 354.7L504.0 354.8L504.5 354.5L505.0 354.6L505.5 354.9L506.0 354.9L506.5 354.9L507.0 354.7L507.5 354.9L508.0 354.7L508.5 354.5L509.0 354.2L509.5 354.1L510.0 354.6L510.5 354.7L511.0 354.8L511.5 354.7L512.0 354.5L512.5 354.8L513.0 354.7L513.5 354.9L514.0 354.7L514.5 354.5L515.0 354.7L515.5 354.6L516.0 354.9L516.5 355.0L517.0 355.2L517.5 355.3L518.0 354.9L518.5 354.6L519.0 354.4L519.5 354.5L520.0 354.9L520.5 354.9L521.0 355.0L521.5 354.6L522.0 354.4L522.5 354.1L523.0 354.1L523.5 354.2L524.0 354.6L524.5 354.7L525.0 355.0L525.5 354.7L526.0 354.9L526.5 354.8L527.0 355.0L527.5 354.9L528.0 354.8L528.5 354.8L529.0 354.7L529.5 354.8L530.0 354.6L530.5 354.7L531.0 354.4L531.5 354.3L532.0 354.5L532.5 354.7L533.0 354.8L533.5 353.7L534.0 352.4L534.5 349.9L535.0 347.0L535.5 344.3L536.0 344.1L536.5 346.1L537.0 349.7L537.5 352.5L538.0 353.9L538.5 354.2L539.0 354.3L539.5 354.3L540.0 354.3L540.5 354.0L541.0 354.4L541.5 354.4L542.0 354.5L542.5 354.6L543.0 354.2L543.5 353.4L544.0 351.8L544.5 351.4L545.0 352.4L545.5 353.8L546.0 354.5L546.5 354.6L547.0 354.6L547.5 354.7L548.0 354.7L548.5 354.6L549.0 354.4L549.5 354.5L550.0 354.6L550.5 355.0L551.0 355.0L551.5 354.9L552.0 354.7L552.5 354.9L553.0 355.0L553.5 355.0L554.0 355.4L554.5 355.2L555.0 355.3L555.5 354.7L556.0 354.5L556.5 354.5L557.0 354.7L557.5 354.6L558.0 354.7L558.5 354.8L559.0 354.9L559.5 354.5L560.0 354.4L560.5 354.7L561.0 354.9L561.5 354.6L562.0 354.4L562.5 354.0L563.0 354.4L563.5 354.1L564.0 354.7L564.5 354.7L565.0 355.0L565.5 355.1L566.0 355.4L566.5 355.0L567.0 355.0L567.5 354.7L568.0 354.8L568.5 354.7L569.0 354.8L569.5 354.8L570.0 354.8L570.5 354.8L571.0 354.8L571.5 354.9L572.0 355.1L572.5 355.2L573.0 355.0L573.5 354.7L574.0 354.4L574.5 354.3L575.0 354.4L575.5 354.6L576.0 354.5L576.5 354.6L577.0 354.5L577.5 354.7L578.0 354.7" fill="none" stroke="#ff0000" stroke-width="3.5" stroke-linejoin="round"/>
<path clip-path="url(#ca9)" d="M30.0 388.6L30.5 389.1L31.0 389.3L31.5 389.1L32.0 389.0L32.5 389.1L33.0 389.2L33.5 389.3L34.0 389.2L34.5 389.1L35.0 388.7L35.5 389.0L36.0 389.1L36.5 389.3L37.0 389.1L37.5 389.1L38.0 388.8L38.5 388.8L39.0 389.0L39.5 388.9L40.0 389.0L40.5 388.8L41.0 389.0L41.5 389.2L42.0 389.1L42.5 389.5L43.0 389.4L43.5 389.2L44.0 388.7L44.5 388.6L45.0 388.9L45.5 389.0L46.0 389.0L46.5 388.8L47.0 388.8L47.5 389.0L48.0 388.9L48.5 389.3L49.0 388.9L49.5 389.3L50.0 389.0L50.5 389.3L51.0 389.0L51.5 388.8L52.0 388.7L52.5 388.7L53.0 388.8L53.5 388.8L54.0 389.2L54.5 389.5L55.0 389.9L55.5 389.6L56.0 389.3L56.5 389.0L57.0 389.0L57.5 389.0L58.0 389.1L58.5 389.3L59.0 389.6L59.5 389.3L60.0 388.9L60.5 388.8L61.0 389.1L61.5 389.1L62.0 388.7L62.5 388.8L63.0 388.8L63.5 388.9L64.0 389.0L64.5 389.1L65.0 389.3L65.5 389.2L66.0 388.8L66.5 388.6L67.0 388.5L67.5 388.9L68.0 388.9L68.5 388.9L69.0 388.8L69.5 389.0L70.0 389.3L70.5 389.2L71.0 389.1L71.5 388.7L72.0 388.6L72.5 388.6L73.0 388.8L73.5 389.0L74.0 388.9L74.5 388.8L75.0 388.8L75.5 388.9L76.0 388.9L76.5 388.7L77.0 388.7L77.5 388.9L78.0 389.0L78.5 388.7L79.0 388.7L79.5 388.8L80.0 389.0L80.5 389.2L81.0 389.1L81.5 389.1L82.0 388.8L82.5 388.9L83.0 388.7L83.5 388.5L84.0 388.5L84.5 388.8L85.0 389.0L85.5 389.0L86.0 388.9L86.5 389.0L87.0 389.0L87.5 389.0L88.0 389.2L88.5 389.3L89.0 389.3L89.5 388.8L90.0 388.8L90.5 389.0L91.0 389.0L91.5 389.0L92.0 388.9L92.5 389.0L93.0 388.8L93.5 388.8L94.0 389.0L94.5 389.0L95.0 389.0L95.5 388.9L96.0 388.8L96.5 388.6L97.0 388.6L97.5 388.9L98.0 388.5L98.5 386.2L99.0 382.1L99.5 381.6L100.0 385.6L100.5 387.9L101.0 388.5L101.5 388.1L102.0 386.6L102.5 384.1L103.0 382.1L103.5 383.1L104.0 385.6L104.5 387.6L105.0 388.6L105.5 389.0L106.0 388.9L106.5 388.9L107.0 388.8L107.5 389.1L108.0 388.8L108.5 388.9L109.0 388.8L109.5 389.2L110.0 389.2L110.5 389.0L111.0 388.8L111.5 388.9L112.0 388.8L112.5 388.9L113.0 388.9L113.5 389.1L114.0 389.1L114.5 389.1L115.0 389.2L115.5 389.1L116.0 389.1L116.5 389.2L117.0 389.1L117.5 389.1L118.0 388.7L118.5 388.7L119.0 388.5L119.5 388.6L120.0 388.4L120.5 388.4L121.0 388.5L121.5 388.4L122.0 388.5L122.5 387.8L123.0 386.6L123.5 380.1L124.0 350.6L124.5 318.9L125.0 355.1L125.5 381.3L126.0 386.3L126.5 387.5L127.0 388.0L127.5 388.4L128.0 388.4L128.5 388.2L129.0 388.4L129.5 388.8L130.0 389.0L130.5 388.8L131.0 388.6L131.5 388.5L132.0 388.5L132.5 388.5L133.0 388.8L133.5 389.3L134.0 389.1L134.5 388.9L135.0 388.7L135.5 388.9L136.0 389.2L136.5 389.4L137.0 389.5L137.5 389.6L138.0 389.6L138.5 389.4L139.0 389.2L139.5 388.9L140.0 388.8L140.5 389.0L141.0 389.1L141.5 389.0L142.0 388.9L142.5 388.9L143.0 388.9L143.5 388.7L144.0 387.9L144.5 386.3L145.0 384.6L145.5 385.0L146.0 386.5L146.5 388.3L147.0 388.6L147.5 388.8L148.0 388.7L148.5 389.0L149.0 389.3L149.5 389.2L150.0 389.1L150.5 388.6L151.0 388.8L151.5 388.7L152.0 389.1L152.5 388.9L153.0 388.9L153.5 388.8L154.0 388.8L154.5 388.9L155.0 389.0L155.5 389.0L156.0 388.8L156.5 389.0L157.0 389.1L157.5 389.5L158.0 389.4L158.5 389.4L159.0 389.1L159.5 388.7L160.0 388.4L160.5 388.7L161.0 389.0L161.5 389.3L162.0 389.1L162.5 388.9L163.0 388.7L163.5 388.6L164.0 388.8L164.5 389.2L165.0 389.6L165.5 389.6L166.0 389.2L166.5 388.8L167.0 388.8L167.5 388.9L168.0 389.0L168.5 388.8L169.0 388.8L169.5 389.0L170.0 389.0L170.5 389.0L171.0 388.8L171.5 389.1L172.0 389.1L172.5 389.4L173.0 389.5L173.5 389.6L174.0 389.4L174.5 389.0L175.0 388.8L175.5 388.7L176.0 388.6L176.5 388.8L177.0 388.7L177.5 389.2L178.0 389.1L178.5 389.2L179.0 389.1L179.5 389.0L180.0 389.2L180.5 389.2L181.0 389.3L181.5 389.1L182.0 389.0L182.5 389.0L183.0 389.0L183.5 389.2L184.0 389.1L184.5 389.1L185.0 388.9L185.5 389.2L186.0 388.9L186.5 389.1L187.0 388.7L187.5 388.9L188.0 388.7L188.5 388.8L189.0 388.6L189.5 388.7L190.0 388.4L190.5 388.3L191.0 388.1L191.5 387.7L192.0 387.3L192.5 384.6L193.0 374.2L193.5 366.3L194.0 378.5L194.5 384.8L195.0 384.8L195.5 384.3L196.0 383.2L196.5 381.5L197.0 374.8L197.5 344.5L198.0 314.0L198.5 350.7L199.0 376.3L199.5 381.5L200.0 383.6L200.5 384.9L201.0 385.6L201.5 385.4L202.0 382.2L202.5 371.3L203.0 371.6L203.5 383.5L204.0 387.2L204.5 388.1L205.0 388.3L205.5 388.5L206.0 388.2L206.5 387.2L207.0 386.2L207.5 386.2L208.0 387.3L208.5 388.1L209.0 388.5L209.5 388.8L210.0 389.1L210.5 389.1L211.0 389.0L211.5 388.9L212.0 389.0L212.5 388.9L213.0 388.9L213.5 388.9L214.0 389.1L214.5 389.1L215.0 389.2L215.5 388.8L216.0 388.8L216.5 388.6L217.0 388.2L217.5 387.1L218.0 386.1L218.5 386.3L219.0 387.4L219.5 388.6L220.0 389.1L220.5 389.0L221.0 389.0L221.5 389.0L222.0 389.2L222.5 389.0L223.0 388.7L223.5 388.8L224.0 388.8L224.5 389.1L225.0 389.0L225.5 389.0L226.0 389.2L226.5 389.0L227.0 389.1L227.5 389.0L228.0 388.9L228.5 388.9L229.0 388.6L229.5 389.0L230.0 389.1L230.5 389.4L231.0 389.1L231.5 388.9L232.0 389.0L232.5 389.1L233.0 389.3L233.5 388.9L234.0 388.9L234.5 389.1L235.0 389.2L235.5 389.4L236.0 389.3L236.5 389.1L237.0 388.5L237.5 387.3L238.0 386.5L238.5 386.1L239.0 387.0L239.5 387.7L240.0 388.7L240.5 389.3L241.0 389.6L241.5 389.4L242.0 388.8L242.5 388.4L243.0 387.8L243.5 386.5L244.0 384.2L244.5 382.7L245.0 383.9L245.5 386.4L246.0 388.1L246.5 389.0L247.0 389.2L247.5 389.1L248.0 389.1L248.5 389.3L249.0 389.4L249.5 389.6L250.0 389.1L250.5 389.2L251.0 388.8L251.5 388.8L252.0 388.9L252.5 389.2L253.0 389.1L253.5 389.0L254.0 388.8L254.5 389.1L255.0 388.9L255.5 388.7L256.0 388.7L256.5 388.9L257.0 389.1L257.5 389.1L258.0 388.9L258.5 388.8L259.0 388.6L259.5 388.9L260.0 388.9L260.5 388.9L261.0 388.6L261.5 388.6L262.0 389.0L262.5 389.3L263.0 389.3L263.5 389.2L264.0 389.1L264.5 389.3L265.0 389.4L265.5 389.2L266.0 388.7L266.5 388.3L267.0 387.3L267.5 386.7L268.0 386.7L268.5 387.3L269.0 388.0L269.5 388.5L270.0 389.1L270.5 389.3L271.0 389.6L271.5 389.5L272.0 389.4L272.5 388.9L273.0 389.1L273.5 389.0L274.0 389.1L274.5 389.1L275.0 389.1L275.5 389.5L276.0 389.1L276.5 388.9L277.0 388.4L277.5 387.7L278.0 387.3L278.5 387.2L279.0 387.8L279.5 388.4L280.0 388.8L280.5 389.0L281.0 388.9L281.5 389.1L282.0 389.2L282.5 389.4L283.0 389.1L283.5 389.0L284.0 388.8L284.5 388.7L285.0 389.0L285.5 389.1L286.0 389.4L286.5 389.3L287.0 389.2L287.5 389.1L288.0 389.3L288.5 389.3L289.0 389.3L289.5 389.1L290.0 389.1L290.5 388.9L291.0 388.9L291.5 389.1L292.0 389.3L292.5 389.6L293.0 389.2L293.5 388.9L294.0 388.7L294.5 388.8L295.0 389.2L295.5 389.5L296.0 389.6L296.5 389.4L297.0 389.3L297.5 389.2L298.0 389.1L298.5 388.8L299.0 388.6L299.5 388.5L300.0 388.6L300.5 388.7L301.0 388.6L301.5 388.6L302.0 388.2L302.5 387.8L303.0 386.9L303.5 384.8L304.0 370.4L304.5 329.7L305.0 330.7L305.5 371.1L306.0 384.5L306.5 386.8L307.0 387.7L307.5 388.3L308.0 388.5L308.5 388.9L309.0 388.8L309.5 388.9L310.0 389.0L310.5 388.8L311.0 389.1L311.5 388.7L312.0 389.1L312.5 388.9L313.0 389.0L313.5 388.3L314.0 387.6L314.5 386.5L315.0 386.7L315.5 387.4L316.0 388.3L316.5 388.8L317.0 389.0L317.5 389.0L318.0 389.0L318.5 389.3L319.0 389.3L319.5 389.2L320.0 389.1L320.5 389.0L321.0 389.1L321.5 389.2L322.0 389.4L322.5 389.5L323.0 389.4L323.5 389.3L324.0 389.0L324.5 389.1L325.0 389.4L325.5 389.5L326.0 389.4L326.5 389.1L327.0 388.8L327.5 388.6L328.0 388.5L328.5 388.7L329.0 388.9L329.5 388.8L330.0 389.1L330.5 389.2L331.0 389.4L331.5 389.1L332.0 388.8L332.5 388.8L333.0 388.8L333.5 389.1L334.0 388.8L334.5 389.0L335.0 388.9L335.5 389.0L336.0 389.0L336.5 389.2L337.0 389.1L337.5 389.2L338.0 389.3L338.5 389.1L339.0 389.1L339.5 389.1L340.0 389.7L340.5 389.9L341.0 389.4L341.5 387.8L342.0 385.6L342.5 383.7L343.0 384.6L343.5 386.3L344.0 388.0L344.5 388.5L345.0 388.7L345.5 388.5L346.0 388.4L346.5 388.7L347.0 389.0L347.5 388.9L348.0 386.9L348.5 380.5L349.0 376.7L349.5 381.6L350.0 387.0L350.5 388.2L351.0 388.1L351.5 387.0L352.0 385.7L352.5 384.9L353.0 386.3L353.5 387.7L354.0 388.8L354.5 389.0L355.0 389.2L355.5 389.1L356.0 388.9L356.5 389.0L357.0 389.0L357.5 389.1L358.0 389.1L358.5 389.0L359.0 389.1L359.5 388.9L360.0 389.1L360.5 389.3L361.0 389.4L361.5 389.2L362.0 389.0L362.5 389.1L363.0 389.3L363.5 389.2L364.0 389.2L364.5 389.1L365.0 389.4L365.5 389.1L366.0 389.1L366.5 389.0L367.0 389.0L367.5 389.0L368.0 388.7L368.5 389.0L369.0 388.9L369.5 389.1L370.0 389.2L370.5 389.3L371.0 389.4L371.5 389.2L372.0 389.3L372.5 389.6L373.0 389.4L373.5 389.4L374.0 389.1L374.5 389.0L375.0 389.0L375.5 389.0L376.0 389.3L376.5 389.4L377.0 389.1L377.5 389.1L378.0 389.2L378.5 389.2L379.0 389.1L379.5 389.0L380.0 388.8L380.5 389.0L381.0 388.9L381.5 389.4L382.0 389.3L382.5 389.1L383.0 388.5L383.5 387.0L384.0 381.1L384.5 374.6L385.0 378.0L385.5 384.9L386.0 387.8L386.5 387.7L387.0 384.8L387.5 379.8L388.0 379.8L388.5 385.1L389.0 387.8L389.5 388.4L390.0 388.3L390.5 387.4L391.0 386.6L391.5 385.4L392.0 384.1L392.5 382.1L393.0 380.8L393.5 380.3L394.0 381.3L394.5 382.8L395.0 384.6L395.5 385.1L396.0 380.3L396.5 369.6L397.0 376.2L397.5 385.8L398.0 388.3L398.5 388.6L399.0 388.6L399.5 388.7L400.0 389.2L400.5 389.3L401.0 389.3L401.5 389.4L402.0 389.3L402.5 389.1L403.0 389.0L403.5 389.3L404.0 389.5L404.5 389.5L405.0 389.3L405.5 388.9L406.0 389.0L406.5 389.1L407.0 389.2L407.5 389.4L408.0 389.2L408.5 389.1L409.0 388.7L409.5 388.7L410.0 388.8L410.5 389.0L411.0 388.9L411.5 389.4L412.0 389.5L412.5 389.5L413.0 389.1L413.5 389.2L414.0 389.1L414.5 389.0L415.0 388.9L415.5 389.0L416.0 389.2L416.5 389.2L417.0 389.0L417.5 388.8L418.0 388.9L418.5 389.2L419.0 389.5L419.5 389.3L420.0 389.1L420.5 389.0L421.0 389.0L421.5 389.0L422.0 389.1L422.5 389.3L423.0 389.4L423.5 389.4L424.0 389.2L424.5 389.2L425.0 389.2L425.5 389.1L426.0 389.1L426.5 389.0L427.0 389.2L427.5 389.3L428.0 389.5L428.5 389.4L429.0 389.0L429.5 388.0L430.0 387.4L430.5 387.5L431.0 388.2L431.5 388.7L432.0 388.9L432.5 389.0L433.0 389.2L433.5 389.3L434.0 389.6L434.5 389.2L435.0 389.2L435.5 389.0L436.0 388.9L436.5 388.9L437.0 389.0L437.5 389.2L438.0 389.2L438.5 389.0L439.0 389.0L439.5 388.8L440.0 388.9L440.5 389.1L441.0 389.3L441.5 389.3L442.0 389.5L442.5 389.4L443.0 389.3L443.5 389.0L444.0 389.2L444.5 389.3L445.0 389.2L445.5 389.1L446.0 388.9L446.5 389.0L447.0 389.0L447.5 389.2L448.0 389.1L448.5 389.1L449.0 389.4L449.5 389.5L450.0 389.3L450.5 389.0L451.0 389.0L451.5 389.0L452.0 389.2L452.5 388.9L453.0 389.0L453.5 389.0L454.0 389.0L454.5 389.2L455.0 389.2L455.5 389.6L456.0 389.7L456.5 389.8L457.0 389.8L457.5 389.4L458.0 389.2L458.5 389.0L459.0 389.1L459.5 389.3L460.0 389.3L460.5 389.2L461.0 389.1L461.5 389.1L462.0 389.2L462.5 389.3L463.0 389.1L463.5 388.9L464.0 388.1L464.5 387.1L465.0 384.7L465.5 382.2L466.0 379.8L466.5 379.6L467.0 381.3L467.5 384.1L468.0 386.3L468.5 387.8L469.0 388.4L469.5 389.0L470.0 388.9L470.5 388.9L471.0 388.7L471.5 389.2L472.0 389.3L472.5 389.4L473.0 389.1L473.5 389.1L474.0 389.1L474.5 389.1L475.0 389.1L475.5 389.0L476.0 389.1L476.5 389.4L477.0 389.5L477.5 389.6L478.0 389.2L478.5 388.7L479.0 387.9L479.5 387.4L480.0 387.8L480.5 388.8L481.0 389.3L481.5 389.2L482.0 389.1L482.5 389.3L483.0 389.5L483.5 389.3L484.0 389.4L484.5 389.5L485.0 389.4L485.5 389.4L486.0 389.3L486.5 389.3L487.0 389.3L487.5 389.4L488.0 389.6L488.5 389.3L489.0 389.5L489.5 389.3L490.0 389.4L490.5 389.1L491.0 389.1L491.5 389.0L492.0 389.2L492.5 389.2L493.0 389.3L493.5 389.2L494.0 388.9L494.5 388.0L495.0 387.1L495.5 386.8L496.0 387.7L496.5 388.6L497.0 389.0L497.5 389.2L498.0 389.2L498.5 389.2L499.0 389.1L499.5 389.0L500.0 389.1L500.5 389.0L501.0 389.2L501.5 389.0L502.0 389.2L502.5 389.2L503.0 389.5L503.5 389.3L504.0 389.4L504.5 389.2L505.0 389.3L505.5 389.2L506.0 388.8L506.5 388.8L507.0 388.7L507.5 388.9L508.0 389.0L508.5 389.3L509.0 389.3L509.5 389.4L510.0 389.3L510.5 389.3L511.0 389.5L511.5 389.3L512.0 389.2L512.5 389.1L513.0 389.2L513.5 389.2L514.0 389.0L514.5 389.1L515.0 389.5L515.5 389.4L516.0 389.0L516.5 389.0L517.0 389.2L517.5 389.5L518.0 389.4L518.5 389.4L519.0 389.3L519.5 389.3L520.0 389.1L520.5 389.1L521.0 389.0L521.5 389.2L522.0 389.1L522.5 389.1L523.0 389.2L523.5 389.3L524.0 389.2L524.5 389.2L525.0 388.9L525.5 389.1L526.0 389.2L526.5 389.5L527.0 389.5L527.5 389.5L528.0 389.1L528.5 389.1L529.0 389.1L529.5 389.4L530.0 389.4L530.5 389.3L531.0 389.0L531.5 389.0L532.0 389.1L532.5 389.2L533.0 389.2L533.5 389.0L534.0 388.7L534.5 387.5L535.0 385.2L535.5 381.6L536.0 378.5L536.5 377.6L537.0 379.7L537.5 383.1L538.0 385.9L538.5 387.8L539.0 388.6L539.5 388.8L540.0 389.2L540.5 389.3L541.0 389.5L541.5 389.3L542.0 389.2L542.5 389.4L543.0 389.4L543.5 389.0L544.0 387.4L544.5 386.1L545.0 385.8L545.5 387.2L546.0 388.5L546.5 389.2L547.0 389.3L547.5 389.3L548.0 389.2L548.5 389.2L549.0 389.3L549.5 389.3L550.0 389.2L550.5 389.1L551.0 389.0L551.5 389.3L552.0 389.4L552.5 389.3L553.0 389.1L553.5 388.9L554.0 388.9L554.5 389.2L555.0 389.1L555.5 389.0L556.0 388.8L556.5 388.9L557.0 389.2L557.5 389.4L558.0 389.6L558.5 389.3L559.0 389.4L559.5 389.3L560.0 389.3L560.5 389.1L561.0 389.1L561.5 389.0L562.0 389.3L562.5 389.2L563.0 389.4L563.5 389.2L564.0 389.3L564.5 389.4L565.0 389.4L565.5 389.6L566.0 389.4L566.5 389.4L567.0 389.2L567.5 389.3L568.0 389.3L568.5 389.4L569.0 389.2L569.5 389.4L570.0 389.4L570.5 389.5L571.0 389.4L571.5 389.5L572.0 389.5L572.5 389.4L573.0 389.4L573.5 389.3L574.0 389.3L574.5 389.3L575.0 389.9L575.5 389.9L576.0 389.9L576.5 389.4L577.0 389.1L577.5 389.1L578.0 389.1" fill="none" stroke="#000000" stroke-width="3.5" stroke-linejoin="round"/>
<g clip-path="url(#cb)">
<path d="M602.5 71.6L603.0 71.4L603.5 71.2L604.0 71.2L604.5 71.1L605.0 71.2L605.5 70.9L606.0 71.1L606.5 70.9L607.0 71.2L607.5 71.2L608.0 71.3L608.5 71.4L609.0 71.4L609.5 71.3L610.0 70.9L610.5 70.8L611.0 71.0L611.5 71.2L612.0 71.6L612.5 71.6L613.0 71.3L613.5 70.7L614.0 70.4L614.5 70.5L615.0 70.7L615.5 70.7L616.0 71.0L616.5 71.2L617.0 71.1L617.5 70.6L618.0 70.5L618.5 70.7L619.0 70.9L619.5 71.0L620.0 71.1L620.5 71.3L621.0 71.1L621.5 71.0L622.0 70.8L622.5 70.5L623.0 70.3L623.5 70.4L624.0 70.5L624.5 70.7L625.0 70.4L625.5 70.4L626.0 70.1L626.5 70.1L627.0 69.7L627.5 69.6L628.0 69.6L628.5 69.2L629.0 68.7L629.5 67.8L630.0 67.7L630.5 66.9L631.0 66.4L631.5 65.3L632.0 64.4L632.5 63.2L633.0 61.9L633.5 60.6L634.0 59.6L634.5 58.7L635.0 57.9L635.5 57.1L636.0 56.7L636.5 56.5L637.0 56.6L637.5 57.2L638.0 58.3L638.5 59.4L639.0 60.3L639.5 61.5L640.0 62.5L640.5 63.7L641.0 64.7L641.5 65.7L642.0 66.7L642.5 67.5L643.0 68.3L643.5 68.6L644.0 68.8L644.5 69.1L645.0 69.2L645.5 70.0L646.0 70.1L646.5 70.6L647.0 70.1L647.5 70.1L648.0 69.9L648.5 70.5L649.0 70.5L649.5 70.5L650.0 70.2L650.5 70.7L651.0 70.7L651.5 70.6L652.0 70.0L652.5 70.0L653.0 70.3L653.5 70.6L654.0 70.5L654.5 70.3L655.0 70.2L655.5 70.4L656.0 70.2L656.5 70.2L657.0 70.2L657.5 69.8L658.0 69.8L658.5 69.6L659.0 70.1L659.5 70.1L660.0 70.1L660.5 70.2L661.0 70.4L661.5 70.2L662.0 70.0L662.5 70.0L663.0 70.3L663.5 70.2L664.0 69.7L664.5 69.2L665.0 69.2L665.5 68.9L666.0 68.8L666.5 68.3L667.0 68.0L667.5 67.2L668.0 66.3L668.5 65.1L669.0 63.9L669.5 62.2L670.0 60.2L670.5 57.3L671.0 54.0L671.5 50.0L672.0 45.5L672.5 40.9L673.0 36.3L673.5 32.2L674.0 28.5L674.5 26.0L675.0 24.3L675.5 23.7L676.0 23.7L676.5 24.3L677.0 24.9L677.5 25.3L678.0 24.7L678.5 23.6L679.0 22.1L679.5 20.8L680.0 19.3L680.5 17.6L681.0 16.9L681.5 16.8L682.0 18.2L682.5 20.1L683.0 23.2L683.5 26.8L684.0 30.7L684.5 34.9L685.0 39.0L685.5 43.4L686.0 47.3L686.5 50.9L687.0 53.9L687.5 57.0L688.0 60.1L688.5 62.2L689.0 63.6L689.5 64.6L690.0 65.7L690.5 66.7L691.0 67.2L691.5 68.1L692.0 68.4L692.5 68.8L693.0 68.9L693.5 69.0L694.0 69.1L694.5 69.4L695.0 69.6L695.5 69.6L696.0 69.6L696.5 69.8L697.0 70.0L697.5 70.0L698.0 69.9L698.5 69.9L699.0 70.0L699.5 69.7L700.0 70.0L700.5 70.0L701.0 70.1L701.5 69.6L702.0 69.6L702.5 69.9L703.0 70.4L703.5 70.3L704.0 70.2L704.5 70.2L705.0 70.3L705.5 70.2L706.0 69.9L706.5 69.7L707.0 69.7L707.5 69.7L708.0 70.0L708.5 70.1L709.0 69.9L709.5 69.8L710.0 69.6L710.5 69.7L711.0 69.6L711.5 69.5L712.0 69.4L712.5 69.5L713.0 69.1L713.5 68.7L714.0 68.1L714.5 67.8L715.0 67.3L715.5 66.7L716.0 65.9L716.5 65.1L717.0 63.7L717.5 62.5L718.0 60.9L718.5 59.8L719.0 58.6L719.5 57.8L720.0 57.0L720.5 56.7L721.0 56.3L721.5 56.3L722.0 56.7L722.5 57.6L723.0 58.7L723.5 59.8L724.0 61.0L724.5 62.0L725.0 63.1L725.5 64.5L726.0 65.8L726.5 66.4L727.0 67.1L727.5 67.5L728.0 68.4L728.5 68.6L729.0 69.2L729.5 69.7L730.0 70.1L730.5 70.0L731.0 69.9L731.5 69.9L732.0 70.3L732.5 70.4L733.0 70.5L733.5 70.4L734.0 70.1L734.5 70.2L735.0 70.3L735.5 70.8L736.0 71.0L736.5 71.2L737.0 71.0L737.5 71.1L738.0 70.7L738.5 70.7L739.0 70.5L739.5 70.9L740.0 71.0L740.5 70.9L741.0 70.6L741.5 70.7L742.0 70.8L742.5 71.0L743.0 70.9L743.5 70.9L744.0 71.1L744.5 71.3L745.0 71.2L745.5 70.9L746.0 70.5L746.5 69.9L747.0 69.5L747.5 69.5L748.0 69.4L748.5 69.5L749.0 69.4L749.5 69.1L750.0 69.0L750.5 68.8L751.0 69.0L751.5 68.4L752.0 68.2L752.5 67.9L753.0 68.1L753.5 68.2L754.0 68.3L754.5 68.3L755.0 68.4L755.5 68.8L756.0 69.1L756.5 69.0L757.0 69.1L757.5 69.1L758.0 69.4L758.5 69.8L759.0 69.9L759.5 70.3L760.0 70.6L760.5 70.9L761.0 70.9L761.5 70.7L762.0 70.5L762.5 70.9L763.0 71.0L763.5 71.1L764.0 71.0L764.5 71.0L765.0 71.1L765.5 71.2L766.0 71.1L766.5 71.2L767.0 70.9L767.5 71.1L768.0 71.1L768.5 71.4L769.0 71.4L769.5 71.4L770.0 71.3L770.5 71.4L771.0 71.1L771.5 71.0L772.0 70.6L772.5 70.9L773.0 71.4L773.5 71.7" fill="none" stroke="#008000" stroke-width="3.5" stroke-linejoin="round"/>
<path d="M602.5 106.0L603.0 106.1L603.5 105.9L604.0 106.0L604.5 105.9L605.0 106.0L605.5 105.9L606.0 105.8L606.5 105.6L607.0 105.8L607.5 105.7L608.0 105.8L608.5 105.9L609.0 105.9L609.5 105.9L610.0 105.8L610.5 105.7L611.0 106.0L611.5 106.0L612.0 105.9L612.5 105.6L613.0 105.6L613.5 105.8L614.0 106.0L614.5 106.0L615.0 105.7L615.5 105.6L616.0 105.5L616.5 105.7L617.0 105.5L617.5 105.9L618.0 105.8L618.5 106.1L619.0 105.8L619.5 105.8L620.0 105.7L620.5 105.9L621.0 106.1L621.5 106.1L622.0 106.1L622.5 106.2L623.0 105.8L623.5 105.4L624.0 105.4L624.5 105.5L625.0 105.6L625.5 105.6L626.0 105.5L626.5 105.4L627.0 105.2L627.5 105.1L628.0 105.2L628.5 104.9L629.0 104.8L629.5 104.5L630.0 104.6L630.5 104.2L631.0 103.8L631.5 103.2L632.0 102.4L632.5 101.6L633.0 100.9L633.5 100.3L634.0 99.1L634.5 97.8L635.0 96.0L635.5 94.9L636.0 93.8L636.5 92.9L637.0 92.0L637.5 91.3L638.0 91.3L638.5 91.2L639.0 91.5L639.5 92.2L640.0 93.0L640.5 94.3L641.0 95.4L641.5 97.1L642.0 98.5L642.5 99.4L643.0 99.9L643.5 100.4L644.0 101.8L644.5 102.6L645.0 103.3L645.5 103.5L646.0 103.9L646.5 104.4L647.0 104.6L647.5 105.0L648.0 105.1L648.5 105.1L649.0 105.1L649.5 105.2L650.0 105.3L650.5 105.2L651.0 105.1L651.5 105.0L652.0 104.9L652.5 105.3L653.0 105.4L653.5 105.3L654.0 105.2L654.5 105.3L655.0 105.5L655.5 105.2L656.0 105.2L656.5 105.1L657.0 105.2L657.5 104.9L658.0 104.7L658.5 104.6L659.0 104.7L659.5 104.8L660.0 105.0L660.5 105.0L661.0 105.0L661.5 104.9L662.0 104.8L662.5 104.6L663.0 104.5L663.5 104.4L664.0 104.5L664.5 104.6L665.0 104.6L665.5 104.6L666.0 104.3L666.5 104.0L667.0 103.7L667.5 103.5L668.0 102.8L668.5 102.2L669.0 101.3L669.5 100.6L670.0 99.7L670.5 98.6L671.0 97.2L671.5 95.4L672.0 93.7L672.5 91.7L673.0 89.3L673.5 86.2L674.0 82.9L674.5 78.9L675.0 74.9L675.5 70.8L676.0 66.7L676.5 62.7L677.0 58.4L677.5 54.5L678.0 50.7L678.5 48.3L679.0 46.3L679.5 45.4L680.0 45.1L680.5 45.9L681.0 47.8L681.5 50.2L682.0 53.3L682.5 56.6L683.0 60.8L683.5 65.2L684.0 69.4L684.5 73.3L685.0 77.1L685.5 81.0L686.0 84.7L686.5 87.6L687.0 90.5L687.5 92.6L688.0 94.5L688.5 96.1L689.0 98.2L689.5 99.5L690.0 100.2L690.5 100.6L691.0 101.2L691.5 102.2L692.0 102.7L692.5 103.5L693.0 103.3L693.5 103.5L694.0 103.8L694.5 104.6L695.0 104.7L695.5 104.5L696.0 104.4L696.5 104.4L697.0 104.2L697.5 104.2L698.0 104.6L698.5 105.0L699.0 105.3L699.5 105.2L700.0 105.2L700.5 105.0L701.0 105.1L701.5 105.2L702.0 105.3L702.5 105.1L703.0 105.2L703.5 105.0L704.0 105.1L704.5 105.0L705.0 105.1L705.5 105.0L706.0 105.2L706.5 105.2L707.0 105.4L707.5 104.9L708.0 105.0L708.5 104.7L709.0 105.1L709.5 105.0L710.0 104.9L710.5 104.7L711.0 104.5L711.5 104.6L712.0 104.4L712.5 104.1L713.0 103.2L713.5 102.7L714.0 102.0L714.5 101.4L715.0 100.1L715.5 99.2L716.0 98.3L716.5 97.3L717.0 95.8L717.5 94.6L718.0 93.8L718.5 93.0L719.0 91.9L719.5 91.2L720.0 90.9L720.5 91.3L721.0 91.8L721.5 92.7L722.0 93.8L722.5 94.9L723.0 96.3L723.5 97.6L724.0 98.8L724.5 99.8L725.0 100.8L725.5 101.6L726.0 102.3L726.5 102.8L727.0 103.6L727.5 103.9L728.0 103.9L728.5 104.2L729.0 104.8L729.5 105.5L730.0 105.6L730.5 105.7L731.0 105.8L731.5 105.6L732.0 105.4L732.5 105.0L733.0 105.1L733.5 105.3L734.0 105.4L734.5 105.6L735.0 105.6L735.5 106.0L736.0 105.7L736.5 105.5L737.0 105.4L737.5 105.7L738.0 105.9L738.5 105.8L739.0 105.6L739.5 105.6L740.0 105.6L740.5 105.9L741.0 106.0L741.5 106.3L742.0 105.8L742.5 105.6L743.0 105.2L743.5 105.3L744.0 105.2L744.5 105.1L745.0 105.5L745.5 105.7L746.0 106.2L746.5 106.0L747.0 106.0L747.5 105.6L748.0 105.3L748.5 105.1L749.0 104.9L749.5 104.8L750.0 104.5L750.5 104.3L751.0 104.5L751.5 104.3L752.0 104.0L752.5 103.5L753.0 103.6L753.5 103.7L754.0 103.8L754.5 103.8L755.0 103.7L755.5 104.1L756.0 104.1L756.5 104.4L757.0 104.2L757.5 104.4L758.0 104.6L758.5 105.0L759.0 105.2L759.5 105.3L760.0 105.8L760.5 105.8L761.0 105.9L761.5 105.9L762.0 105.8L762.5 105.9L763.0 105.7L763.5 106.2L764.0 106.4L764.5 106.5L765.0 106.5L765.5 106.2L766.0 106.0L766.5 105.9L767.0 106.2L767.5 106.4L768.0 106.5L768.5 106.2L769.0 106.1L769.5 106.1L770.0 106.1L770.5 105.9L771.0 105.6L771.5 105.7L772.0 105.8L772.5 106.1L773.0 106.2L773.5 106.1" fill="none" stroke="#ff00ee" stroke-width="3.5" stroke-linejoin="round"/>
<path d="M602.5 140.8L603.0 140.6L603.5 140.7L604.0 140.6L604.5 140.7L605.0 140.8L605.5 141.0L606.0 140.9L606.5 141.0L607.0 140.6L607.5 140.7L608.0 140.6L608.5 140.9L609.0 140.9L609.5 140.8L610.0 140.9L610.5 140.9L611.0 141.0L611.5 141.1L612.0 140.9L612.5 140.8L613.0 140.5L613.5 140.9L614.0 140.9L614.5 141.2L615.0 141.0L615.5 140.8L616.0 140.7L616.5 140.7L617.0 140.7L617.5 140.6L618.0 140.3L618.5 140.7L619.0 140.8L619.5 141.1L620.0 141.0L620.5 141.0L621.0 141.1L621.5 141.3L622.0 141.4L622.5 141.3L623.0 140.7L623.5 140.6L624.0 140.7L624.5 141.3L625.0 141.2L625.5 141.0L626.0 140.7L626.5 140.8L627.0 140.9L627.5 141.2L628.0 140.9L628.5 141.0L629.0 141.0L629.5 140.8L630.0 140.4L630.5 139.8L631.0 139.8L631.5 139.8L632.0 139.5L632.5 139.4L633.0 138.6L633.5 138.3L634.0 137.9L634.5 137.4L635.0 136.3L635.5 135.2L636.0 134.2L636.5 133.5L637.0 132.4L637.5 131.7L638.0 130.4L638.5 129.2L639.0 127.8L639.5 127.4L640.0 127.1L640.5 126.8L641.0 126.9L641.5 127.3L642.0 128.5L642.5 129.4L643.0 130.3L643.5 131.3L644.0 132.6L644.5 134.0L645.0 134.7L645.5 135.8L646.0 136.4L646.5 137.1L647.0 137.7L647.5 138.4L648.0 139.2L648.5 139.5L649.0 139.3L649.5 139.3L650.0 139.4L650.5 139.7L651.0 139.6L651.5 139.8L652.0 139.7L652.5 139.8L653.0 139.7L653.5 140.2L654.0 140.4L654.5 140.2L655.0 139.9L655.5 139.6L656.0 139.8L656.5 139.9L657.0 140.1L657.5 140.1L658.0 139.8L658.5 139.9L659.0 139.7L659.5 139.9L660.0 139.8L660.5 140.1L661.0 140.1L661.5 140.0L662.0 139.9L662.5 139.8L663.0 139.8L663.5 139.6L664.0 139.3L664.5 139.1L665.0 138.8L665.5 138.8L666.0 138.8L666.5 139.1L667.0 138.9L667.5 138.7L668.0 138.4L668.5 137.7L669.0 137.4L669.5 136.4L670.0 135.9L670.5 134.7L671.0 133.2L671.5 131.9L672.0 130.4L672.5 128.6L673.0 126.5L673.5 124.0L674.0 121.4L674.5 118.2L675.0 114.3L675.5 110.3L676.0 106.3L676.5 102.1L677.0 97.5L677.5 93.2L678.0 89.3L678.5 86.0L679.0 82.7L679.5 80.6L680.0 79.4L680.5 79.3L681.0 79.7L681.5 80.9L682.0 83.5L682.5 87.0L683.0 91.0L683.5 94.9L684.0 98.7L684.5 102.7L685.0 106.4L685.5 110.4L686.0 114.3L686.5 117.9L687.0 121.4L687.5 124.5L688.0 127.2L688.5 129.1L689.0 131.0L689.5 132.5L690.0 133.8L690.5 134.8L691.0 135.8L691.5 136.7L692.0 137.2L692.5 137.5L693.0 138.0L693.5 138.2L694.0 138.4L694.5 138.4L695.0 139.0L695.5 139.6L696.0 139.7L696.5 139.6L697.0 139.5L697.5 139.8L698.0 140.0L698.5 140.0L699.0 140.1L699.5 140.0L700.0 139.9L700.5 140.1L701.0 139.8L701.5 140.3L702.0 139.7L702.5 140.1L703.0 139.7L703.5 140.0L704.0 139.8L704.5 139.8L705.0 140.0L705.5 140.2L706.0 140.3L706.5 140.1L707.0 139.9L707.5 140.2L708.0 140.4L708.5 140.3L709.0 139.9L709.5 139.6L710.0 139.5L710.5 139.3L711.0 139.6L711.5 139.1L712.0 138.9L712.5 138.1L713.0 138.1L713.5 137.6L714.0 137.1L714.5 136.0L715.0 134.9L715.5 133.8L716.0 132.7L716.5 131.8L717.0 130.7L717.5 129.9L718.0 128.6L718.5 127.7L719.0 126.8L719.5 126.3L720.0 126.5L720.5 126.6L721.0 127.4L721.5 127.9L722.0 129.6L722.5 130.8L723.0 132.3L723.5 133.1L724.0 134.2L724.5 134.7L725.0 135.7L725.5 136.3L726.0 137.2L726.5 137.4L727.0 138.1L727.5 138.6L728.0 139.5L728.5 139.9L729.0 140.3L729.5 140.2L730.0 140.3L730.5 140.5L731.0 140.4L731.5 140.4L732.0 140.4L732.5 140.7L733.0 140.4L733.5 140.2L734.0 140.0L734.5 140.3L735.0 140.3L735.5 140.3L736.0 140.4L736.5 140.9L737.0 141.1L737.5 140.7L738.0 140.6L738.5 140.0L739.0 140.4L739.5 140.3L740.0 140.6L740.5 140.6L741.0 140.5L741.5 140.9L742.0 141.0L742.5 141.2L743.0 141.0L743.5 140.9L744.0 141.1L744.5 141.0L745.0 140.9L745.5 140.6L746.0 140.7L746.5 140.9L747.0 140.5L747.5 140.4L748.0 139.8L748.5 139.7L749.0 139.3L749.5 139.2L750.0 139.2L750.5 139.1L751.0 138.8L751.5 138.6L752.0 138.5L752.5 138.5L753.0 138.4L753.5 138.2L754.0 138.3L754.5 138.2L755.0 138.4L755.5 138.5L756.0 138.8L756.5 139.2L757.0 139.6L757.5 139.9L758.0 139.9L758.5 139.7L759.0 139.9L759.5 140.2L760.0 140.6L760.5 140.5L761.0 140.5L761.5 140.5L762.0 140.7L762.5 141.0L763.0 140.9L763.5 141.1L764.0 140.9L764.5 141.1L765.0 141.0L765.5 140.7L766.0 140.7L766.5 140.9L767.0 141.1L767.5 140.5L768.0 140.6L768.5 140.8L769.0 141.2L769.5 140.8L770.0 140.7L770.5 140.6L771.0 140.7L771.5 141.0L772.0 141.4L772.5 141.5L773.0 141.1L773.5 141.0" fill="none" stroke="#2a0404" stroke-width="3.5" stroke-linejoin="round"/>
<path d="M602.5 176.2L603.0 176.1L603.5 175.7L604.0 175.6L604.5 175.8L605.0 176.0L605.5 175.9L606.0 175.6L606.5 175.5L607.0 175.7L607.5 175.7L608.0 176.0L608.5 175.8L609.0 176.1L609.5 175.8L610.0 176.2L610.5 176.3L611.0 176.4L611.5 176.2L612.0 175.8L612.5 175.8L613.0 175.8L613.5 175.9L614.0 176.0L614.5 175.9L615.0 175.7L615.5 175.4L616.0 175.6L616.5 175.6L617.0 175.8L617.5 175.8L618.0 176.0L618.5 176.1L619.0 175.9L619.5 175.7L620.0 175.5L620.5 175.8L621.0 175.7L621.5 175.9L622.0 175.9L622.5 175.9L623.0 175.8L623.5 175.4L624.0 175.6L624.5 175.5L625.0 175.5L625.5 175.0L626.0 175.1L626.5 175.4L627.0 175.7L627.5 175.5L628.0 175.4L628.5 175.2L629.0 175.1L629.5 175.2L630.0 175.3L630.5 175.4L631.0 175.3L631.5 175.0L632.0 174.4L632.5 173.5L633.0 173.0L633.5 172.5L634.0 172.1L634.5 171.5L635.0 170.6L635.5 169.6L636.0 168.2L636.5 167.0L637.0 165.8L637.5 164.8L638.0 163.5L638.5 162.3L639.0 160.9L639.5 160.0L640.0 159.3L640.5 159.5L641.0 159.6L641.5 160.4L642.0 161.3L642.5 162.8L643.0 164.0L643.5 165.0L644.0 166.0L644.5 167.4L645.0 168.8L645.5 170.0L646.0 171.0L646.5 172.0L647.0 173.0L647.5 173.5L648.0 174.3L648.5 174.4L649.0 174.8L649.5 174.7L650.0 174.9L650.5 174.7L651.0 174.7L651.5 174.6L652.0 174.8L652.5 174.6L653.0 174.6L653.5 174.8L654.0 175.1L654.5 175.4L655.0 175.4L655.5 175.2L656.0 175.1L656.5 174.8L657.0 174.8L657.5 174.5L658.0 174.5L658.5 174.6L659.0 174.7L659.5 175.3L660.0 174.9L660.5 175.0L661.0 174.4L661.5 174.9L662.0 174.5L662.5 174.5L663.0 174.2L663.5 174.4L664.0 174.3L664.5 174.3L665.0 174.3L665.5 174.3L666.0 174.0L666.5 173.9L667.0 173.4L667.5 173.6L668.0 173.2L668.5 173.0L669.0 172.2L669.5 172.1L670.0 171.4L670.5 170.9L671.0 169.9L671.5 169.4L672.0 168.2L672.5 166.8L673.0 165.2L673.5 163.4L674.0 161.3L674.5 158.2L675.0 154.9L675.5 151.2L676.0 147.6L676.5 143.4L677.0 139.1L677.5 134.7L678.0 129.8L678.5 125.2L679.0 120.7L679.5 117.0L680.0 113.5L680.5 110.9L681.0 109.0L681.5 108.0L682.0 108.4L682.5 109.7L683.0 112.1L683.5 114.9L684.0 118.7L684.5 123.1L685.0 127.7L685.5 132.5L686.0 137.5L686.5 142.3L687.0 146.3L687.5 150.0L688.0 153.5L688.5 157.0L689.0 160.0L689.5 162.3L690.0 164.4L690.5 165.9L691.0 167.5L691.5 168.7L692.0 170.2L692.5 171.0L693.0 171.9L693.5 172.4L694.0 172.8L694.5 173.0L695.0 173.2L695.5 173.5L696.0 173.4L696.5 173.8L697.0 173.8L697.5 173.9L698.0 173.9L698.5 173.8L699.0 174.0L699.5 173.9L700.0 174.5L700.5 174.5L701.0 174.6L701.5 174.5L702.0 174.5L702.5 174.7L703.0 174.5L703.5 174.8L704.0 174.6L704.5 175.0L705.0 175.0L705.5 175.2L706.0 175.1L706.5 175.0L707.0 174.9L707.5 174.8L708.0 174.6L708.5 174.5L709.0 174.8L709.5 174.9L710.0 174.8L710.5 174.2L711.0 173.8L711.5 173.4L712.0 173.3L712.5 173.0L713.0 172.8L713.5 172.0L714.0 171.2L714.5 170.1L715.0 169.3L715.5 168.2L716.0 167.2L716.5 165.7L717.0 164.6L717.5 163.0L718.0 161.7L718.5 160.1L719.0 159.5L719.5 159.1L720.0 159.3L720.5 159.5L721.0 160.2L721.5 161.3L722.0 162.7L722.5 164.1L723.0 165.3L723.5 166.7L724.0 168.1L724.5 169.3L725.0 170.1L725.5 170.9L726.0 171.6L726.5 172.3L727.0 172.8L727.5 173.4L728.0 174.0L728.5 174.7L729.0 175.0L729.5 175.1L730.0 175.1L730.5 174.9L731.0 174.9L731.5 174.8L732.0 175.0L732.5 175.5L733.0 175.6L733.5 175.8L734.0 175.7L734.5 175.6L735.0 175.7L735.5 175.4L736.0 175.3L736.5 175.2L737.0 175.4L737.5 175.4L738.0 175.5L738.5 175.7L739.0 176.0L739.5 175.8L740.0 175.8L740.5 175.8L741.0 176.2L741.5 176.3L742.0 175.8L742.5 175.6L743.0 175.1L743.5 175.2L744.0 175.1L744.5 175.2L745.0 175.5L745.5 175.6L746.0 175.7L746.5 175.6L747.0 175.6L747.5 175.2L748.0 175.0L748.5 174.8L749.0 175.1L749.5 175.0L750.0 174.7L750.5 174.3L751.0 174.4L751.5 174.4L752.0 174.1L752.5 174.1L753.0 174.0L753.5 174.4L754.0 174.1L754.5 174.0L755.0 173.8L755.5 173.9L756.0 174.3L756.5 174.5L757.0 174.4L757.5 174.3L758.0 174.5L758.5 175.0L759.0 175.4L759.5 175.1L760.0 175.1L760.5 175.0L761.0 175.5L761.5 175.8L762.0 175.8L762.5 175.8L763.0 175.7L763.5 176.1L764.0 176.2L764.5 176.2L765.0 176.3L765.5 176.1L766.0 175.9L766.5 175.5L767.0 175.8L767.5 175.8L768.0 175.9L768.5 175.7L769.0 175.6L769.5 175.6L770.0 175.9L770.5 176.2L771.0 176.4L771.5 176.4L772.0 176.3L772.5 176.3L773.0 176.0L773.5 175.9" fill="none" stroke="#0000f0" stroke-width="3.5" stroke-linejoin="round"/>
<path d="M602.5 210.8L603.0 211.0L603.5 210.7L604.0 210.6L604.5 210.5L605.0 210.5L605.5 210.8L606.0 210.9L606.5 211.1L607.0 211.1L607.5 211.0L608.0 210.9L608.5 211.0L609.0 211.0L609.5 211.1L610.0 211.1L610.5 210.9L611.0 210.8L611.5 210.5L612.0 210.9L612.5 211.0L613.0 211.2L613.5 210.9L614.0 210.8L614.5 210.7L615.0 210.7L615.5 210.4L616.0 210.5L616.5 210.7L617.0 211.1L617.5 211.0L618.0 211.0L618.5 210.5L619.0 210.7L619.5 210.9L620.0 211.2L620.5 210.9L621.0 211.1L621.5 211.1L622.0 210.9L622.5 210.4L623.0 210.5L623.5 210.8L624.0 210.7L624.5 210.4L625.0 210.4L625.5 210.7L626.0 210.6L626.5 210.6L627.0 210.3L627.5 210.3L628.0 210.4L628.5 210.3L629.0 210.4L629.5 210.2L630.0 210.5L630.5 210.4L631.0 210.5L631.5 210.4L632.0 210.3L632.5 210.0L633.0 209.5L633.5 209.2L634.0 209.3L634.5 209.2L635.0 209.1L635.5 208.5L636.0 208.6L636.5 207.9L637.0 207.7L637.5 206.7L638.0 206.2L638.5 205.0L639.0 204.1L639.5 203.1L640.0 202.0L640.5 200.6L641.0 198.9L641.5 197.6L642.0 196.4L642.5 195.3L643.0 194.1L643.5 193.3L644.0 193.2L644.5 193.7L645.0 194.3L645.5 195.2L646.0 196.1L646.5 197.6L647.0 198.9L647.5 200.6L648.0 201.8L648.5 203.2L649.0 204.2L649.5 205.4L650.0 206.3L650.5 207.2L651.0 207.7L651.5 208.1L652.0 207.9L652.5 208.2L653.0 208.4L653.5 209.1L654.0 209.0L654.5 209.2L655.0 209.1L655.5 209.3L656.0 209.0L656.5 209.0L657.0 209.3L657.5 209.6L658.0 209.8L658.5 209.9L659.0 210.0L659.5 210.1L660.0 209.8L660.5 209.7L661.0 209.8L661.5 209.6L662.0 209.4L662.5 209.0L663.0 209.1L663.5 209.2L664.0 209.2L664.5 208.9L665.0 208.8L665.5 208.3L666.0 208.4L666.5 208.1L667.0 208.3L667.5 208.1L668.0 208.2L668.5 207.7L669.0 207.3L669.5 206.6L670.0 205.9L670.5 205.2L671.0 204.4L671.5 203.4L672.0 202.1L672.5 200.6L673.0 198.8L673.5 196.4L674.0 193.5L674.5 190.4L675.0 187.1L675.5 183.2L676.0 178.8L676.5 174.1L677.0 169.1L677.5 164.2L678.0 158.8L678.5 153.3L679.0 148.2L679.5 143.8L680.0 140.0L680.5 136.9L681.0 134.5L681.5 133.9L682.0 134.4L682.5 136.1L683.0 138.8L683.5 142.0L684.0 146.6L684.5 151.3L685.0 156.9L685.5 162.0L686.0 167.0L686.5 171.8L687.0 176.4L687.5 180.9L688.0 185.4L688.5 189.3L689.0 192.9L689.5 195.5L690.0 198.1L690.5 200.0L691.0 201.6L691.5 203.1L692.0 203.9L692.5 204.9L693.0 205.4L693.5 206.1L694.0 206.6L694.5 207.2L695.0 207.4L695.5 207.9L696.0 208.1L696.5 208.6L697.0 208.6L697.5 208.8L698.0 209.0L698.5 208.9L699.0 208.9L699.5 208.9L700.0 209.0L700.5 209.3L701.0 209.7L701.5 209.9L702.0 209.9L702.5 209.3L703.0 209.2L703.5 209.1L704.0 209.3L704.5 209.0L705.0 209.2L705.5 209.2L706.0 209.6L706.5 209.7L707.0 210.0L707.5 210.0L708.0 209.6L708.5 209.4L709.0 209.3L709.5 209.4L710.0 209.4L710.5 209.2L711.0 209.0L711.5 208.6L712.0 208.1L712.5 207.9L713.0 207.4L713.5 206.7L714.0 205.8L714.5 204.9L715.0 204.0L715.5 202.5L716.0 201.1L716.5 199.7L717.0 198.4L717.5 196.9L718.0 195.5L718.5 194.1L719.0 193.3L719.5 193.0L720.0 193.3L720.5 193.7L721.0 194.3L721.5 195.1L722.0 196.2L722.5 197.3L723.0 198.8L723.5 200.1L724.0 201.8L724.5 203.3L725.0 204.6L725.5 205.5L726.0 206.3L726.5 207.1L727.0 207.9L727.5 208.2L728.0 208.5L728.5 209.0L729.0 209.6L729.5 210.0L730.0 209.8L730.5 209.8L731.0 210.1L731.5 210.2L732.0 210.3L732.5 210.0L733.0 210.1L733.5 210.0L734.0 210.0L734.5 210.0L735.0 210.2L735.5 210.2L736.0 210.4L736.5 210.5L737.0 210.7L737.5 210.8L738.0 210.6L738.5 210.5L739.0 210.6L739.5 210.6L740.0 210.7L740.5 210.7L741.0 210.7L741.5 210.8L742.0 210.8L742.5 210.8L743.0 210.6L743.5 210.5L744.0 210.5L744.5 210.4L745.0 210.4L745.5 210.2L746.0 210.4L746.5 210.2L747.0 210.8L747.5 210.7L748.0 210.8L748.5 210.3L749.0 210.5L749.5 210.2L750.0 209.9L750.5 209.3L751.0 209.8L751.5 209.9L752.0 210.1L752.5 210.0L753.0 210.2L753.5 210.2L754.0 209.6L754.5 209.6L755.0 209.7L755.5 209.9L756.0 209.9L756.5 210.0L757.0 210.0L757.5 210.0L758.0 210.2L758.5 210.3L759.0 210.6L759.5 210.5L760.0 210.6L760.5 210.5L761.0 210.4L761.5 210.5L762.0 210.5L762.5 210.7L763.0 211.0L763.5 211.0L764.0 210.8L764.5 210.6L765.0 210.7L765.5 210.7L766.0 210.8L766.5 211.0L767.0 211.1L767.5 211.0L768.0 210.7L768.5 210.8L769.0 211.0L769.5 211.1L770.0 211.0L770.5 210.9L771.0 210.9L771.5 210.7L772.0 210.5L772.5 210.6L773.0 210.4L773.5 210.5" fill="none" stroke="#1f4b08" stroke-width="3.5" stroke-linejoin="round"/>
<path d="M602.5 246.0L603.0 245.8L603.5 246.0L604.0 246.0L604.5 246.1L605.0 245.9L605.5 245.9L606.0 245.8L606.5 245.7L607.0 245.6L607.5 245.6L608.0 245.8L608.5 245.7L609.0 245.5L609.5 245.3L610.0 245.5L610.5 245.6L611.0 245.5L611.5 245.5L612.0 245.2L612.5 245.4L613.0 245.5L613.5 245.9L614.0 245.9L614.5 246.0L615.0 245.9L615.5 246.2L616.0 245.9L616.5 245.8L617.0 245.5L617.5 245.6L618.0 245.6L618.5 245.6L619.0 245.6L619.5 245.6L620.0 246.0L620.5 246.0L621.0 245.9L621.5 245.5L622.0 245.3L622.5 245.6L623.0 246.0L623.5 246.0L624.0 245.7L624.5 245.5L625.0 245.8L625.5 245.7L626.0 245.7L626.5 245.5L627.0 245.3L627.5 244.9L628.0 244.9L628.5 245.2L629.0 245.5L629.5 245.4L630.0 245.5L630.5 245.5L631.0 245.7L631.5 245.3L632.0 245.1L632.5 245.0L633.0 245.3L633.5 245.0L634.0 244.5L634.5 244.4L635.0 244.5L635.5 244.4L636.0 244.2L636.5 244.1L637.0 244.0L637.5 243.5L638.0 242.9L638.5 242.3L639.0 241.5L639.5 240.3L640.0 239.0L640.5 237.7L641.0 236.2L641.5 235.0L642.0 233.5L642.5 232.5L643.0 230.8L643.5 229.5L644.0 228.5L644.5 228.0L645.0 227.5L645.5 227.2L646.0 227.7L646.5 228.7L647.0 230.3L647.5 231.8L648.0 233.6L648.5 234.9L649.0 236.3L649.5 237.4L650.0 238.4L650.5 239.3L651.0 239.9L651.5 241.0L652.0 241.8L652.5 242.7L653.0 243.2L653.5 243.5L654.0 243.8L654.5 244.0L655.0 244.1L655.5 244.1L656.0 244.2L656.5 244.6L657.0 244.9L657.5 244.9L658.0 244.5L658.5 244.6L659.0 244.4L659.5 244.2L660.0 244.0L660.5 244.1L661.0 244.4L661.5 244.9L662.0 245.1L662.5 245.0L663.0 244.6L663.5 244.3L664.0 244.2L664.5 244.4L665.0 244.4L665.5 244.5L666.0 244.1L666.5 244.0L667.0 243.5L667.5 243.6L668.0 243.0L668.5 242.8L669.0 242.3L669.5 241.9L670.0 241.7L670.5 241.4L671.0 241.1L671.5 240.3L672.0 239.2L672.5 238.0L673.0 236.5L673.5 234.8L674.0 232.8L674.5 230.2L675.0 227.7L675.5 224.2L676.0 220.5L676.5 216.0L677.0 211.4L677.5 206.1L678.0 200.5L678.5 194.9L679.0 189.2L679.5 183.0L680.0 177.1L680.5 171.3L681.0 166.5L681.5 162.6L682.0 159.9L682.5 158.8L683.0 158.7L683.5 160.2L684.0 162.6L684.5 166.5L685.0 171.1L685.5 176.5L686.0 181.9L686.5 188.2L687.0 194.4L687.5 200.5L688.0 205.8L688.5 210.8L689.0 215.5L689.5 219.5L690.0 223.3L690.5 226.6L691.0 229.9L691.5 232.4L692.0 234.5L692.5 236.0L693.0 237.6L693.5 238.8L694.0 239.6L694.5 240.5L695.0 241.5L695.5 242.1L696.0 242.3L696.5 242.3L697.0 242.8L697.5 242.7L698.0 242.9L698.5 243.2L699.0 243.8L699.5 243.8L700.0 243.8L700.5 243.9L701.0 244.0L701.5 244.1L702.0 244.1L702.5 244.2L703.0 244.3L703.5 244.4L704.0 244.6L704.5 244.3L705.0 244.5L705.5 244.4L706.0 244.8L706.5 244.7L707.0 244.9L707.5 244.4L708.0 244.3L708.5 243.9L709.0 244.3L709.5 244.4L710.0 244.3L710.5 244.1L711.0 243.4L711.5 243.1L712.0 242.4L712.5 242.0L713.0 241.2L713.5 240.3L714.0 239.5L714.5 238.3L715.0 236.9L715.5 235.4L716.0 234.0L716.5 232.7L717.0 231.3L717.5 229.9L718.0 228.7L718.5 228.1L719.0 227.7L719.5 227.6L720.0 227.7L720.5 228.5L721.0 229.4L721.5 230.9L722.0 232.5L722.5 234.2L723.0 235.7L723.5 236.9L724.0 238.3L724.5 239.7L725.0 240.7L725.5 241.4L726.0 241.8L726.5 242.8L727.0 243.4L727.5 244.0L728.0 244.1L728.5 244.5L729.0 244.6L729.5 245.0L730.0 245.2L730.5 245.2L731.0 245.2L731.5 245.4L732.0 245.3L732.5 245.2L733.0 245.2L733.5 245.5L734.0 245.5L734.5 245.4L735.0 245.4L735.5 245.6L736.0 245.7L736.5 245.8L737.0 245.6L737.5 245.4L738.0 245.2L738.5 245.2L739.0 245.3L739.5 245.5L740.0 245.6L740.5 245.7L741.0 245.7L741.5 245.9L742.0 245.8L742.5 245.8L743.0 245.4L743.5 245.3L744.0 245.4L744.5 245.5L745.0 245.7L745.5 245.4L746.0 245.4L746.5 244.9L747.0 245.2L747.5 245.3L748.0 245.7L748.5 245.4L749.0 245.3L749.5 245.4L750.0 245.5L750.5 245.5L751.0 245.1L751.5 245.1L752.0 245.3L752.5 245.3L753.0 245.0L753.5 244.6L754.0 244.9L754.5 245.1L755.0 245.3L755.5 245.1L756.0 245.2L756.5 245.3L757.0 245.2L757.5 245.3L758.0 245.5L758.5 245.8L759.0 245.8L759.5 245.8L760.0 245.8L760.5 245.8L761.0 245.6L761.5 245.6L762.0 245.6L762.5 245.6L763.0 245.8L763.5 245.8L764.0 246.0L764.5 246.0L765.0 246.0L765.5 246.0L766.0 246.1L766.5 246.1L767.0 246.1L767.5 245.9L768.0 245.8L768.5 245.5L769.0 245.4L769.5 245.5L770.0 245.9L770.5 246.0L771.0 245.9L771.5 245.9L772.0 245.7L772.5 245.9L773.0 245.8L773.5 245.9" fill="none" stroke="#6a00ff" stroke-width="3.5" stroke-linejoin="round"/>
<path d="M602.5 280.5L603.0 280.9L603.5 281.1L604.0 281.0L604.5 280.9L605.0 281.0L605.5 281.2L606.0 281.3L606.5 281.2L607.0 281.1L607.5 281.1L608.0 280.9L608.5 280.7L609.0 280.6L609.5 281.0L610.0 281.2L610.5 281.1L611.0 280.8L611.5 280.7L612.0 280.8L612.5 281.0L613.0 281.4L613.5 281.3L614.0 281.1L614.5 280.7L615.0 280.8L615.5 280.8L616.0 280.6L616.5 280.8L617.0 280.7L617.5 281.1L618.0 280.9L618.5 280.8L619.0 280.6L619.5 280.5L620.0 280.8L620.5 280.8L621.0 280.7L621.5 280.4L622.0 280.1L622.5 280.1L623.0 280.4L623.5 280.8L624.0 280.8L624.5 280.5L625.0 280.6L625.5 280.5L626.0 280.5L626.5 280.5L627.0 280.5L627.5 280.7L628.0 280.5L628.5 280.6L629.0 280.5L629.5 280.6L630.0 280.5L630.5 280.8L631.0 280.6L631.5 280.8L632.0 280.2L632.5 280.0L633.0 280.0L633.5 280.3L634.0 280.3L634.5 280.2L635.0 279.7L635.5 280.0L636.0 279.7L636.5 280.2L637.0 279.5L637.5 279.3L638.0 278.4L638.5 278.2L639.0 277.4L639.5 276.9L640.0 275.9L640.5 275.1L641.0 274.4L641.5 273.5L642.0 272.3L642.5 270.2L643.0 268.5L643.5 266.6L644.0 265.2L644.5 263.8L645.0 262.7L645.5 261.6L646.0 261.1L646.5 261.1L647.0 262.0L647.5 263.0L648.0 264.1L648.5 265.4L649.0 266.9L649.5 268.5L650.0 270.2L650.5 271.6L651.0 273.1L651.5 274.3L652.0 275.5L652.5 276.1L653.0 276.7L653.5 277.2L654.0 278.0L654.5 278.5L655.0 278.7L655.5 278.6L656.0 278.9L656.5 279.2L657.0 279.5L657.5 279.3L658.0 279.3L658.5 279.2L659.0 279.5L659.5 279.3L660.0 279.5L660.5 279.3L661.0 279.4L661.5 279.1L662.0 278.9L662.5 278.9L663.0 278.8L663.5 278.9L664.0 278.9L664.5 278.8L665.0 278.8L665.5 279.0L666.0 279.3L666.5 278.9L667.0 278.4L667.5 278.2L668.0 278.2L668.5 278.1L669.0 277.7L669.5 277.8L670.0 277.6L670.5 277.4L671.0 276.7L671.5 276.0L672.0 275.3L672.5 274.5L673.0 273.8L673.5 272.0L674.0 270.4L674.5 268.0L675.0 266.2L675.5 263.6L676.0 260.3L676.5 256.3L677.0 252.3L677.5 248.3L678.0 243.6L678.5 238.4L679.0 232.5L679.5 227.0L680.0 221.3L680.5 215.8L681.0 210.4L681.5 205.6L682.0 201.9L682.5 199.2L683.0 197.8L683.5 197.2L684.0 198.1L684.5 200.5L685.0 203.9L685.5 208.2L686.0 213.2L686.5 218.7L687.0 224.5L687.5 230.1L688.0 235.7L688.5 241.2L689.0 246.4L689.5 251.2L690.0 255.3L690.5 259.0L691.0 262.4L691.5 265.3L692.0 267.8L692.5 269.6L693.0 271.2L693.5 272.4L694.0 273.7L694.5 274.6L695.0 275.7L695.5 276.5L696.0 277.0L696.5 277.3L697.0 277.5L697.5 277.7L698.0 278.1L698.5 278.4L699.0 278.6L699.5 278.7L700.0 278.5L700.5 279.0L701.0 279.1L701.5 279.2L702.0 278.6L702.5 278.7L703.0 278.8L703.5 279.1L704.0 279.2L704.5 279.3L705.0 279.4L705.5 279.5L706.0 279.6L706.5 279.6L707.0 279.5L707.5 279.7L708.0 279.5L708.5 279.5L709.0 279.3L709.5 279.3L710.0 279.3L710.5 279.4L711.0 279.1L711.5 278.7L712.0 277.9L712.5 277.4L713.0 276.9L713.5 276.2L714.0 275.0L714.5 274.0L715.0 272.9L715.5 271.7L716.0 270.2L716.5 269.0L717.0 267.7L717.5 266.2L718.0 264.3L718.5 263.0L719.0 261.9L719.5 261.4L720.0 261.4L720.5 262.1L721.0 262.9L721.5 263.7L722.0 264.8L722.5 266.5L723.0 268.1L723.5 269.9L724.0 271.0L724.5 272.6L725.0 274.1L725.5 275.5L726.0 276.1L726.5 276.8L727.0 277.5L727.5 278.4L728.0 278.8L728.5 279.3L729.0 279.6L729.5 280.0L730.0 280.1L730.5 279.8L731.0 279.7L731.5 279.7L732.0 279.7L732.5 279.9L733.0 280.1L733.5 280.4L734.0 280.5L734.5 280.4L735.0 280.3L735.5 280.3L736.0 280.5L736.5 280.4L737.0 280.4L737.5 280.5L738.0 280.7L738.5 280.6L739.0 280.7L739.5 280.5L740.0 280.5L740.5 280.4L741.0 280.7L741.5 280.6L742.0 280.9L742.5 280.7L743.0 280.7L743.5 280.4L744.0 280.7L744.5 280.7L745.0 280.8L745.5 280.6L746.0 280.6L746.5 280.7L747.0 280.9L747.5 280.8L748.0 281.1L748.5 280.9L749.0 280.7L749.5 280.1L750.0 280.0L750.5 280.2L751.0 280.3L751.5 280.4L752.0 280.3L752.5 280.4L753.0 280.8L753.5 280.7L754.0 280.6L754.5 280.0L755.0 280.3L755.5 280.3L756.0 280.4L756.5 280.6L757.0 281.0L757.5 281.1L758.0 280.9L758.5 280.7L759.0 280.9L759.5 280.6L760.0 280.9L760.5 281.0L761.0 281.4L761.5 281.3L762.0 281.2L762.5 281.1L763.0 281.1L763.5 281.0L764.0 280.8L764.5 280.4L765.0 280.2L765.5 280.2L766.0 280.4L766.5 280.5L767.0 280.5L767.5 280.2L768.0 280.5L768.5 280.9L769.0 281.4L769.5 281.3L770.0 280.9L770.5 280.8L771.0 280.7L771.5 280.9L772.0 281.0L772.5 281.0L773.0 280.8L773.5 280.7" fill="none" stroke="#0b6535" stroke-width="3.5" stroke-linejoin="round"/>
<path d="M602.5 316.0L603.0 316.0L603.5 315.8L604.0 315.5L604.5 315.2L605.0 315.3L605.5 315.4L606.0 315.5L606.5 315.5L607.0 315.6L607.5 315.8L608.0 316.1L608.5 316.2L609.0 315.8L609.5 315.7L610.0 315.5L610.5 315.7L611.0 315.9L611.5 315.7L612.0 315.2L612.5 315.0L613.0 315.3L613.5 315.5L614.0 315.8L614.5 315.7L615.0 316.1L615.5 315.9L616.0 315.8L616.5 315.7L617.0 315.8L617.5 316.1L618.0 316.1L618.5 315.8L619.0 315.7L619.5 315.4L620.0 315.7L620.5 315.6L621.0 315.9L621.5 315.8L622.0 315.6L622.5 315.8L623.0 315.7L623.5 315.7L624.0 315.4L624.5 315.5L625.0 315.6L625.5 315.5L626.0 315.5L626.5 315.5L627.0 315.6L627.5 315.5L628.0 315.3L628.5 315.3L629.0 315.4L629.5 315.5L630.0 315.5L630.5 315.8L631.0 315.7L631.5 315.5L632.0 315.3L632.5 315.3L633.0 315.3L633.5 315.2L634.0 315.0L634.5 315.0L635.0 314.9L635.5 314.9L636.0 315.0L636.5 314.8L637.0 314.7L637.5 314.7L638.0 314.8L638.5 314.5L639.0 314.4L639.5 314.1L640.0 314.0L640.5 313.2L641.0 312.9L641.5 312.4L642.0 311.9L642.5 311.1L643.0 310.2L643.5 309.3L644.0 308.4L644.5 306.8L645.0 305.5L645.5 303.8L646.0 302.5L646.5 300.5L647.0 299.1L647.5 297.5L648.0 296.3L648.5 295.2L649.0 294.7L649.5 294.9L650.0 295.5L650.5 296.7L651.0 297.9L651.5 299.2L652.0 300.5L652.5 302.3L653.0 303.9L653.5 305.5L654.0 306.8L654.5 308.2L655.0 309.4L655.5 310.6L656.0 311.8L656.5 312.3L657.0 312.8L657.5 312.5L658.0 313.2L658.5 313.3L659.0 313.9L659.5 313.7L660.0 314.0L660.5 313.9L661.0 313.9L661.5 313.7L662.0 313.7L662.5 313.6L663.0 313.5L663.5 313.4L664.0 313.5L664.5 313.4L665.0 313.5L665.5 313.3L666.0 313.4L666.5 313.4L667.0 313.8L667.5 313.5L668.0 313.5L668.5 312.8L669.0 312.4L669.5 312.2L670.0 311.9L670.5 311.8L671.0 311.1L671.5 310.9L672.0 310.3L672.5 309.5L673.0 308.2L673.5 306.6L674.0 305.1L674.5 303.5L675.0 301.3L675.5 298.8L676.0 295.6L676.5 292.3L677.0 288.0L677.5 283.2L678.0 278.0L678.5 272.3L679.0 265.9L679.5 259.0L680.0 252.2L680.5 245.5L681.0 239.1L681.5 232.7L682.0 227.2L682.5 222.4L683.0 219.0L683.5 216.9L684.0 216.3L684.5 217.2L685.0 219.7L685.5 223.6L686.0 228.6L686.5 234.4L687.0 240.9L687.5 247.7L688.0 254.4L688.5 260.9L689.0 267.3L689.5 273.6L690.0 279.4L690.5 284.3L691.0 288.7L691.5 292.9L692.0 296.7L692.5 299.9L693.0 302.4L693.5 304.7L694.0 306.4L694.5 307.9L695.0 308.9L695.5 309.7L696.0 310.1L696.5 310.7L697.0 311.6L697.5 312.3L698.0 312.7L698.5 313.0L699.0 313.2L699.5 313.2L700.0 313.1L700.5 313.3L701.0 313.3L701.5 313.3L702.0 313.3L702.5 313.3L703.0 313.4L703.5 313.3L704.0 313.5L704.5 313.8L705.0 314.1L705.5 314.2L706.0 314.0L706.5 313.8L707.0 313.8L707.5 314.0L708.0 314.5L708.5 314.1L709.0 314.2L709.5 314.0L710.0 313.9L710.5 313.8L711.0 313.7L711.5 313.6L712.0 313.4L712.5 313.0L713.0 312.8L713.5 312.2L714.0 311.7L714.5 310.8L715.0 310.3L715.5 309.1L716.0 308.1L716.5 306.4L717.0 305.3L717.5 303.7L718.0 302.4L718.5 300.5L719.0 299.0L719.5 297.6L720.0 296.9L720.5 296.2L721.0 295.9L721.5 295.9L722.0 296.7L722.5 297.7L723.0 299.2L723.5 300.2L724.0 301.9L724.5 303.1L725.0 304.9L725.5 306.3L726.0 308.1L726.5 309.4L727.0 310.5L727.5 311.6L728.0 312.2L728.5 313.1L729.0 313.3L729.5 314.3L730.0 314.4L730.5 314.5L731.0 314.2L731.5 314.4L732.0 314.7L732.5 314.8L733.0 314.8L733.5 314.8L734.0 314.9L734.5 315.0L735.0 315.0L735.5 315.1L736.0 315.2L736.5 315.3L737.0 315.0L737.5 315.1L738.0 314.8L738.5 315.0L739.0 315.3L739.5 315.5L740.0 315.5L740.5 315.1L741.0 315.3L741.5 315.5L742.0 315.8L742.5 315.8L743.0 315.9L743.5 315.7L744.0 315.3L744.5 315.2L745.0 315.1L745.5 315.5L746.0 315.7L746.5 316.0L747.0 315.5L747.5 315.6L748.0 315.7L748.5 316.0L749.0 315.6L749.5 315.6L750.0 315.6L750.5 315.9L751.0 315.5L751.5 315.3L752.0 315.1L752.5 315.3L753.0 315.4L753.5 315.4L754.0 315.5L754.5 315.6L755.0 315.8L755.5 315.8L756.0 315.8L756.5 315.5L757.0 315.9L757.5 315.7L758.0 315.8L758.5 315.3L759.0 315.4L759.5 315.8L760.0 316.1L760.5 315.9L761.0 315.7L761.5 315.7L762.0 315.9L762.5 315.9L763.0 315.9L763.5 316.0L764.0 316.1L764.5 316.0L765.0 315.5L765.5 315.5L766.0 315.7L766.5 315.7L767.0 315.7L767.5 315.8L768.0 316.0L768.5 315.9L769.0 315.5L769.5 315.6L770.0 315.6L770.5 315.9L771.0 315.6L771.5 315.7L772.0 315.6L772.5 315.9L773.0 316.0L773.5 316.1" fill="none" stroke="#0000ff" stroke-width="3.5" stroke-linejoin="round"/>
<path d="M602.5 350.8L603.0 350.9L603.5 350.9L604.0 350.9L604.5 350.8L605.0 351.0L605.5 351.0L606.0 351.2L606.5 350.9L607.0 350.7L607.5 350.4L608.0 350.5L608.5 350.8L609.0 351.0L609.5 350.9L610.0 350.9L610.5 350.9L611.0 351.3L611.5 351.3L612.0 351.3L612.5 351.1L613.0 350.8L613.5 350.8L614.0 350.9L614.5 351.0L615.0 351.0L615.5 350.8L616.0 350.9L616.5 350.7L617.0 350.8L617.5 350.7L618.0 350.5L618.5 350.5L619.0 350.6L619.5 350.7L620.0 350.6L620.5 350.7L621.0 350.9L621.5 350.7L622.0 350.7L622.5 350.6L623.0 350.7L623.5 350.6L624.0 350.6L624.5 350.5L625.0 350.3L625.5 350.2L626.0 350.5L626.5 350.5L627.0 350.6L627.5 350.2L628.0 350.4L628.5 350.4L629.0 350.4L629.5 350.5L630.0 350.4L630.5 350.6L631.0 350.5L631.5 350.6L632.0 350.6L632.5 350.4L633.0 350.4L633.5 350.3L634.0 350.2L634.5 350.1L635.0 350.0L635.5 350.0L636.0 350.1L636.5 350.1L637.0 350.0L637.5 349.9L638.0 349.8L638.5 349.6L639.0 349.4L639.5 349.7L640.0 349.8L640.5 349.9L641.0 349.6L641.5 349.5L642.0 349.3L642.5 348.9L643.0 348.6L643.5 348.2L644.0 347.9L644.5 347.3L645.0 346.5L645.5 345.7L646.0 344.8L646.5 343.8L647.0 342.9L647.5 341.6L648.0 339.9L648.5 337.9L649.0 335.6L649.5 333.7L650.0 332.1L650.5 330.8L651.0 329.4L651.5 328.5L652.0 328.2L652.5 328.8L653.0 329.5L653.5 330.7L654.0 332.1L654.5 333.6L655.0 335.5L655.5 337.2L656.0 339.1L656.5 340.5L657.0 342.0L657.5 343.3L658.0 344.5L658.5 345.6L659.0 346.4L659.5 346.9L660.0 347.6L660.5 347.8L661.0 348.2L661.5 348.2L662.0 348.3L662.5 348.4L663.0 348.6L663.5 348.7L664.0 348.8L664.5 348.7L665.0 348.7L665.5 348.7L666.0 348.6L666.5 349.0L667.0 349.0L667.5 348.9L668.0 348.8L668.5 348.8L669.0 349.0L669.5 348.7L670.0 348.3L670.5 348.2L671.0 347.9L671.5 348.1L672.0 347.5L672.5 347.4L673.0 346.8L673.5 346.3L674.0 345.8L674.5 345.4L675.0 344.7L675.5 343.4L676.0 342.1L676.5 340.5L677.0 338.7L677.5 336.6L678.0 333.8L678.5 330.8L679.0 326.5L679.5 322.3L680.0 317.6L680.5 312.8L681.0 307.5L681.5 301.6L682.0 295.1L682.5 288.5L683.0 281.9L683.5 275.8L684.0 269.9L684.5 264.6L685.0 260.4L685.5 257.6L686.0 256.2L686.5 255.8L687.0 257.6L687.5 260.7L688.0 265.0L688.5 269.8L689.0 275.2L689.5 281.3L690.0 287.5L690.5 294.3L691.0 300.7L691.5 307.1L692.0 312.5L692.5 317.8L693.0 322.4L693.5 326.8L694.0 330.5L694.5 333.8L695.0 336.4L695.5 338.8L696.0 340.7L696.5 342.1L697.0 343.2L697.5 343.9L698.0 345.1L698.5 346.1L699.0 346.9L699.5 347.2L700.0 347.1L700.5 347.2L701.0 347.2L701.5 347.3L702.0 347.5L702.5 347.8L703.0 348.3L703.5 348.4L704.0 348.6L704.5 348.7L705.0 348.8L705.5 348.8L706.0 348.6L706.5 348.8L707.0 348.7L707.5 348.8L708.0 348.8L708.5 349.1L709.0 349.3L709.5 349.5L710.0 349.2L710.5 349.2L711.0 348.9L711.5 349.0L712.0 348.8L712.5 348.9L713.0 348.7L713.5 348.2L714.0 347.7L714.5 347.3L715.0 347.1L715.5 346.8L716.0 345.7L716.5 344.7L717.0 343.6L717.5 342.5L718.0 341.1L718.5 339.3L719.0 337.7L719.5 335.8L720.0 334.2L720.5 333.1L721.0 332.2L721.5 331.5L722.0 330.8L722.5 330.7L723.0 331.1L723.5 332.2L724.0 333.7L724.5 335.2L725.0 336.7L725.5 338.0L726.0 339.3L726.5 340.8L727.0 342.3L727.5 344.0L728.0 345.0L728.5 346.0L729.0 346.6L729.5 347.3L730.0 348.1L730.5 348.5L731.0 348.9L731.5 348.8L732.0 349.3L732.5 349.6L733.0 349.6L733.5 349.5L734.0 349.7L734.5 349.8L735.0 349.4L735.5 349.4L736.0 349.8L736.5 350.3L737.0 350.4L737.5 350.5L738.0 350.5L738.5 350.5L739.0 350.4L739.5 350.2L740.0 350.3L740.5 350.5L741.0 350.5L741.5 350.4L742.0 350.4L742.5 350.5L743.0 350.5L743.5 350.5L744.0 350.4L744.5 350.4L745.0 350.3L745.5 350.3L746.0 350.4L746.5 350.7L747.0 350.7L747.5 350.6L748.0 350.3L748.5 350.3L749.0 350.4L749.5 350.6L750.0 350.6L750.5 350.7L751.0 350.6L751.5 350.6L752.0 350.6L752.5 350.6L753.0 350.6L753.5 350.4L754.0 350.5L754.5 350.4L755.0 350.3L755.5 350.2L756.0 350.2L756.5 350.5L757.0 350.6L757.5 351.0L758.0 351.0L758.5 351.1L759.0 350.8L759.5 351.1L760.0 351.1L760.5 351.1L761.0 350.8L761.5 350.9L762.0 351.0L762.5 350.7L763.0 350.3L763.5 350.2L764.0 351.0L764.5 351.3L765.0 351.2L765.5 350.8L766.0 350.6L766.5 350.5L767.0 350.6L767.5 350.5L768.0 350.9L768.5 350.6L769.0 350.7L769.5 350.6L770.0 350.7L770.5 350.6L771.0 350.3L771.5 350.7L772.0 350.7L772.5 350.7L773.0 350.8L773.5 350.9" fill="none" stroke="#ff0000" stroke-width="3.5" stroke-linejoin="round"/>
<path d="M602.5 385.5L603.0 385.6L603.5 385.7L604.0 386.1L604.5 386.1L605.0 386.0L605.5 385.5L606.0 385.2L606.5 384.9L607.0 385.3L607.5 385.9L608.0 386.1L608.5 386.1L609.0 385.7L609.5 385.7L610.0 385.6L610.5 385.8L611.0 385.6L611.5 385.7L612.0 385.6L612.5 386.0L613.0 385.9L613.5 386.1L614.0 385.8L614.5 385.7L615.0 385.5L615.5 385.4L616.0 385.5L616.5 385.9L617.0 386.1L617.5 386.1L618.0 385.9L618.5 385.9L619.0 385.7L619.5 385.5L620.0 385.4L620.5 385.6L621.0 385.8L621.5 385.8L622.0 385.7L622.5 385.9L623.0 386.0L623.5 386.2L624.0 386.0L624.5 385.8L625.0 385.7L625.5 385.6L626.0 385.8L626.5 385.8L627.0 385.5L627.5 385.3L628.0 385.1L628.5 385.4L629.0 385.5L629.5 385.6L630.0 385.4L630.5 385.6L631.0 385.6L631.5 385.7L632.0 385.8L632.5 385.5L633.0 385.3L633.5 385.2L634.0 385.6L634.5 385.9L635.0 385.8L635.5 385.7L636.0 385.8L636.5 385.8L637.0 385.7L637.5 385.4L638.0 385.5L638.5 385.5L639.0 385.7L639.5 385.5L640.0 385.5L640.5 385.4L641.0 385.1L641.5 384.9L642.0 384.8L642.5 385.0L643.0 384.7L643.5 384.4L644.0 384.1L644.5 384.3L645.0 384.3L645.5 384.0L646.0 383.8L646.5 383.4L647.0 383.3L647.5 382.7L648.0 382.5L648.5 381.8L649.0 381.2L649.5 380.2L650.0 378.9L650.5 377.7L651.0 376.2L651.5 374.7L652.0 372.9L652.5 370.8L653.0 369.3L653.5 367.2L654.0 366.1L654.5 364.6L655.0 363.9L655.5 363.5L656.0 364.0L656.5 365.0L657.0 366.2L657.5 367.4L658.0 368.8L658.5 370.4L659.0 372.0L659.5 374.0L660.0 375.6L660.5 377.5L661.0 378.6L661.5 380.0L662.0 381.0L662.5 381.6L663.0 382.1L663.5 382.2L664.0 382.9L664.5 383.4L665.0 383.8L665.5 383.8L666.0 383.7L666.5 383.9L667.0 383.9L667.5 384.1L668.0 383.8L668.5 383.8L669.0 383.8L669.5 383.9L670.0 383.7L670.5 383.5L671.0 383.5L671.5 383.6L672.0 383.5L672.5 383.8L673.0 383.9L673.5 384.0L674.0 383.5L674.5 382.9L675.0 382.6L675.5 382.5L676.0 382.2L676.5 382.0L677.0 381.5L677.5 381.2L678.0 380.8L678.5 380.2L679.0 379.4L679.5 378.4L680.0 377.3L680.5 376.0L681.0 373.8L681.5 371.1L682.0 368.2L682.5 365.0L683.0 361.9L683.5 357.6L684.0 352.8L684.5 347.2L685.0 341.8L685.5 335.8L686.0 329.7L686.5 322.8L687.0 316.4L687.5 310.0L688.0 304.3L688.5 298.8L689.0 294.5L689.5 291.1L690.0 289.3L690.5 289.0L691.0 290.5L691.5 293.4L692.0 297.5L692.5 302.5L693.0 308.2L693.5 314.5L694.0 321.2L694.5 327.8L695.0 334.4L695.5 340.9L696.0 346.7L696.5 351.8L697.0 356.6L697.5 360.7L698.0 364.7L698.5 367.7L699.0 370.7L699.5 372.9L700.0 374.8L700.5 376.3L701.0 377.7L701.5 379.1L702.0 380.2L702.5 380.9L703.0 381.1L703.5 381.2L704.0 381.6L704.5 382.1L705.0 382.4L705.5 382.3L706.0 382.7L706.5 382.8L707.0 383.1L707.5 383.3L708.0 383.6L708.5 383.6L709.0 383.5L709.5 383.4L710.0 383.6L710.5 383.6L711.0 383.6L711.5 383.4L712.0 383.6L712.5 383.7L713.0 383.9L713.5 384.0L714.0 383.9L714.5 383.6L715.0 383.1L715.5 382.7L716.0 382.6L716.5 382.7L717.0 382.5L717.5 381.9L718.0 381.0L718.5 380.1L719.0 379.2L719.5 377.9L720.0 376.3L720.5 374.8L721.0 373.4L721.5 371.8L722.0 370.1L722.5 368.6L723.0 367.7L723.5 366.9L724.0 366.5L724.5 366.4L725.0 366.4L725.5 366.7L726.0 367.5L726.5 368.8L727.0 370.3L727.5 371.9L728.0 373.8L728.5 375.2L729.0 376.5L729.5 377.8L730.0 378.9L730.5 380.2L731.0 381.1L731.5 382.2L732.0 383.1L732.5 383.6L733.0 384.2L733.5 384.0L734.0 384.2L734.5 384.4L735.0 384.6L735.5 385.0L736.0 384.9L736.5 385.0L737.0 384.8L737.5 385.1L738.0 385.2L738.5 385.3L739.0 385.1L739.5 384.9L740.0 384.7L740.5 384.5L741.0 384.8L741.5 385.2L742.0 385.5L742.5 385.4L743.0 385.6L743.5 385.7L744.0 385.5L744.5 385.4L745.0 385.4L745.5 385.8L746.0 385.6L746.5 385.5L747.0 385.5L747.5 385.8L748.0 385.7L748.5 385.7L749.0 385.5L749.5 385.6L750.0 385.5L750.5 385.7L751.0 385.9L751.5 386.2L752.0 386.1L752.5 386.3L753.0 386.3L753.5 386.0L754.0 385.6L754.5 385.4L755.0 386.0L755.5 385.9L756.0 385.9L756.5 385.2L757.0 385.3L757.5 385.6L758.0 385.8L758.5 385.9L759.0 385.9L759.5 386.2L760.0 386.0L760.5 385.9L761.0 385.4L761.5 385.4L762.0 385.5L762.5 385.8L763.0 386.0L763.5 385.9L764.0 385.9L764.5 385.7L765.0 385.6L765.5 385.8L766.0 385.8L766.5 385.9L767.0 385.8L767.5 385.5L768.0 385.7L768.5 385.2L769.0 385.4L769.5 385.1L770.0 385.5L770.5 385.4L771.0 385.7L771.5 385.9L772.0 386.3L772.5 386.1L773.0 386.1L773.5 385.7" fill="none" stroke="#000000" stroke-width="3.5" stroke-linejoin="round"/>
</g>
<rect x="29.0" y="2.6" width="549.6" height="402.0" fill="none" stroke="#000" stroke-width="2.2"/>
<rect x="601.0" y="4.1" width="174.0" height="402.0" fill="none" stroke="#000" stroke-width="2.2"/>
<path d="M29.0 404.6V413.9M68.3 404.6V409.9M107.5 404.6V413.9M146.8 404.6V409.9M186.0 404.6V413.9M225.3 404.6V409.9M264.5 404.6V413.9M303.8 404.6V409.9M343.1 404.6V413.9M382.3 404.6V409.9M421.6 404.6V413.9M460.8 404.6V409.9M500.1 404.6V413.9M539.3 404.6V409.9M578.6 404.6V413.9M601.0 406.1V415.1M630.0 406.1V411.1M659.0 406.1V415.1M688.0 406.1V411.1M717.0 406.1V415.1M746.0 406.1V411.1M775.0 406.1V415.1" stroke="#000" stroke-width="2" fill="none"/>
<text transform="translate(29.0,435.8) scale(1,1.05)" font-size="21.3" text-anchor="middle">10</text>
<text transform="translate(107.5,435.8) scale(1,1.05)" font-size="21.3" text-anchor="middle">20</text>
<text transform="translate(186.0,435.8) scale(1,1.05)" font-size="21.3" text-anchor="middle">30</text>
<text transform="translate(264.5,435.8) scale(1,1.05)" font-size="21.3" text-anchor="middle">40</text>
<text transform="translate(343.1,435.8) scale(1,1.05)" font-size="21.3" text-anchor="middle">50</text>
<text transform="translate(421.6,435.8) scale(1,1.05)" font-size="21.3" text-anchor="middle">60</text>
<text transform="translate(500.1,435.8) scale(1,1.05)" font-size="21.3" text-anchor="middle">70</text>
<text transform="translate(578.6,435.8) scale(1,1.05)" font-size="21.3" text-anchor="middle">80</text>
<text transform="translate(601.0,436.7) scale(1,1.05)" font-size="21.3" text-anchor="middle">30</text>
<text transform="translate(659.0,436.7) scale(1,1.05)" font-size="21.3" text-anchor="middle">31</text>
<text transform="translate(717.0,436.7) scale(1,1.05)" font-size="21.3" text-anchor="middle">32</text>
<text transform="translate(775.0,436.7) scale(1,1.05)" font-size="21.3" text-anchor="middle">33</text>
<text x="256.3" y="459.9" font-size="22.3" font-weight="bold" textLength="94.9" lengthAdjust="spacingAndGlyphs">2&#952;/degree</text>
<text x="644.0" y="461.1" font-size="22.3" font-weight="bold" textLength="94.5" lengthAdjust="spacingAndGlyphs">2&#952;/degree</text>
<text transform="translate(18.2,347.6) rotate(-90) scale(1,1.025)" font-size="24" font-weight="bold" textLength="235.7" lengthAdjust="spacingAndGlyphs">Relative intensity (a.u.)</text>
<text x="38.5" y="37.0" font-size="32" font-weight="bold" textLength="37.6" lengthAdjust="spacingAndGlyphs">(a)</text>
<text x="607.9" y="36.6" font-size="32" font-weight="bold" textLength="39.2" lengthAdjust="spacingAndGlyphs">(b)</text>
<text transform="translate(32.6,69.7) scale(1,1.05)" font-size="22" font-weight="bold" textLength="49" lengthAdjust="spacingAndGlyphs">x=1.0</text>
<text transform="translate(32.7,102.0) scale(1,1.05)" font-size="22" font-weight="bold" textLength="49" lengthAdjust="spacingAndGlyphs">x=0.9</text>
<text transform="translate(32.8,137.6) scale(1,1.05)" font-size="22" font-weight="bold" textLength="49" lengthAdjust="spacingAndGlyphs">x=0.8</text>
<text transform="translate(32.7,172.7) scale(1,1.05)" font-size="22" font-weight="bold" textLength="49" lengthAdjust="spacingAndGlyphs">x=0.7</text>
<text transform="translate(32.6,209.5) scale(1,1.05)" font-size="22" font-weight="bold" textLength="49" lengthAdjust="spacingAndGlyphs">x=0.6</text>
<text transform="translate(31.8,242.0) scale(1,1.05)" font-size="22" font-weight="bold" textLength="49" lengthAdjust="spacingAndGlyphs">x=0.5</text>
<text transform="translate(32.7,277.7) scale(1,1.05)" font-size="22" font-weight="bold" textLength="49" lengthAdjust="spacingAndGlyphs">x=0.4</text>
<text transform="translate(31.9,313.1) scale(1,1.05)" font-size="22" font-weight="bold" textLength="49" lengthAdjust="spacingAndGlyphs">x=0.3</text>
<text transform="translate(31.7,347.0) scale(1,1.05)" font-size="22" font-weight="bold" textLength="49" lengthAdjust="spacingAndGlyphs">x=0.2</text>
<text transform="translate(31.5,382.4) scale(1,1.05)" font-size="22" font-weight="bold" textLength="49" lengthAdjust="spacingAndGlyphs">x=0.1</text>
</svg></body></html>
